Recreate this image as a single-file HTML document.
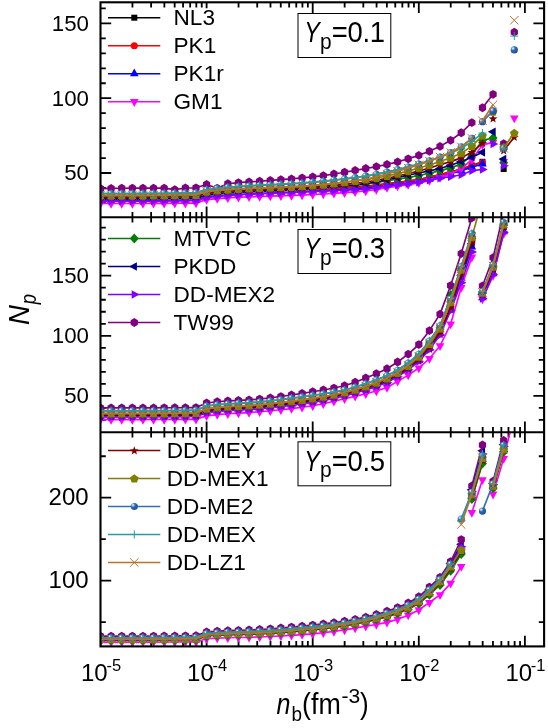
<!DOCTYPE html>
<html><head><meta charset="utf-8"><title>Np vs nb</title>
<style>html,body{margin:0;padding:0;background:#fff}body{width:548px;height:728px;position:relative;overflow:hidden;font-family:"Liberation Sans",sans-serif}svg text{font-family:"Liberation Sans",sans-serif;fill:#000}</style></head>
<body>
<svg width="548" height="728" viewBox="0 0 548 728" style="position:absolute;left:0;top:0;will-change:transform">
<defs><radialGradient id="sph" cx="0.32" cy="0.3" r="0.7"><stop offset="0" stop-color="#ffffff"/><stop offset="0.16" stop-color="#a9c6ea"/><stop offset="0.42" stop-color="#2f6bb8"/><stop offset="1" stop-color="#1d4f9a"/></radialGradient>
<clipPath id="c0"><rect x="100.5" y="2.3" width="443.6" height="215.0"/></clipPath>
<clipPath id="c1"><rect x="100.5" y="217.3" width="443.6" height="215.0"/></clipPath>
<clipPath id="c2"><rect x="100.5" y="432.3" width="443.6" height="214.09999999999997"/></clipPath>
</defs>
<rect width="548" height="728" fill="#fff"/>
<path d="M132.44 2.3L132.44 7.6M151.12 2.3L151.12 7.6M164.38 2.3L164.38 7.6M174.66 2.3L174.66 7.6M183.06 2.3L183.06 7.6M190.16 2.3L190.16 7.6M196.32 2.3L196.32 7.6M201.75 2.3L201.75 7.6M206.6 2.3L206.6 8.3M238.54 2.3L238.54 7.6M257.22 2.3L257.22 7.6M270.48 2.3L270.48 7.6M280.76 2.3L280.76 7.6M289.16 2.3L289.16 7.6M296.26 2.3L296.26 7.6M302.42 2.3L302.42 7.6M307.85 2.3L307.85 7.6M312.7 2.3L312.7 13M344.64 2.3L344.64 7.6M363.32 2.3L363.32 7.6M376.58 2.3L376.58 7.6M386.86 2.3L386.86 7.6M395.26 2.3L395.26 7.6M402.36 2.3L402.36 7.6M408.52 2.3L408.52 7.6M413.95 2.3L413.95 7.6M418.8 2.3L418.8 13M450.74 2.3L450.74 7.6M469.42 2.3L469.42 7.6M482.68 2.3L482.68 7.6M492.96 2.3L492.96 7.6M501.36 2.3L501.36 7.6M508.46 2.3L508.46 7.6M514.62 2.3L514.62 7.6M520.05 2.3L520.05 7.6M524.9 2.3L524.9 13M524.9 2.3L524.9 13M524.9 2.3L524.9 13M132.44 212L132.44 222.6M151.12 212L151.12 222.6M164.38 212L164.38 222.6M174.66 212L174.66 222.6M183.06 212L183.06 222.6M190.16 212L190.16 222.6M196.32 212L196.32 222.6M201.75 212L201.75 222.6M206.6 206.6L206.6 228M238.54 212L238.54 222.6M257.22 212L257.22 222.6M270.48 212L270.48 222.6M280.76 212L280.76 222.6M289.16 212L289.16 222.6M296.26 212L296.26 222.6M302.42 212L302.42 222.6M307.85 212L307.85 222.6M312.7 206.6L312.7 228M344.64 212L344.64 222.6M363.32 212L363.32 222.6M376.58 212L376.58 222.6M386.86 212L386.86 222.6M395.26 212L395.26 222.6M402.36 212L402.36 222.6M408.52 212L408.52 222.6M413.95 212L413.95 222.6M418.8 206.6L418.8 228M450.74 212L450.74 222.6M469.42 212L469.42 222.6M482.68 212L482.68 222.6M492.96 212L492.96 222.6M501.36 212L501.36 222.6M508.46 212L508.46 222.6M514.62 212L514.62 222.6M520.05 212L520.05 222.6M524.9 206.6L524.9 228M524.9 206.6L524.9 228M524.9 206.6L524.9 228M132.44 427L132.44 437.6M151.12 427L151.12 437.6M164.38 427L164.38 437.6M174.66 427L174.66 437.6M183.06 427L183.06 437.6M190.16 427L190.16 437.6M196.32 427L196.32 437.6M201.75 427L201.75 437.6M206.6 421.6L206.6 443M238.54 427L238.54 437.6M257.22 427L257.22 437.6M270.48 427L270.48 437.6M280.76 427L280.76 437.6M289.16 427L289.16 437.6M296.26 427L296.26 437.6M302.42 427L302.42 437.6M307.85 427L307.85 437.6M312.7 421.6L312.7 443M344.64 427L344.64 437.6M363.32 427L363.32 437.6M376.58 427L376.58 437.6M386.86 427L386.86 437.6M395.26 427L395.26 437.6M402.36 427L402.36 437.6M408.52 427L408.52 437.6M413.95 427L413.95 437.6M418.8 421.6L418.8 443M450.74 427L450.74 437.6M469.42 427L469.42 437.6M482.68 427L482.68 437.6M492.96 427L492.96 437.6M501.36 427L501.36 437.6M508.46 427L508.46 437.6M514.62 427L514.62 437.6M520.05 427L520.05 437.6M524.9 421.6L524.9 443M524.9 421.6L524.9 443M524.9 421.6L524.9 443M132.44 646.4L132.44 641.1M151.12 646.4L151.12 641.1M164.38 646.4L164.38 641.1M174.66 646.4L174.66 641.1M183.06 646.4L183.06 641.1M190.16 646.4L190.16 641.1M196.32 646.4L196.32 641.1M201.75 646.4L201.75 641.1M206.6 646.4L206.6 635.7M238.54 646.4L238.54 641.1M257.22 646.4L257.22 641.1M270.48 646.4L270.48 641.1M280.76 646.4L280.76 641.1M289.16 646.4L289.16 641.1M296.26 646.4L296.26 641.1M302.42 646.4L302.42 641.1M307.85 646.4L307.85 641.1M312.7 646.4L312.7 635.7M344.64 646.4L344.64 641.1M363.32 646.4L363.32 641.1M376.58 646.4L376.58 641.1M386.86 646.4L386.86 641.1M395.26 646.4L395.26 641.1M402.36 646.4L402.36 641.1M408.52 646.4L408.52 641.1M413.95 646.4L413.95 641.1M418.8 646.4L418.8 635.7M450.74 646.4L450.74 641.1M469.42 646.4L469.42 641.1M482.68 646.4L482.68 641.1M492.96 646.4L492.96 641.1M501.36 646.4L501.36 641.1M508.46 646.4L508.46 641.1M514.62 646.4L514.62 641.1M520.05 646.4L520.05 641.1M524.9 646.4L524.9 635.7M524.9 646.4L524.9 635.7M524.9 646.4L524.9 635.7M100.5 173L111.2 173M544.1 173L533.4 173M100.5 98.2L111.2 98.2M544.1 98.2L533.4 98.2M100.5 23.4L111.2 23.4M544.1 23.4L533.4 23.4M100.5 202.92L105.8 202.92M544.1 202.92L538.8 202.92M100.5 187.96L105.8 187.96M544.1 187.96L538.8 187.96M100.5 158.04L105.8 158.04M544.1 158.04L538.8 158.04M100.5 143.08L105.8 143.08M544.1 143.08L538.8 143.08M100.5 128.12L105.8 128.12M544.1 128.12L538.8 128.12M100.5 113.16L105.8 113.16M544.1 113.16L538.8 113.16M100.5 83.24L105.8 83.24M544.1 83.24L538.8 83.24M100.5 68.28L105.8 68.28M544.1 68.28L538.8 68.28M100.5 53.32L105.8 53.32M544.1 53.32L538.8 53.32M100.5 38.36L105.8 38.36M544.1 38.36L538.8 38.36M100.5 8.44L105.8 8.44M544.1 8.44L538.8 8.44M100.5 395.9L111.2 395.9M544.1 395.9L533.4 395.9M100.5 335.8L111.2 335.8M544.1 335.8L533.4 335.8M100.5 275.7L111.2 275.7M544.1 275.7L533.4 275.7M100.5 419.94L105.8 419.94M544.1 419.94L538.8 419.94M100.5 407.92L105.8 407.92M544.1 407.92L538.8 407.92M100.5 383.88L105.8 383.88M544.1 383.88L538.8 383.88M100.5 371.86L105.8 371.86M544.1 371.86L538.8 371.86M100.5 359.84L105.8 359.84M544.1 359.84L538.8 359.84M100.5 347.82L105.8 347.82M544.1 347.82L538.8 347.82M100.5 323.78L105.8 323.78M544.1 323.78L538.8 323.78M100.5 311.76L105.8 311.76M544.1 311.76L538.8 311.76M100.5 299.74L105.8 299.74M544.1 299.74L538.8 299.74M100.5 287.72L105.8 287.72M544.1 287.72L538.8 287.72M100.5 263.68L105.8 263.68M544.1 263.68L538.8 263.68M100.5 251.66L105.8 251.66M544.1 251.66L538.8 251.66M100.5 239.64L105.8 239.64M544.1 239.64L538.8 239.64M100.5 227.62L105.8 227.62M544.1 227.62L538.8 227.62M100.5 580.6L111.2 580.6M544.1 580.6L533.4 580.6M100.5 497.7L111.2 497.7M544.1 497.7L533.4 497.7M100.5 622.05L105.8 622.05M544.1 622.05L538.8 622.05M100.5 539.15L105.8 539.15M544.1 539.15L538.8 539.15M100.5 456.25L105.8 456.25M544.1 456.25L538.8 456.25" stroke="#000" stroke-width="1.8" fill="none"/>
<g clip-path="url(#c0)">
<polyline points="100.5,197.68 111.11,197.68 121.72,197.66 132.33,197.63 142.94,197.59 153.55,197.51 164.16,197.42 174.77,197.29 185.38,197.13 195.99,196.94 206.6,193.94 217.21,193.03 227.82,192.3 238.43,191.74 249.04,191.29 259.65,190.94 270.26,190.63 280.87,190.33 291.48,190.01 302.09,189.63 312.7,189.16 323.31,188.63 333.92,188.12 344.53,187.56 355.14,186.93 365.75,186.16 376.36,185.08 386.97,183.77 397.58,182.52 408.19,181.19 418.8,179.58 429.41,177.32 440.02,174.65 450.63,171.93 461.24,168.96 471.85,165.52 482.46,161.78" fill="none" stroke="#000000" stroke-width="1.65" stroke-linejoin="round"/>
<rect x="97.5" y="194.68" width="6.0" height="6.0" fill="#000000"/>
<rect x="108.11" y="194.68" width="6.0" height="6.0" fill="#000000"/>
<rect x="118.72" y="194.66" width="6.0" height="6.0" fill="#000000"/>
<rect x="129.33" y="194.63" width="6.0" height="6.0" fill="#000000"/>
<rect x="139.94" y="194.59" width="6.0" height="6.0" fill="#000000"/>
<rect x="150.55" y="194.51" width="6.0" height="6.0" fill="#000000"/>
<rect x="161.16" y="194.42" width="6.0" height="6.0" fill="#000000"/>
<rect x="171.77" y="194.29" width="6.0" height="6.0" fill="#000000"/>
<rect x="182.38" y="194.13" width="6.0" height="6.0" fill="#000000"/>
<rect x="192.99" y="193.94" width="6.0" height="6.0" fill="#000000"/>
<rect x="203.6" y="190.94" width="6.0" height="6.0" fill="#000000"/>
<rect x="214.21" y="190.03" width="6.0" height="6.0" fill="#000000"/>
<rect x="224.82" y="189.3" width="6.0" height="6.0" fill="#000000"/>
<rect x="235.43" y="188.74" width="6.0" height="6.0" fill="#000000"/>
<rect x="246.04" y="188.29" width="6.0" height="6.0" fill="#000000"/>
<rect x="256.65" y="187.94" width="6.0" height="6.0" fill="#000000"/>
<rect x="267.26" y="187.63" width="6.0" height="6.0" fill="#000000"/>
<rect x="277.87" y="187.33" width="6.0" height="6.0" fill="#000000"/>
<rect x="288.48" y="187.01" width="6.0" height="6.0" fill="#000000"/>
<rect x="299.09" y="186.63" width="6.0" height="6.0" fill="#000000"/>
<rect x="309.7" y="186.16" width="6.0" height="6.0" fill="#000000"/>
<rect x="320.31" y="185.63" width="6.0" height="6.0" fill="#000000"/>
<rect x="330.92" y="185.12" width="6.0" height="6.0" fill="#000000"/>
<rect x="341.53" y="184.56" width="6.0" height="6.0" fill="#000000"/>
<rect x="352.14" y="183.93" width="6.0" height="6.0" fill="#000000"/>
<rect x="362.75" y="183.16" width="6.0" height="6.0" fill="#000000"/>
<rect x="373.36" y="182.08" width="6.0" height="6.0" fill="#000000"/>
<rect x="383.97" y="180.77" width="6.0" height="6.0" fill="#000000"/>
<rect x="394.58" y="179.52" width="6.0" height="6.0" fill="#000000"/>
<rect x="405.19" y="178.19" width="6.0" height="6.0" fill="#000000"/>
<rect x="415.8" y="176.58" width="6.0" height="6.0" fill="#000000"/>
<rect x="426.41" y="174.32" width="6.0" height="6.0" fill="#000000"/>
<rect x="437.02" y="171.65" width="6.0" height="6.0" fill="#000000"/>
<rect x="447.63" y="168.93" width="6.0" height="6.0" fill="#000000"/>
<rect x="458.24" y="165.96" width="6.0" height="6.0" fill="#000000"/>
<rect x="468.85" y="162.52" width="6.0" height="6.0" fill="#000000"/>
<rect x="479.46" y="158.78" width="6.0" height="6.0" fill="#000000"/>
<rect x="500.68" y="165.96" width="6.0" height="6.0" fill="#000000"/>
<polyline points="100.5,198.43 111.11,198.43 121.72,198.41 132.33,198.38 142.94,198.33 153.55,198.26 164.16,198.17 174.77,198.04 185.38,197.88 195.99,197.68 206.6,194.69 217.21,193.7 227.82,192.92 238.43,192.3 249.04,191.8 259.65,191.4 270.26,191.05 280.87,190.72 291.48,190.37 302.09,189.96 312.7,189.46 323.31,188.92 333.92,188.42 344.53,187.88 355.14,187.25 365.75,186.46 376.36,185.24 386.97,183.77 397.58,182.48 408.19,181.17 418.8,179.58 429.41,177.32 440.02,174.65 450.63,171.93 461.24,168.96 471.85,165.52 482.46,162.53" fill="none" stroke="#ff0000" stroke-width="1.65" stroke-linejoin="round"/>
<circle cx="100.5" cy="198.43" r="3.5" fill="#ff0000"/>
<circle cx="111.11" cy="198.43" r="3.5" fill="#ff0000"/>
<circle cx="121.72" cy="198.41" r="3.5" fill="#ff0000"/>
<circle cx="132.33" cy="198.38" r="3.5" fill="#ff0000"/>
<circle cx="142.94" cy="198.33" r="3.5" fill="#ff0000"/>
<circle cx="153.55" cy="198.26" r="3.5" fill="#ff0000"/>
<circle cx="164.16" cy="198.17" r="3.5" fill="#ff0000"/>
<circle cx="174.77" cy="198.04" r="3.5" fill="#ff0000"/>
<circle cx="185.38" cy="197.88" r="3.5" fill="#ff0000"/>
<circle cx="195.99" cy="197.68" r="3.5" fill="#ff0000"/>
<circle cx="206.6" cy="194.69" r="3.5" fill="#ff0000"/>
<circle cx="217.21" cy="193.7" r="3.5" fill="#ff0000"/>
<circle cx="227.82" cy="192.92" r="3.5" fill="#ff0000"/>
<circle cx="238.43" cy="192.3" r="3.5" fill="#ff0000"/>
<circle cx="249.04" cy="191.8" r="3.5" fill="#ff0000"/>
<circle cx="259.65" cy="191.4" r="3.5" fill="#ff0000"/>
<circle cx="270.26" cy="191.05" r="3.5" fill="#ff0000"/>
<circle cx="280.87" cy="190.72" r="3.5" fill="#ff0000"/>
<circle cx="291.48" cy="190.37" r="3.5" fill="#ff0000"/>
<circle cx="302.09" cy="189.96" r="3.5" fill="#ff0000"/>
<circle cx="312.7" cy="189.46" r="3.5" fill="#ff0000"/>
<circle cx="323.31" cy="188.92" r="3.5" fill="#ff0000"/>
<circle cx="333.92" cy="188.42" r="3.5" fill="#ff0000"/>
<circle cx="344.53" cy="187.88" r="3.5" fill="#ff0000"/>
<circle cx="355.14" cy="187.25" r="3.5" fill="#ff0000"/>
<circle cx="365.75" cy="186.46" r="3.5" fill="#ff0000"/>
<circle cx="376.36" cy="185.24" r="3.5" fill="#ff0000"/>
<circle cx="386.97" cy="183.77" r="3.5" fill="#ff0000"/>
<circle cx="397.58" cy="182.48" r="3.5" fill="#ff0000"/>
<circle cx="408.19" cy="181.17" r="3.5" fill="#ff0000"/>
<circle cx="418.8" cy="179.58" r="3.5" fill="#ff0000"/>
<circle cx="429.41" cy="177.32" r="3.5" fill="#ff0000"/>
<circle cx="440.02" cy="174.65" r="3.5" fill="#ff0000"/>
<circle cx="450.63" cy="171.93" r="3.5" fill="#ff0000"/>
<circle cx="461.24" cy="168.96" r="3.5" fill="#ff0000"/>
<circle cx="471.85" cy="165.52" r="3.5" fill="#ff0000"/>
<circle cx="482.46" cy="162.53" r="3.5" fill="#ff0000"/>
<polyline points="100.5,200.98 111.11,200.97 121.72,200.96 132.33,200.93 142.94,200.88 153.55,200.81 164.16,200.71 174.77,200.58 185.38,200.42 195.99,200.23 206.6,197.24 217.21,196.14 227.82,195.25 238.43,194.55 249.04,193.98 259.65,193.51 270.26,193.09 280.87,192.7 291.48,192.29 302.09,191.82 312.7,191.25 323.31,190.65 333.92,190.08 344.53,189.47 355.14,188.78 365.75,187.96 376.36,186.79 386.97,185.42 397.58,184.13 408.19,182.81 418.8,181.23 429.41,179.12 440.02,176.59 450.63,173.75 461.24,170.61 471.85,167.17 482.46,164.02" fill="none" stroke="#0000ff" stroke-width="1.65" stroke-linejoin="round"/>
<polygon points="100.5,195.78 104.8,203.58 96.2,203.58" fill="#0000ff"/>
<polygon points="111.11,195.77 115.41,203.57 106.81,203.57" fill="#0000ff"/>
<polygon points="121.72,195.76 126.02,203.56 117.42,203.56" fill="#0000ff"/>
<polygon points="132.33,195.73 136.63,203.53 128.03,203.53" fill="#0000ff"/>
<polygon points="142.94,195.68 147.24,203.48 138.64,203.48" fill="#0000ff"/>
<polygon points="153.55,195.61 157.85,203.41 149.25,203.41" fill="#0000ff"/>
<polygon points="164.16,195.51 168.46,203.31 159.86,203.31" fill="#0000ff"/>
<polygon points="174.77,195.38 179.07,203.18 170.47,203.18" fill="#0000ff"/>
<polygon points="185.38,195.22 189.68,203.02 181.08,203.02" fill="#0000ff"/>
<polygon points="195.99,195.03 200.29,202.83 191.69,202.83" fill="#0000ff"/>
<polygon points="206.6,192.04 210.9,199.84 202.3,199.84" fill="#0000ff"/>
<polygon points="217.21,190.94 221.51,198.74 212.91,198.74" fill="#0000ff"/>
<polygon points="227.82,190.05 232.12,197.85 223.52,197.85" fill="#0000ff"/>
<polygon points="238.43,189.35 242.73,197.15 234.13,197.15" fill="#0000ff"/>
<polygon points="249.04,188.78 253.34,196.58 244.74,196.58" fill="#0000ff"/>
<polygon points="259.65,188.31 263.95,196.11 255.35,196.11" fill="#0000ff"/>
<polygon points="270.26,187.89 274.56,195.69 265.96,195.69" fill="#0000ff"/>
<polygon points="280.87,187.5 285.17,195.3 276.57,195.3" fill="#0000ff"/>
<polygon points="291.48,187.09 295.78,194.89 287.18,194.89" fill="#0000ff"/>
<polygon points="302.09,186.62 306.39,194.42 297.79,194.42" fill="#0000ff"/>
<polygon points="312.7,186.05 317,193.85 308.4,193.85" fill="#0000ff"/>
<polygon points="323.31,185.45 327.61,193.25 319.01,193.25" fill="#0000ff"/>
<polygon points="333.92,184.88 338.22,192.68 329.62,192.68" fill="#0000ff"/>
<polygon points="344.53,184.27 348.83,192.07 340.23,192.07" fill="#0000ff"/>
<polygon points="355.14,183.58 359.44,191.38 350.84,191.38" fill="#0000ff"/>
<polygon points="365.75,182.76 370.05,190.56 361.45,190.56" fill="#0000ff"/>
<polygon points="376.36,181.59 380.66,189.39 372.06,189.39" fill="#0000ff"/>
<polygon points="386.97,180.22 391.27,188.02 382.67,188.02" fill="#0000ff"/>
<polygon points="397.58,178.93 401.88,186.73 393.28,186.73" fill="#0000ff"/>
<polygon points="408.19,177.61 412.49,185.41 403.89,185.41" fill="#0000ff"/>
<polygon points="418.8,176.03 423.1,183.83 414.5,183.83" fill="#0000ff"/>
<polygon points="429.41,173.92 433.71,181.72 425.11,181.72" fill="#0000ff"/>
<polygon points="440.02,171.39 444.32,179.19 435.72,179.19" fill="#0000ff"/>
<polygon points="450.63,168.55 454.93,176.35 446.33,176.35" fill="#0000ff"/>
<polygon points="461.24,165.41 465.54,173.21 456.94,173.21" fill="#0000ff"/>
<polygon points="471.85,161.97 476.15,169.77 467.55,169.77" fill="#0000ff"/>
<polygon points="482.46,158.82 486.76,166.62 478.16,166.62" fill="#0000ff"/>
<polyline points="100.5,203.52 111.11,203.52 121.72,203.51 132.33,203.49 142.94,203.46 153.55,203.42 164.16,203.36 174.77,203.29 185.38,203.19 195.99,203.07 206.6,199.63 217.21,198.64 227.82,197.87 238.43,197.28 249.04,196.82 259.65,196.46 270.26,196.14 280.87,195.83 291.48,195.49 302.09,195.08 312.7,194.54 323.31,193.95 333.92,193.35 344.53,192.69 355.14,191.91 365.75,190.95 376.36,189.45 386.97,187.66 397.58,186.15 408.19,184.65 418.8,182.87 429.41,180.58 440.02,177.64 450.63,173.88 461.24,168.66 471.85,159.69 482.46,144.88 493.07,142.33" fill="none" stroke="#ff00ff" stroke-width="1.65" stroke-linejoin="round"/>
<polygon points="100.5,208.72 104.8,200.92 96.2,200.92" fill="#ff00ff"/>
<polygon points="111.11,208.72 115.41,200.92 106.81,200.92" fill="#ff00ff"/>
<polygon points="121.72,208.71 126.02,200.91 117.42,200.91" fill="#ff00ff"/>
<polygon points="132.33,208.69 136.63,200.89 128.03,200.89" fill="#ff00ff"/>
<polygon points="142.94,208.66 147.24,200.86 138.64,200.86" fill="#ff00ff"/>
<polygon points="153.55,208.62 157.85,200.82 149.25,200.82" fill="#ff00ff"/>
<polygon points="164.16,208.56 168.46,200.76 159.86,200.76" fill="#ff00ff"/>
<polygon points="174.77,208.49 179.07,200.69 170.47,200.69" fill="#ff00ff"/>
<polygon points="185.38,208.39 189.68,200.59 181.08,200.59" fill="#ff00ff"/>
<polygon points="195.99,208.27 200.29,200.47 191.69,200.47" fill="#ff00ff"/>
<polygon points="206.6,204.83 210.9,197.03 202.3,197.03" fill="#ff00ff"/>
<polygon points="217.21,203.84 221.51,196.04 212.91,196.04" fill="#ff00ff"/>
<polygon points="227.82,203.07 232.12,195.27 223.52,195.27" fill="#ff00ff"/>
<polygon points="238.43,202.48 242.73,194.68 234.13,194.68" fill="#ff00ff"/>
<polygon points="249.04,202.02 253.34,194.22 244.74,194.22" fill="#ff00ff"/>
<polygon points="259.65,201.66 263.95,193.86 255.35,193.86" fill="#ff00ff"/>
<polygon points="270.26,201.34 274.56,193.54 265.96,193.54" fill="#ff00ff"/>
<polygon points="280.87,201.03 285.17,193.23 276.57,193.23" fill="#ff00ff"/>
<polygon points="291.48,200.69 295.78,192.89 287.18,192.89" fill="#ff00ff"/>
<polygon points="302.09,200.28 306.39,192.48 297.79,192.48" fill="#ff00ff"/>
<polygon points="312.7,199.74 317,191.94 308.4,191.94" fill="#ff00ff"/>
<polygon points="323.31,199.15 327.61,191.35 319.01,191.35" fill="#ff00ff"/>
<polygon points="333.92,198.55 338.22,190.75 329.62,190.75" fill="#ff00ff"/>
<polygon points="344.53,197.89 348.83,190.09 340.23,190.09" fill="#ff00ff"/>
<polygon points="355.14,197.11 359.44,189.31 350.84,189.31" fill="#ff00ff"/>
<polygon points="365.75,196.15 370.05,188.35 361.45,188.35" fill="#ff00ff"/>
<polygon points="376.36,194.65 380.66,186.85 372.06,186.85" fill="#ff00ff"/>
<polygon points="386.97,192.86 391.27,185.06 382.67,185.06" fill="#ff00ff"/>
<polygon points="397.58,191.35 401.88,183.55 393.28,183.55" fill="#ff00ff"/>
<polygon points="408.19,189.85 412.49,182.05 403.89,182.05" fill="#ff00ff"/>
<polygon points="418.8,188.07 423.1,180.27 414.5,180.27" fill="#ff00ff"/>
<polygon points="429.41,185.78 433.71,177.98 425.11,177.98" fill="#ff00ff"/>
<polygon points="440.02,182.84 444.32,175.04 435.72,175.04" fill="#ff00ff"/>
<polygon points="450.63,179.08 454.93,171.28 446.33,171.28" fill="#ff00ff"/>
<polygon points="461.24,173.86 465.54,166.06 456.94,166.06" fill="#ff00ff"/>
<polygon points="471.85,164.89 476.15,157.09 467.55,157.09" fill="#ff00ff"/>
<polygon points="482.46,150.08 486.76,142.28 478.16,142.28" fill="#ff00ff"/>
<polygon points="493.07,147.53 497.37,139.73 488.77,139.73" fill="#ff00ff"/>
<polygon points="503.68,166.68 507.98,158.88 499.38,158.88" fill="#ff00ff"/>
<polygon points="514.29,123.3 518.59,115.5 509.99,115.5" fill="#ff00ff"/>
<polyline points="100.5,198.43 111.11,198.43 121.72,198.41 132.33,198.38 142.94,198.33 153.55,198.26 164.16,198.17 174.77,198.04 185.38,197.88 195.99,197.68 206.6,194.69 217.21,193.54 227.82,192.62 238.43,191.89 249.04,191.31 259.65,190.82 270.26,190.39 280.87,189.96 291.48,189.49 302.09,188.94 312.7,188.26 323.31,187.49 333.92,186.69 344.53,185.82 355.14,184.86 365.75,183.77 376.36,182.39 386.97,180.78 397.58,179.17 408.19,177.46 418.8,175.54 429.41,173.26 440.02,170.61 450.63,167.88 461.24,164.02 471.85,155.05 482.46,140.39 493.07,137.99" fill="none" stroke="#008000" stroke-width="1.65" stroke-linejoin="round"/>
<polygon points="100.5,193.43 105,198.43 100.5,203.43 96,198.43" fill="#008000"/>
<polygon points="111.11,193.43 115.61,198.43 111.11,203.43 106.61,198.43" fill="#008000"/>
<polygon points="121.72,193.41 126.22,198.41 121.72,203.41 117.22,198.41" fill="#008000"/>
<polygon points="132.33,193.38 136.83,198.38 132.33,203.38 127.83,198.38" fill="#008000"/>
<polygon points="142.94,193.33 147.44,198.33 142.94,203.33 138.44,198.33" fill="#008000"/>
<polygon points="153.55,193.26 158.05,198.26 153.55,203.26 149.05,198.26" fill="#008000"/>
<polygon points="164.16,193.17 168.66,198.17 164.16,203.17 159.66,198.17" fill="#008000"/>
<polygon points="174.77,193.04 179.27,198.04 174.77,203.04 170.27,198.04" fill="#008000"/>
<polygon points="185.38,192.88 189.88,197.88 185.38,202.88 180.88,197.88" fill="#008000"/>
<polygon points="195.99,192.68 200.49,197.68 195.99,202.68 191.49,197.68" fill="#008000"/>
<polygon points="206.6,189.69 211.1,194.69 206.6,199.69 202.1,194.69" fill="#008000"/>
<polygon points="217.21,188.54 221.71,193.54 217.21,198.54 212.71,193.54" fill="#008000"/>
<polygon points="227.82,187.62 232.32,192.62 227.82,197.62 223.32,192.62" fill="#008000"/>
<polygon points="238.43,186.89 242.93,191.89 238.43,196.89 233.93,191.89" fill="#008000"/>
<polygon points="249.04,186.31 253.54,191.31 249.04,196.31 244.54,191.31" fill="#008000"/>
<polygon points="259.65,185.82 264.15,190.82 259.65,195.82 255.15,190.82" fill="#008000"/>
<polygon points="270.26,185.39 274.76,190.39 270.26,195.39 265.76,190.39" fill="#008000"/>
<polygon points="280.87,184.96 285.37,189.96 280.87,194.96 276.37,189.96" fill="#008000"/>
<polygon points="291.48,184.49 295.98,189.49 291.48,194.49 286.98,189.49" fill="#008000"/>
<polygon points="302.09,183.94 306.59,188.94 302.09,193.94 297.59,188.94" fill="#008000"/>
<polygon points="312.7,183.26 317.2,188.26 312.7,193.26 308.2,188.26" fill="#008000"/>
<polygon points="323.31,182.49 327.81,187.49 323.31,192.49 318.81,187.49" fill="#008000"/>
<polygon points="333.92,181.69 338.42,186.69 333.92,191.69 329.42,186.69" fill="#008000"/>
<polygon points="344.53,180.82 349.03,185.82 344.53,190.82 340.03,185.82" fill="#008000"/>
<polygon points="355.14,179.86 359.64,184.86 355.14,189.86 350.64,184.86" fill="#008000"/>
<polygon points="365.75,178.77 370.25,183.77 365.75,188.77 361.25,183.77" fill="#008000"/>
<polygon points="376.36,177.39 380.86,182.39 376.36,187.39 371.86,182.39" fill="#008000"/>
<polygon points="386.97,175.78 391.47,180.78 386.97,185.78 382.47,180.78" fill="#008000"/>
<polygon points="397.58,174.17 402.08,179.17 397.58,184.17 393.08,179.17" fill="#008000"/>
<polygon points="408.19,172.46 412.69,177.46 408.19,182.46 403.69,177.46" fill="#008000"/>
<polygon points="418.8,170.54 423.3,175.54 418.8,180.54 414.3,175.54" fill="#008000"/>
<polygon points="429.41,168.26 433.91,173.26 429.41,178.26 424.91,173.26" fill="#008000"/>
<polygon points="440.02,165.61 444.52,170.61 440.02,175.61 435.52,170.61" fill="#008000"/>
<polygon points="450.63,162.88 455.13,167.88 450.63,172.88 446.13,167.88" fill="#008000"/>
<polygon points="461.24,159.02 465.74,164.02 461.24,169.02 456.74,164.02" fill="#008000"/>
<polygon points="471.85,150.05 476.35,155.05 471.85,160.05 467.35,155.05" fill="#008000"/>
<polygon points="482.46,135.39 486.96,140.39 482.46,145.39 477.96,140.39" fill="#008000"/>
<polygon points="493.07,132.99 497.57,137.99 493.07,142.99 488.57,137.99" fill="#008000"/>
<polygon points="503.68,157.68 508.18,162.68 503.68,167.68 499.18,162.68" fill="#008000"/>
<polyline points="100.5,199.18 111.11,199.18 121.72,199.16 132.33,199.13 142.94,199.08 153.55,199.01 164.16,198.91 174.77,198.79 185.38,198.63 195.99,198.43 206.6,195.44 217.21,194.23 227.82,193.26 238.43,192.48 249.04,191.86 259.65,191.33 270.26,190.86 280.87,190.39 291.48,189.89 302.09,189.29 312.7,188.56 323.31,187.76 333.92,186.94 344.53,186.05 355.14,185.01 365.75,183.77 376.36,181.94 386.97,179.73 397.58,177.54 408.19,175.27 418.8,173 429.41,170.88 440.02,168.51 450.63,165.28 461.24,161.48 471.85,157.29 482.46,152.36" fill="none" stroke="#000080" stroke-width="1.65" stroke-linejoin="round"/>
<polygon points="95.3,199.18 103.1,194.88 103.1,203.48" fill="#000080"/>
<polygon points="105.91,199.18 113.71,194.88 113.71,203.48" fill="#000080"/>
<polygon points="116.52,199.16 124.32,194.86 124.32,203.46" fill="#000080"/>
<polygon points="127.13,199.13 134.93,194.83 134.93,203.43" fill="#000080"/>
<polygon points="137.74,199.08 145.54,194.78 145.54,203.38" fill="#000080"/>
<polygon points="148.35,199.01 156.15,194.71 156.15,203.31" fill="#000080"/>
<polygon points="158.96,198.91 166.76,194.61 166.76,203.21" fill="#000080"/>
<polygon points="169.57,198.79 177.37,194.49 177.37,203.09" fill="#000080"/>
<polygon points="180.18,198.63 187.98,194.33 187.98,202.93" fill="#000080"/>
<polygon points="190.79,198.43 198.59,194.13 198.59,202.73" fill="#000080"/>
<polygon points="201.4,195.44 209.2,191.14 209.2,199.74" fill="#000080"/>
<polygon points="212.01,194.23 219.81,189.93 219.81,198.53" fill="#000080"/>
<polygon points="222.62,193.26 230.42,188.96 230.42,197.56" fill="#000080"/>
<polygon points="233.23,192.48 241.03,188.18 241.03,196.78" fill="#000080"/>
<polygon points="243.84,191.86 251.64,187.56 251.64,196.16" fill="#000080"/>
<polygon points="254.45,191.33 262.25,187.03 262.25,195.63" fill="#000080"/>
<polygon points="265.06,190.86 272.86,186.56 272.86,195.16" fill="#000080"/>
<polygon points="275.67,190.39 283.47,186.09 283.47,194.69" fill="#000080"/>
<polygon points="286.28,189.89 294.08,185.59 294.08,194.19" fill="#000080"/>
<polygon points="296.89,189.29 304.69,184.99 304.69,193.59" fill="#000080"/>
<polygon points="307.5,188.56 315.3,184.26 315.3,192.86" fill="#000080"/>
<polygon points="318.11,187.76 325.91,183.46 325.91,192.06" fill="#000080"/>
<polygon points="328.72,186.94 336.52,182.64 336.52,191.24" fill="#000080"/>
<polygon points="339.33,186.05 347.13,181.75 347.13,190.35" fill="#000080"/>
<polygon points="349.94,185.01 357.74,180.71 357.74,189.31" fill="#000080"/>
<polygon points="360.55,183.77 368.35,179.47 368.35,188.07" fill="#000080"/>
<polygon points="371.16,181.94 378.96,177.64 378.96,186.24" fill="#000080"/>
<polygon points="381.77,179.73 389.57,175.43 389.57,184.03" fill="#000080"/>
<polygon points="392.38,177.54 400.18,173.24 400.18,181.84" fill="#000080"/>
<polygon points="402.99,175.27 410.79,170.97 410.79,179.57" fill="#000080"/>
<polygon points="413.6,173 421.4,168.7 421.4,177.3" fill="#000080"/>
<polygon points="424.21,170.88 432.01,166.58 432.01,175.18" fill="#000080"/>
<polygon points="434.82,168.51 442.62,164.21 442.62,172.81" fill="#000080"/>
<polygon points="445.43,165.28 453.23,160.98 453.23,169.58" fill="#000080"/>
<polygon points="456.04,161.48 463.84,157.18 463.84,165.78" fill="#000080"/>
<polygon points="466.65,157.29 474.45,152.99 474.45,161.59" fill="#000080"/>
<polygon points="477.26,152.36 485.06,148.06 485.06,156.66" fill="#000080"/>
<polygon points="487.87,131.86 495.67,127.56 495.67,136.16" fill="#000080"/>
<polygon points="498.48,159.09 506.28,154.79 506.28,163.39" fill="#000080"/>
<polyline points="100.5,201.12 111.11,201.12 121.72,201.11 132.33,201.08 142.94,201.03 153.55,200.96 164.16,200.86 174.77,200.73 185.38,200.57 195.99,200.38 206.6,197.38 217.21,196.3 227.82,195.42 238.43,194.71 249.04,194.13 259.65,193.65 270.26,193.23 280.87,192.85 291.48,192.46 302.09,192.04 312.7,191.55 323.31,191.07 333.92,190.65 344.53,190.22 355.14,189.7 365.75,189.01 376.36,187.73 386.97,186.16 397.58,184.86 408.19,183.58 418.8,182.13 429.41,180.23 440.02,178.24 450.63,176.69 461.24,174.8 471.85,170.76 482.46,169.41" fill="none" stroke="#8000ff" stroke-width="1.65" stroke-linejoin="round"/>
<polygon points="105.7,201.12 97.9,196.82 97.9,205.42" fill="#8000ff"/>
<polygon points="116.31,201.12 108.51,196.82 108.51,205.42" fill="#8000ff"/>
<polygon points="126.92,201.11 119.12,196.81 119.12,205.41" fill="#8000ff"/>
<polygon points="137.53,201.08 129.73,196.78 129.73,205.38" fill="#8000ff"/>
<polygon points="148.14,201.03 140.34,196.73 140.34,205.33" fill="#8000ff"/>
<polygon points="158.75,200.96 150.95,196.66 150.95,205.26" fill="#8000ff"/>
<polygon points="169.36,200.86 161.56,196.56 161.56,205.16" fill="#8000ff"/>
<polygon points="179.97,200.73 172.17,196.43 172.17,205.03" fill="#8000ff"/>
<polygon points="190.58,200.57 182.78,196.27 182.78,204.87" fill="#8000ff"/>
<polygon points="201.19,200.38 193.39,196.08 193.39,204.68" fill="#8000ff"/>
<polygon points="211.8,197.38 204,193.08 204,201.68" fill="#8000ff"/>
<polygon points="222.41,196.3 214.61,192 214.61,200.6" fill="#8000ff"/>
<polygon points="233.02,195.42 225.22,191.12 225.22,199.72" fill="#8000ff"/>
<polygon points="243.63,194.71 235.83,190.41 235.83,199.01" fill="#8000ff"/>
<polygon points="254.24,194.13 246.44,189.83 246.44,198.43" fill="#8000ff"/>
<polygon points="264.85,193.65 257.05,189.35 257.05,197.95" fill="#8000ff"/>
<polygon points="275.46,193.23 267.66,188.93 267.66,197.53" fill="#8000ff"/>
<polygon points="286.07,192.85 278.27,188.55 278.27,197.15" fill="#8000ff"/>
<polygon points="296.68,192.46 288.88,188.16 288.88,196.76" fill="#8000ff"/>
<polygon points="307.29,192.04 299.49,187.74 299.49,196.34" fill="#8000ff"/>
<polygon points="317.9,191.55 310.1,187.25 310.1,195.85" fill="#8000ff"/>
<polygon points="328.51,191.07 320.71,186.77 320.71,195.37" fill="#8000ff"/>
<polygon points="339.12,190.65 331.32,186.35 331.32,194.95" fill="#8000ff"/>
<polygon points="349.73,190.22 341.93,185.92 341.93,194.52" fill="#8000ff"/>
<polygon points="360.34,189.7 352.54,185.4 352.54,194" fill="#8000ff"/>
<polygon points="370.95,189.01 363.15,184.71 363.15,193.31" fill="#8000ff"/>
<polygon points="381.56,187.73 373.76,183.43 373.76,192.03" fill="#8000ff"/>
<polygon points="392.17,186.16 384.37,181.86 384.37,190.46" fill="#8000ff"/>
<polygon points="402.78,184.86 394.98,180.56 394.98,189.16" fill="#8000ff"/>
<polygon points="413.39,183.58 405.59,179.28 405.59,187.88" fill="#8000ff"/>
<polygon points="424,182.13 416.2,177.83 416.2,186.43" fill="#8000ff"/>
<polygon points="434.61,180.23 426.81,175.93 426.81,184.53" fill="#8000ff"/>
<polygon points="445.22,178.24 437.42,173.94 437.42,182.54" fill="#8000ff"/>
<polygon points="455.83,176.69 448.03,172.39 448.03,180.99" fill="#8000ff"/>
<polygon points="466.44,174.8 458.64,170.5 458.64,179.1" fill="#8000ff"/>
<polygon points="477.05,170.76 469.25,166.46 469.25,175.06" fill="#8000ff"/>
<polygon points="487.66,169.41 479.86,165.11 479.86,173.71" fill="#8000ff"/>
<polygon points="498.27,143.98 490.47,139.68 490.47,148.28" fill="#8000ff"/>
<polygon points="508.88,165.82 501.08,161.52 501.08,170.12" fill="#8000ff"/>
<polyline points="100.5,188.56 111.11,188.37 121.72,188.24 132.33,188.17 142.94,188.13 153.55,188.11 164.16,188.11 174.77,189.61 185.38,187.96 195.99,187.81 206.6,184.52 217.21,188.26 227.82,183.77 238.43,182.59 249.04,181.91 259.65,181.23 270.26,180.41 280.87,179.63 291.48,178.83 302.09,177.94 312.7,176.89 323.31,175.58 333.92,174.01 344.53,172.25 355.14,170.39 365.75,168.51 376.36,166.63 386.97,164.47 397.58,161.86 408.19,158.81 418.8,155.35 429.41,151.29 440.02,146.37 450.63,140.3 461.24,132.76 471.85,122.58" fill="none" stroke="#800080" stroke-width="1.65" stroke-linejoin="round"/>
<polygon points="100.5,184.16 104.12,186.36 104.12,190.76 100.5,192.96 96.88,190.76 96.88,186.36" fill="#800080"/>
<polygon points="111.11,183.97 114.73,186.17 114.73,190.57 111.11,192.77 107.49,190.57 107.49,186.17" fill="#800080"/>
<polygon points="121.72,183.84 125.34,186.04 125.34,190.44 121.72,192.64 118.1,190.44 118.1,186.04" fill="#800080"/>
<polygon points="132.33,183.77 135.95,185.97 135.95,190.37 132.33,192.57 128.71,190.37 128.71,185.97" fill="#800080"/>
<polygon points="142.94,183.73 146.56,185.93 146.56,190.33 142.94,192.53 139.32,190.33 139.32,185.93" fill="#800080"/>
<polygon points="153.55,183.71 157.17,185.91 157.17,190.31 153.55,192.51 149.93,190.31 149.93,185.91" fill="#800080"/>
<polygon points="164.16,183.71 167.78,185.91 167.78,190.31 164.16,192.51 160.54,190.31 160.54,185.91" fill="#800080"/>
<polygon points="174.77,185.21 178.39,187.41 178.39,191.81 174.77,194.01 171.15,191.81 171.15,187.41" fill="#800080"/>
<polygon points="185.38,183.56 189,185.76 189,190.16 185.38,192.36 181.76,190.16 181.76,185.76" fill="#800080"/>
<polygon points="195.99,183.41 199.61,185.61 199.61,190.01 195.99,192.21 192.37,190.01 192.37,185.61" fill="#800080"/>
<polygon points="206.6,180.12 210.22,182.32 210.22,186.72 206.6,188.92 202.98,186.72 202.98,182.32" fill="#800080"/>
<polygon points="217.21,183.86 220.83,186.06 220.83,190.46 217.21,192.66 213.59,190.46 213.59,186.06" fill="#800080"/>
<polygon points="227.82,179.37 231.44,181.57 231.44,185.97 227.82,188.17 224.2,185.97 224.2,181.57" fill="#800080"/>
<polygon points="238.43,178.19 242.05,180.39 242.05,184.79 238.43,186.99 234.81,184.79 234.81,180.39" fill="#800080"/>
<polygon points="249.04,177.51 252.66,179.71 252.66,184.11 249.04,186.31 245.42,184.11 245.42,179.71" fill="#800080"/>
<polygon points="259.65,176.83 263.27,179.03 263.27,183.43 259.65,185.63 256.03,183.43 256.03,179.03" fill="#800080"/>
<polygon points="270.26,176.01 273.88,178.21 273.88,182.61 270.26,184.81 266.64,182.61 266.64,178.21" fill="#800080"/>
<polygon points="280.87,175.23 284.49,177.43 284.49,181.83 280.87,184.03 277.25,181.83 277.25,177.43" fill="#800080"/>
<polygon points="291.48,174.43 295.1,176.63 295.1,181.03 291.48,183.23 287.86,181.03 287.86,176.63" fill="#800080"/>
<polygon points="302.09,173.54 305.71,175.74 305.71,180.14 302.09,182.34 298.47,180.14 298.47,175.74" fill="#800080"/>
<polygon points="312.7,172.49 316.32,174.69 316.32,179.09 312.7,181.29 309.08,179.09 309.08,174.69" fill="#800080"/>
<polygon points="323.31,171.18 326.93,173.38 326.93,177.78 323.31,179.98 319.69,177.78 319.69,173.38" fill="#800080"/>
<polygon points="333.92,169.61 337.54,171.81 337.54,176.21 333.92,178.41 330.3,176.21 330.3,171.81" fill="#800080"/>
<polygon points="344.53,167.85 348.15,170.05 348.15,174.45 344.53,176.65 340.91,174.45 340.91,170.05" fill="#800080"/>
<polygon points="355.14,165.99 358.76,168.19 358.76,172.59 355.14,174.79 351.52,172.59 351.52,168.19" fill="#800080"/>
<polygon points="365.75,164.11 369.37,166.31 369.37,170.71 365.75,172.91 362.13,170.71 362.13,166.31" fill="#800080"/>
<polygon points="376.36,162.23 379.98,164.43 379.98,168.83 376.36,171.03 372.74,168.83 372.74,164.43" fill="#800080"/>
<polygon points="386.97,160.07 390.59,162.27 390.59,166.67 386.97,168.87 383.35,166.67 383.35,162.27" fill="#800080"/>
<polygon points="397.58,157.46 401.2,159.66 401.2,164.06 397.58,166.26 393.96,164.06 393.96,159.66" fill="#800080"/>
<polygon points="408.19,154.41 411.81,156.61 411.81,161.01 408.19,163.21 404.57,161.01 404.57,156.61" fill="#800080"/>
<polygon points="418.8,150.95 422.42,153.15 422.42,157.55 418.8,159.75 415.18,157.55 415.18,153.15" fill="#800080"/>
<polygon points="429.41,146.89 433.03,149.09 433.03,153.49 429.41,155.69 425.79,153.49 425.79,149.09" fill="#800080"/>
<polygon points="440.02,141.97 443.64,144.17 443.64,148.57 440.02,150.77 436.4,148.57 436.4,144.17" fill="#800080"/>
<polygon points="450.63,135.9 454.25,138.1 454.25,142.5 450.63,144.7 447.01,142.5 447.01,138.1" fill="#800080"/>
<polygon points="461.24,128.36 464.86,130.56 464.86,134.96 461.24,137.16 457.62,134.96 457.62,130.56" fill="#800080"/>
<polygon points="471.85,118.18 475.47,120.38 475.47,124.78 471.85,126.98 468.23,124.78 468.23,120.38" fill="#800080"/>
<polyline points="482.46,107.77 493.07,94.31" fill="none" stroke="#800080" stroke-width="1.65" stroke-linejoin="round"/>
<polygon points="482.46,103.37 486.08,105.57 486.08,109.97 482.46,112.17 478.84,109.97 478.84,105.57" fill="#800080"/>
<polygon points="493.07,89.91 496.69,92.11 496.69,96.51 493.07,98.71 489.45,96.51 489.45,92.11" fill="#800080"/>
<polygon points="503.68,139.28 507.3,141.48 507.3,145.88 503.68,148.08 500.06,145.88 500.06,141.48" fill="#800080"/>
<polygon points="514.29,27.68 517.91,29.88 517.91,34.28 514.29,36.48 510.67,34.28 510.67,29.88" fill="#800080"/>
<polyline points="100.5,196.94 111.11,196.93 121.72,196.92 132.33,196.89 142.94,196.84 153.55,196.77 164.16,196.67 174.77,196.54 185.38,196.38 195.99,196.19 206.6,193.2 217.21,192.09 227.82,191.22 238.43,190.54 249.04,190 259.65,189.56 270.26,189.16 280.87,188.76 291.48,188.31 302.09,187.76 312.7,187.06 323.31,186.25 333.92,185.37 344.53,184.38 355.14,183.26 365.75,181.98 376.36,180.28 386.97,178.24 397.58,176.06 408.19,173.67 418.8,171.06 429.41,168.05 440.02,164.77 450.63,161.62 461.24,157.89 471.85,152.06 482.46,143.08" fill="none" stroke="#800000" stroke-width="1.65" stroke-linejoin="round"/>
<polygon points="100.5,192.64 101.62,195.7 104.87,195.81 102.31,197.82 103.2,200.96 100.5,199.14 97.8,200.96 98.69,197.82 96.13,195.81 99.38,195.7" fill="#800000"/>
<polygon points="111.11,192.63 112.23,195.69 115.48,195.81 112.92,197.82 113.81,200.95 111.11,199.13 108.41,200.95 109.3,197.82 106.74,195.81 109.99,195.69" fill="#800000"/>
<polygon points="121.72,192.62 122.84,195.68 126.09,195.79 123.53,197.8 124.42,200.94 121.72,199.12 119.02,200.94 119.91,197.8 117.35,195.79 120.6,195.68" fill="#800000"/>
<polygon points="132.33,192.59 133.45,195.65 136.7,195.76 134.14,197.77 135.03,200.91 132.33,199.09 129.63,200.91 130.52,197.77 127.96,195.76 131.21,195.65" fill="#800000"/>
<polygon points="142.94,192.54 144.06,195.6 147.31,195.72 144.75,197.72 145.64,200.86 142.94,199.04 140.24,200.86 141.13,197.72 138.57,195.72 141.82,195.6" fill="#800000"/>
<polygon points="153.55,192.47 154.67,195.53 157.92,195.65 155.36,197.65 156.25,200.79 153.55,198.97 150.85,200.79 151.74,197.65 149.18,195.65 152.43,195.53" fill="#800000"/>
<polygon points="164.16,192.37 165.28,195.43 168.53,195.55 165.97,197.56 166.86,200.69 164.16,198.87 161.46,200.69 162.35,197.56 159.79,195.55 163.04,195.43" fill="#800000"/>
<polygon points="174.77,192.24 175.89,195.31 179.14,195.42 176.58,197.43 177.47,200.57 174.77,198.74 172.07,200.57 172.96,197.43 170.4,195.42 173.65,195.31" fill="#800000"/>
<polygon points="185.38,192.08 186.5,195.15 189.75,195.26 187.19,197.27 188.08,200.41 185.38,198.58 182.68,200.41 183.57,197.27 181.01,195.26 184.26,195.15" fill="#800000"/>
<polygon points="195.99,191.89 197.11,194.95 200.36,195.07 197.8,197.08 198.69,200.21 195.99,198.39 193.29,200.21 194.18,197.08 191.62,195.07 194.87,194.95" fill="#800000"/>
<polygon points="206.6,188.9 207.72,191.96 210.97,192.07 208.41,194.08 209.3,197.22 206.6,195.4 203.9,197.22 204.79,194.08 202.23,192.07 205.48,191.96" fill="#800000"/>
<polygon points="217.21,187.79 218.33,190.85 221.58,190.97 219.02,192.98 219.91,196.11 217.21,194.29 214.51,196.11 215.4,192.98 212.84,190.97 216.09,190.85" fill="#800000"/>
<polygon points="227.82,186.92 228.94,189.98 232.19,190.1 229.63,192.11 230.52,195.24 227.82,193.42 225.12,195.24 226.01,192.11 223.45,190.1 226.7,189.98" fill="#800000"/>
<polygon points="238.43,186.24 239.55,189.3 242.8,189.42 240.24,191.43 241.13,194.56 238.43,192.74 235.73,194.56 236.62,191.43 234.06,189.42 237.31,189.3" fill="#800000"/>
<polygon points="249.04,185.7 250.16,188.77 253.41,188.88 250.85,190.89 251.74,194.03 249.04,192.2 246.34,194.03 247.23,190.89 244.67,188.88 247.92,188.77" fill="#800000"/>
<polygon points="259.65,185.26 260.77,188.32 264.02,188.44 261.46,190.45 262.35,193.58 259.65,191.76 256.95,193.58 257.84,190.45 255.28,188.44 258.53,188.32" fill="#800000"/>
<polygon points="270.26,184.86 271.38,187.93 274.63,188.04 272.07,190.05 272.96,193.18 270.26,191.36 267.56,193.18 268.45,190.05 265.89,188.04 269.14,187.93" fill="#800000"/>
<polygon points="280.87,184.46 281.99,187.52 285.24,187.64 282.68,189.65 283.57,192.78 280.87,190.96 278.17,192.78 279.06,189.65 276.5,187.64 279.75,187.52" fill="#800000"/>
<polygon points="291.48,184.01 292.6,187.07 295.85,187.19 293.29,189.2 294.18,192.33 291.48,190.51 288.78,192.33 289.67,189.2 287.11,187.19 290.36,187.07" fill="#800000"/>
<polygon points="302.09,183.46 303.21,186.52 306.46,186.64 303.9,188.65 304.79,191.78 302.09,189.96 299.39,191.78 300.28,188.65 297.72,186.64 300.97,186.52" fill="#800000"/>
<polygon points="312.7,182.76 313.82,185.83 317.07,185.94 314.51,187.95 315.4,191.08 312.7,189.26 310,191.08 310.89,187.95 308.33,185.94 311.58,185.83" fill="#800000"/>
<polygon points="323.31,181.95 324.43,185.01 327.68,185.13 325.12,187.14 326.01,190.27 323.31,188.45 320.61,190.27 321.5,187.14 318.94,185.13 322.19,185.01" fill="#800000"/>
<polygon points="333.92,181.07 335.04,184.13 338.29,184.24 335.73,186.25 336.62,189.39 333.92,187.57 331.22,189.39 332.11,186.25 329.55,184.24 332.8,184.13" fill="#800000"/>
<polygon points="344.53,180.08 345.65,183.14 348.9,183.26 346.34,185.27 347.23,188.4 344.53,186.58 341.83,188.4 342.72,185.27 340.16,183.26 343.41,183.14" fill="#800000"/>
<polygon points="355.14,178.96 356.26,182.02 359.51,182.14 356.95,184.15 357.84,187.28 355.14,185.46 352.44,187.28 353.33,184.15 350.77,182.14 354.02,182.02" fill="#800000"/>
<polygon points="365.75,177.68 366.87,180.74 370.12,180.85 367.56,182.86 368.45,186 365.75,184.18 363.05,186 363.94,182.86 361.38,180.85 364.63,180.74" fill="#800000"/>
<polygon points="376.36,175.98 377.48,179.05 380.73,179.16 378.17,181.17 379.06,184.3 376.36,182.48 373.66,184.3 374.55,181.17 371.99,179.16 375.24,179.05" fill="#800000"/>
<polygon points="386.97,173.94 388.09,177 391.34,177.11 388.78,179.12 389.67,182.26 386.97,180.44 384.27,182.26 385.16,179.12 382.6,177.11 385.85,177" fill="#800000"/>
<polygon points="397.58,171.76 398.7,174.82 401.95,174.94 399.39,176.95 400.28,180.08 397.58,178.26 394.88,180.08 395.77,176.95 393.21,174.94 396.46,174.82" fill="#800000"/>
<polygon points="408.19,169.37 409.31,172.44 412.56,172.55 410,174.56 410.89,177.69 408.19,175.87 405.49,177.69 406.38,174.56 403.82,172.55 407.07,172.44" fill="#800000"/>
<polygon points="418.8,166.76 419.92,169.82 423.17,169.93 420.61,171.94 421.5,175.08 418.8,173.26 416.1,175.08 416.99,171.94 414.43,169.93 417.68,169.82" fill="#800000"/>
<polygon points="429.41,163.75 430.53,166.81 433.78,166.93 431.22,168.94 432.11,172.07 429.41,170.25 426.71,172.07 427.6,168.94 425.04,166.93 428.29,166.81" fill="#800000"/>
<polygon points="440.02,160.47 441.14,163.53 444.39,163.65 441.83,165.66 442.72,168.79 440.02,166.97 437.32,168.79 438.21,165.66 435.65,163.65 438.9,163.53" fill="#800000"/>
<polygon points="450.63,157.32 451.75,160.39 455,160.5 452.44,162.51 453.33,165.65 450.63,163.82 447.93,165.65 448.82,162.51 446.26,160.5 449.51,160.39" fill="#800000"/>
<polygon points="461.24,153.59 462.36,156.65 465.61,156.77 463.05,158.78 463.94,161.91 461.24,160.09 458.54,161.91 459.43,158.78 456.87,156.77 460.12,156.65" fill="#800000"/>
<polygon points="471.85,147.76 472.97,150.82 476.22,150.93 473.66,152.94 474.55,156.08 471.85,154.26 469.15,156.08 470.04,152.94 467.48,150.93 470.73,150.82" fill="#800000"/>
<polygon points="482.46,138.78 483.58,141.84 486.83,141.96 484.27,143.97 485.16,147.1 482.46,145.28 479.76,147.1 480.65,143.97 478.09,141.96 481.34,141.84" fill="#800000"/>
<polygon points="493.07,114.25 494.19,117.31 497.44,117.42 494.88,119.43 495.77,122.57 493.07,120.75 490.37,122.57 491.26,119.43 488.7,117.42 491.95,117.31" fill="#800000"/>
<polyline points="503.68,150.56 514.29,137.1" fill="none" stroke="#800000" stroke-width="1.65" stroke-linejoin="round"/>
<polygon points="503.68,146.26 504.8,149.32 508.05,149.44 505.49,151.45 506.38,154.58 503.68,152.76 500.98,154.58 501.87,151.45 499.31,149.44 502.56,149.32" fill="#800000"/>
<polygon points="514.29,132.8 515.41,135.86 518.66,135.97 516.1,137.98 516.99,141.12 514.29,139.3 511.59,141.12 512.48,137.98 509.92,135.97 513.17,135.86" fill="#800000"/>
<polyline points="100.5,195.74 111.11,195.73 121.72,195.72 132.33,195.69 142.94,195.64 153.55,195.57 164.16,195.47 174.77,195.35 185.38,195.19 195.99,194.99 206.6,191.7 217.21,190.57 227.82,189.7 238.43,189.04 249.04,188.52 259.65,188.09 270.26,187.72 280.87,187.33 291.48,186.87 302.09,186.31 312.7,185.57 323.31,184.64 333.92,183.56 344.53,182.35 355.14,181.02 365.75,179.58 376.36,177.95 386.97,175.99 397.58,173.65 408.19,170.96 418.8,168.06 429.41,164.95 440.02,161.48 450.63,157.8 461.24,153.25 471.85,146.07 482.46,135.6" fill="none" stroke="#808000" stroke-width="1.65" stroke-linejoin="round"/>
<polygon points="100.5,191.44 104.87,194.62 103.2,199.76 97.8,199.76 96.13,194.62" fill="#808000"/>
<polygon points="111.11,191.43 115.48,194.61 113.81,199.76 108.41,199.76 106.74,194.61" fill="#808000"/>
<polygon points="121.72,191.42 126.09,194.6 124.42,199.74 119.02,199.74 117.35,194.6" fill="#808000"/>
<polygon points="132.33,191.39 136.7,194.57 135.03,199.71 129.63,199.71 127.96,194.57" fill="#808000"/>
<polygon points="142.94,191.34 147.31,194.52 145.64,199.66 140.24,199.66 138.57,194.52" fill="#808000"/>
<polygon points="153.55,191.27 157.92,194.45 156.25,199.59 150.85,199.59 149.18,194.45" fill="#808000"/>
<polygon points="164.16,191.17 168.53,194.35 166.86,199.5 161.46,199.5 159.79,194.35" fill="#808000"/>
<polygon points="174.77,191.05 179.14,194.23 177.47,199.37 172.07,199.37 170.4,194.23" fill="#808000"/>
<polygon points="185.38,190.89 189.75,194.07 188.08,199.21 182.68,199.21 181.01,194.07" fill="#808000"/>
<polygon points="195.99,190.69 200.36,193.87 198.69,199.01 193.29,199.01 191.62,193.87" fill="#808000"/>
<polygon points="206.6,187.4 210.97,190.58 209.3,195.72 203.9,195.72 202.23,190.58" fill="#808000"/>
<polygon points="217.21,186.27 221.58,189.45 219.91,194.6 214.51,194.6 212.84,189.45" fill="#808000"/>
<polygon points="227.82,185.4 232.19,188.58 230.52,193.72 225.12,193.72 223.45,188.58" fill="#808000"/>
<polygon points="238.43,184.74 242.8,187.91 241.13,193.06 235.73,193.06 234.06,187.91" fill="#808000"/>
<polygon points="249.04,184.22 253.41,187.4 251.74,192.54 246.34,192.54 244.67,187.4" fill="#808000"/>
<polygon points="259.65,183.79 264.02,186.97 262.35,192.12 256.95,192.12 255.28,186.97" fill="#808000"/>
<polygon points="270.26,183.42 274.63,186.59 272.96,191.74 267.56,191.74 265.89,186.59" fill="#808000"/>
<polygon points="280.87,183.03 285.24,186.21 283.57,191.35 278.17,191.35 276.5,186.21" fill="#808000"/>
<polygon points="291.48,182.57 295.85,185.75 294.18,190.9 288.78,190.9 287.11,185.75" fill="#808000"/>
<polygon points="302.09,182.01 306.46,185.18 304.79,190.33 299.39,190.33 297.72,185.18" fill="#808000"/>
<polygon points="312.7,181.27 317.07,184.44 315.4,189.59 310,189.59 308.33,184.44" fill="#808000"/>
<polygon points="323.31,180.34 327.68,183.52 326.01,188.66 320.61,188.66 318.94,183.52" fill="#808000"/>
<polygon points="333.92,179.26 338.29,182.44 336.62,187.59 331.22,187.59 329.55,182.44" fill="#808000"/>
<polygon points="344.53,178.05 348.9,181.23 347.23,186.37 341.83,186.37 340.16,181.23" fill="#808000"/>
<polygon points="355.14,176.72 359.51,179.89 357.84,185.04 352.44,185.04 350.77,179.89" fill="#808000"/>
<polygon points="365.75,175.28 370.12,178.46 368.45,183.6 363.05,183.6 361.38,178.46" fill="#808000"/>
<polygon points="376.36,173.65 380.73,176.82 379.06,181.97 373.66,181.97 371.99,176.82" fill="#808000"/>
<polygon points="386.97,171.69 391.34,174.87 389.67,180.01 384.27,180.01 382.6,174.87" fill="#808000"/>
<polygon points="397.58,169.35 401.95,172.53 400.28,177.68 394.88,177.68 393.21,172.53" fill="#808000"/>
<polygon points="408.19,166.66 412.56,169.84 410.89,174.98 405.49,174.98 403.82,169.84" fill="#808000"/>
<polygon points="418.8,163.76 423.17,166.94 421.5,172.08 416.1,172.08 414.43,166.94" fill="#808000"/>
<polygon points="429.41,160.65 433.78,163.83 432.11,168.97 426.71,168.97 425.04,163.83" fill="#808000"/>
<polygon points="440.02,157.18 444.39,160.36 442.72,165.5 437.32,165.5 435.65,160.36" fill="#808000"/>
<polygon points="450.63,153.5 455,156.68 453.33,161.82 447.93,161.82 446.26,156.68" fill="#808000"/>
<polygon points="461.24,148.95 465.61,152.13 463.94,157.27 458.54,157.27 456.87,152.13" fill="#808000"/>
<polygon points="471.85,141.77 476.22,144.95 474.55,150.09 469.15,150.09 467.48,144.95" fill="#808000"/>
<polygon points="482.46,131.3 486.83,134.48 485.16,139.62 479.76,139.62 478.09,134.48" fill="#808000"/>
<polygon points="493.07,107.36 497.44,110.54 495.77,115.69 490.37,115.69 488.7,110.54" fill="#808000"/>
<polyline points="503.68,147.57 514.29,133.06" fill="none" stroke="#808000" stroke-width="1.65" stroke-linejoin="round"/>
<polygon points="503.68,143.27 508.05,146.45 506.38,151.59 500.98,151.59 499.31,146.45" fill="#808000"/>
<polygon points="514.29,128.76 518.66,131.94 516.99,137.08 511.59,137.08 509.92,131.94" fill="#808000"/>
<polyline points="100.5,193.64 111.11,193.64 121.72,193.63 132.33,193.6 142.94,193.55 153.55,193.48 164.16,193.38 174.77,193.25 185.38,193.09 195.99,192.9 206.6,189.76 217.21,188.48 227.82,187.47 238.43,186.67 249.04,186.03 259.65,185.49 270.26,185 280.87,184.51 291.48,183.95 302.09,183.27 312.7,182.42 323.31,181.42 333.92,180.3 344.53,179.05 355.14,177.67 365.75,176.14 376.36,174.29 386.97,172.1 397.58,169.68 408.19,166.98 418.8,164.02 429.41,160.78 440.02,156.99 450.63,152.51 461.24,146.82 471.85,138.29" fill="none" stroke="#2f6fb8" stroke-width="1.65" stroke-linejoin="round"/>
<circle cx="100.5" cy="193.64" r="3.6" fill="url(#sph)"/>
<circle cx="111.11" cy="193.64" r="3.6" fill="url(#sph)"/>
<circle cx="121.72" cy="193.63" r="3.6" fill="url(#sph)"/>
<circle cx="132.33" cy="193.6" r="3.6" fill="url(#sph)"/>
<circle cx="142.94" cy="193.55" r="3.6" fill="url(#sph)"/>
<circle cx="153.55" cy="193.48" r="3.6" fill="url(#sph)"/>
<circle cx="164.16" cy="193.38" r="3.6" fill="url(#sph)"/>
<circle cx="174.77" cy="193.25" r="3.6" fill="url(#sph)"/>
<circle cx="185.38" cy="193.09" r="3.6" fill="url(#sph)"/>
<circle cx="195.99" cy="192.9" r="3.6" fill="url(#sph)"/>
<circle cx="206.6" cy="189.76" r="3.6" fill="url(#sph)"/>
<circle cx="217.21" cy="188.48" r="3.6" fill="url(#sph)"/>
<circle cx="227.82" cy="187.47" r="3.6" fill="url(#sph)"/>
<circle cx="238.43" cy="186.67" r="3.6" fill="url(#sph)"/>
<circle cx="249.04" cy="186.03" r="3.6" fill="url(#sph)"/>
<circle cx="259.65" cy="185.49" r="3.6" fill="url(#sph)"/>
<circle cx="270.26" cy="185" r="3.6" fill="url(#sph)"/>
<circle cx="280.87" cy="184.51" r="3.6" fill="url(#sph)"/>
<circle cx="291.48" cy="183.95" r="3.6" fill="url(#sph)"/>
<circle cx="302.09" cy="183.27" r="3.6" fill="url(#sph)"/>
<circle cx="312.7" cy="182.42" r="3.6" fill="url(#sph)"/>
<circle cx="323.31" cy="181.42" r="3.6" fill="url(#sph)"/>
<circle cx="333.92" cy="180.3" r="3.6" fill="url(#sph)"/>
<circle cx="344.53" cy="179.05" r="3.6" fill="url(#sph)"/>
<circle cx="355.14" cy="177.67" r="3.6" fill="url(#sph)"/>
<circle cx="365.75" cy="176.14" r="3.6" fill="url(#sph)"/>
<circle cx="376.36" cy="174.29" r="3.6" fill="url(#sph)"/>
<circle cx="386.97" cy="172.1" r="3.6" fill="url(#sph)"/>
<circle cx="397.58" cy="169.68" r="3.6" fill="url(#sph)"/>
<circle cx="408.19" cy="166.98" r="3.6" fill="url(#sph)"/>
<circle cx="418.8" cy="164.02" r="3.6" fill="url(#sph)"/>
<circle cx="429.41" cy="160.78" r="3.6" fill="url(#sph)"/>
<circle cx="440.02" cy="156.99" r="3.6" fill="url(#sph)"/>
<circle cx="450.63" cy="152.51" r="3.6" fill="url(#sph)"/>
<circle cx="461.24" cy="146.82" r="3.6" fill="url(#sph)"/>
<circle cx="471.85" cy="138.29" r="3.6" fill="url(#sph)"/>
<polyline points="482.46,121.69 493.07,110.92" fill="none" stroke="#2f6fb8" stroke-width="1.65" stroke-linejoin="round"/>
<circle cx="482.46" cy="121.69" r="3.6" fill="url(#sph)"/>
<circle cx="493.07" cy="110.92" r="3.6" fill="url(#sph)"/>
<circle cx="503.68" cy="148.32" r="3.6" fill="url(#sph)"/>
<circle cx="514.29" cy="49.88" r="3.6" fill="url(#sph)"/>
<polyline points="100.5,193.5 111.11,193.49 121.72,193.48 132.33,193.45 142.94,193.4 153.55,193.33 164.16,193.23 174.77,193.1 185.38,192.94 195.99,192.75 206.6,189.61 217.21,188.28 227.82,187.23 238.43,186.39 249.04,185.71 259.65,185.13 270.26,184.61 280.87,184.08 291.48,183.51 302.09,182.82 312.7,181.98 323.31,181.01 333.92,179.98 344.53,178.85 355.14,177.58 365.75,176.14 376.36,174.31 386.97,172.1 397.58,169.66 408.19,166.95 418.8,164.02 429.41,160.87 440.02,157.29 450.63,153.22 461.24,148.32 471.85,141.58 482.46,133.06" fill="none" stroke="#20a0a0" stroke-width="1.65" stroke-linejoin="round"/>
<path d="M96.5 193.5H104.5M100.5 189.5V197.5" stroke="#20a0a0" stroke-width="1" fill="none"/>
<path d="M107.11 193.49H115.11M111.11 189.49V197.49" stroke="#20a0a0" stroke-width="1" fill="none"/>
<path d="M117.72 193.48H125.72M121.72 189.48V197.48" stroke="#20a0a0" stroke-width="1" fill="none"/>
<path d="M128.33 193.45H136.33M132.33 189.45V197.45" stroke="#20a0a0" stroke-width="1" fill="none"/>
<path d="M138.94 193.4H146.94M142.94 189.4V197.4" stroke="#20a0a0" stroke-width="1" fill="none"/>
<path d="M149.55 193.33H157.55M153.55 189.33V197.33" stroke="#20a0a0" stroke-width="1" fill="none"/>
<path d="M160.16 193.23H168.16M164.16 189.23V197.23" stroke="#20a0a0" stroke-width="1" fill="none"/>
<path d="M170.77 193.1H178.77M174.77 189.1V197.1" stroke="#20a0a0" stroke-width="1" fill="none"/>
<path d="M181.38 192.94H189.38M185.38 188.94V196.94" stroke="#20a0a0" stroke-width="1" fill="none"/>
<path d="M191.99 192.75H199.99M195.99 188.75V196.75" stroke="#20a0a0" stroke-width="1" fill="none"/>
<path d="M202.6 189.61H210.6M206.6 185.61V193.61" stroke="#20a0a0" stroke-width="1" fill="none"/>
<path d="M213.21 188.28H221.21M217.21 184.28V192.28" stroke="#20a0a0" stroke-width="1" fill="none"/>
<path d="M223.82 187.23H231.82M227.82 183.23V191.23" stroke="#20a0a0" stroke-width="1" fill="none"/>
<path d="M234.43 186.39H242.43M238.43 182.39V190.39" stroke="#20a0a0" stroke-width="1" fill="none"/>
<path d="M245.04 185.71H253.04M249.04 181.71V189.71" stroke="#20a0a0" stroke-width="1" fill="none"/>
<path d="M255.65 185.13H263.65M259.65 181.13V189.13" stroke="#20a0a0" stroke-width="1" fill="none"/>
<path d="M266.26 184.61H274.26M270.26 180.61V188.61" stroke="#20a0a0" stroke-width="1" fill="none"/>
<path d="M276.87 184.08H284.87M280.87 180.08V188.08" stroke="#20a0a0" stroke-width="1" fill="none"/>
<path d="M287.48 183.51H295.48M291.48 179.51V187.51" stroke="#20a0a0" stroke-width="1" fill="none"/>
<path d="M298.09 182.82H306.09M302.09 178.82V186.82" stroke="#20a0a0" stroke-width="1" fill="none"/>
<path d="M308.7 181.98H316.7M312.7 177.98V185.98" stroke="#20a0a0" stroke-width="1" fill="none"/>
<path d="M319.31 181.01H327.31M323.31 177.01V185.01" stroke="#20a0a0" stroke-width="1" fill="none"/>
<path d="M329.92 179.98H337.92M333.92 175.98V183.98" stroke="#20a0a0" stroke-width="1" fill="none"/>
<path d="M340.53 178.85H348.53M344.53 174.85V182.85" stroke="#20a0a0" stroke-width="1" fill="none"/>
<path d="M351.14 177.58H359.14M355.14 173.58V181.58" stroke="#20a0a0" stroke-width="1" fill="none"/>
<path d="M361.75 176.14H369.75M365.75 172.14V180.14" stroke="#20a0a0" stroke-width="1" fill="none"/>
<path d="M372.36 174.31H380.36M376.36 170.31V178.31" stroke="#20a0a0" stroke-width="1" fill="none"/>
<path d="M382.97 172.1H390.97M386.97 168.1V176.1" stroke="#20a0a0" stroke-width="1" fill="none"/>
<path d="M393.58 169.66H401.58M397.58 165.66V173.66" stroke="#20a0a0" stroke-width="1" fill="none"/>
<path d="M404.19 166.95H412.19M408.19 162.95V170.95" stroke="#20a0a0" stroke-width="1" fill="none"/>
<path d="M414.8 164.02H422.8M418.8 160.02V168.02" stroke="#20a0a0" stroke-width="1" fill="none"/>
<path d="M425.41 160.87H433.41M429.41 156.87V164.87" stroke="#20a0a0" stroke-width="1" fill="none"/>
<path d="M436.02 157.29H444.02M440.02 153.29V161.29" stroke="#20a0a0" stroke-width="1" fill="none"/>
<path d="M446.63 153.22H454.63M450.63 149.22V157.22" stroke="#20a0a0" stroke-width="1" fill="none"/>
<path d="M457.24 148.32H465.24M461.24 144.32V152.32" stroke="#20a0a0" stroke-width="1" fill="none"/>
<path d="M467.85 141.58H475.85M471.85 137.58V145.58" stroke="#20a0a0" stroke-width="1" fill="none"/>
<path d="M478.46 133.06H486.46M482.46 129.06V137.06" stroke="#20a0a0" stroke-width="1" fill="none"/>
<path d="M499.68 148.76H507.68M503.68 144.76V152.76" stroke="#20a0a0" stroke-width="1" fill="none"/>
<path d="M510.29 36.12H518.29M514.29 32.12V40.12" stroke="#20a0a0" stroke-width="1" fill="none"/>
<polyline points="100.5,195.44 111.11,195.44 121.72,195.42 132.33,195.39 142.94,195.34 153.55,195.27 164.16,195.18 174.77,195.05 185.38,194.89 195.99,194.69 206.6,191.4 217.21,190.28 227.82,189.41 238.43,188.75 249.04,188.23 259.65,187.82 270.26,187.44 280.87,187.05 291.48,186.6 302.09,186.02 312.7,185.27 323.31,184.34 333.92,183.28 344.53,182.04 355.14,180.62 365.75,178.98 376.36,176.76 386.97,174.05 397.58,171.2 408.19,168.11 418.8,164.77 429.41,161.12 440.02,156.99 450.63,152.44 461.24,146.82 471.85,138.29" fill="none" stroke="#b8742c" stroke-width="1.65" stroke-linejoin="round"/>
<path d="M96.3 191.24L104.7 199.64M96.3 199.64L104.7 191.24" stroke="#b8742c" stroke-width="1" fill="none"/>
<path d="M106.91 191.24L115.31 199.64M106.91 199.64L115.31 191.24" stroke="#b8742c" stroke-width="1" fill="none"/>
<path d="M117.52 191.22L125.92 199.62M117.52 199.62L125.92 191.22" stroke="#b8742c" stroke-width="1" fill="none"/>
<path d="M128.13 191.19L136.53 199.59M128.13 199.59L136.53 191.19" stroke="#b8742c" stroke-width="1" fill="none"/>
<path d="M138.74 191.14L147.14 199.54M138.74 199.54L147.14 191.14" stroke="#b8742c" stroke-width="1" fill="none"/>
<path d="M149.35 191.07L157.75 199.47M149.35 199.47L157.75 191.07" stroke="#b8742c" stroke-width="1" fill="none"/>
<path d="M159.96 190.98L168.36 199.38M159.96 199.38L168.36 190.98" stroke="#b8742c" stroke-width="1" fill="none"/>
<path d="M170.57 190.85L178.97 199.25M170.57 199.25L178.97 190.85" stroke="#b8742c" stroke-width="1" fill="none"/>
<path d="M181.18 190.69L189.58 199.09M181.18 199.09L189.58 190.69" stroke="#b8742c" stroke-width="1" fill="none"/>
<path d="M191.79 190.49L200.19 198.89M191.79 198.89L200.19 190.49" stroke="#b8742c" stroke-width="1" fill="none"/>
<path d="M202.4 187.2L210.8 195.6M202.4 195.6L210.8 187.2" stroke="#b8742c" stroke-width="1" fill="none"/>
<path d="M213.01 186.08L221.41 194.48M213.01 194.48L221.41 186.08" stroke="#b8742c" stroke-width="1" fill="none"/>
<path d="M223.62 185.21L232.02 193.61M223.62 193.61L232.02 185.21" stroke="#b8742c" stroke-width="1" fill="none"/>
<path d="M234.23 184.55L242.63 192.95M234.23 192.95L242.63 184.55" stroke="#b8742c" stroke-width="1" fill="none"/>
<path d="M244.84 184.03L253.24 192.43M244.84 192.43L253.24 184.03" stroke="#b8742c" stroke-width="1" fill="none"/>
<path d="M255.45 183.62L263.85 192.02M255.45 192.02L263.85 183.62" stroke="#b8742c" stroke-width="1" fill="none"/>
<path d="M266.06 183.24L274.46 191.64M266.06 191.64L274.46 183.24" stroke="#b8742c" stroke-width="1" fill="none"/>
<path d="M276.67 182.85L285.07 191.25M276.67 191.25L285.07 182.85" stroke="#b8742c" stroke-width="1" fill="none"/>
<path d="M287.28 182.4L295.68 190.8M287.28 190.8L295.68 182.4" stroke="#b8742c" stroke-width="1" fill="none"/>
<path d="M297.89 181.82L306.29 190.22M297.89 190.22L306.29 181.82" stroke="#b8742c" stroke-width="1" fill="none"/>
<path d="M308.5 181.07L316.9 189.47M308.5 189.47L316.9 181.07" stroke="#b8742c" stroke-width="1" fill="none"/>
<path d="M319.11 180.14L327.51 188.54M319.11 188.54L327.51 180.14" stroke="#b8742c" stroke-width="1" fill="none"/>
<path d="M329.72 179.08L338.12 187.48M329.72 187.48L338.12 179.08" stroke="#b8742c" stroke-width="1" fill="none"/>
<path d="M340.33 177.84L348.73 186.24M340.33 186.24L348.73 177.84" stroke="#b8742c" stroke-width="1" fill="none"/>
<path d="M350.94 176.42L359.34 184.82M350.94 184.82L359.34 176.42" stroke="#b8742c" stroke-width="1" fill="none"/>
<path d="M361.55 174.78L369.95 183.18M361.55 183.18L369.95 174.78" stroke="#b8742c" stroke-width="1" fill="none"/>
<path d="M372.16 172.56L380.56 180.96M372.16 180.96L380.56 172.56" stroke="#b8742c" stroke-width="1" fill="none"/>
<path d="M382.77 169.85L391.17 178.25M382.77 178.25L391.17 169.85" stroke="#b8742c" stroke-width="1" fill="none"/>
<path d="M393.38 167L401.78 175.4M393.38 175.4L401.78 167" stroke="#b8742c" stroke-width="1" fill="none"/>
<path d="M403.99 163.91L412.39 172.31M403.99 172.31L412.39 163.91" stroke="#b8742c" stroke-width="1" fill="none"/>
<path d="M414.6 160.57L423 168.97M414.6 168.97L423 160.57" stroke="#b8742c" stroke-width="1" fill="none"/>
<path d="M425.21 156.92L433.61 165.32M425.21 165.32L433.61 156.92" stroke="#b8742c" stroke-width="1" fill="none"/>
<path d="M435.82 152.79L444.22 161.19M435.82 161.19L444.22 152.79" stroke="#b8742c" stroke-width="1" fill="none"/>
<path d="M446.43 148.24L454.83 156.64M446.43 156.64L454.83 148.24" stroke="#b8742c" stroke-width="1" fill="none"/>
<path d="M457.04 142.62L465.44 151.02M457.04 151.02L465.44 142.62" stroke="#b8742c" stroke-width="1" fill="none"/>
<path d="M467.65 134.09L476.05 142.49M467.65 142.49L476.05 134.09" stroke="#b8742c" stroke-width="1" fill="none"/>
<polyline points="482.46,120.79 493.07,104.78" fill="none" stroke="#b8742c" stroke-width="1.65" stroke-linejoin="round"/>
<path d="M478.26 116.59L486.66 124.99M478.26 124.99L486.66 116.59" stroke="#b8742c" stroke-width="1" fill="none"/>
<path d="M488.87 100.58L497.27 108.98M488.87 108.98L497.27 100.58" stroke="#b8742c" stroke-width="1" fill="none"/>
<path d="M499.48 144.12L507.88 152.52M499.48 152.52L507.88 144.12" stroke="#b8742c" stroke-width="1" fill="none"/>
<path d="M510.09 16.06L518.49 24.46M510.09 24.46L518.49 16.06" stroke="#b8742c" stroke-width="1" fill="none"/>
</g>
<g clip-path="url(#c1)">
<polyline points="100.5,415.37 111.11,415.37 121.72,415.36 132.33,415.34 142.94,415.31 153.55,415.26 164.16,415.2 174.77,415.12 185.38,415.01 195.99,414.88 206.6,410.89 217.21,409.63 227.82,408.83 238.43,408.25 249.04,407.68 259.65,406.89 270.26,405.85 280.87,404.71 291.48,403.46 302.09,402.07 312.7,400.54 323.31,398.76 333.92,396.66 344.53,394.33 355.14,391.64 365.75,388.52 376.36,385.01 386.97,380.84 397.58,375.21 408.19,368.31 418.8,359.77 429.41,347.66 440.02,332.9 450.63,307.87 461.24,274.22 471.85,242.38" fill="none" stroke="#000000" stroke-width="1.65" stroke-linejoin="round"/>
<rect x="97.5" y="412.37" width="6.0" height="6.0" fill="#000000"/>
<rect x="108.11" y="412.37" width="6.0" height="6.0" fill="#000000"/>
<rect x="118.72" y="412.36" width="6.0" height="6.0" fill="#000000"/>
<rect x="129.33" y="412.34" width="6.0" height="6.0" fill="#000000"/>
<rect x="139.94" y="412.31" width="6.0" height="6.0" fill="#000000"/>
<rect x="150.55" y="412.26" width="6.0" height="6.0" fill="#000000"/>
<rect x="161.16" y="412.2" width="6.0" height="6.0" fill="#000000"/>
<rect x="171.77" y="412.12" width="6.0" height="6.0" fill="#000000"/>
<rect x="182.38" y="412.01" width="6.0" height="6.0" fill="#000000"/>
<rect x="192.99" y="411.88" width="6.0" height="6.0" fill="#000000"/>
<rect x="203.6" y="407.89" width="6.0" height="6.0" fill="#000000"/>
<rect x="214.21" y="406.63" width="6.0" height="6.0" fill="#000000"/>
<rect x="224.82" y="405.83" width="6.0" height="6.0" fill="#000000"/>
<rect x="235.43" y="405.25" width="6.0" height="6.0" fill="#000000"/>
<rect x="246.04" y="404.68" width="6.0" height="6.0" fill="#000000"/>
<rect x="256.65" y="403.89" width="6.0" height="6.0" fill="#000000"/>
<rect x="267.26" y="402.85" width="6.0" height="6.0" fill="#000000"/>
<rect x="277.87" y="401.71" width="6.0" height="6.0" fill="#000000"/>
<rect x="288.48" y="400.46" width="6.0" height="6.0" fill="#000000"/>
<rect x="299.09" y="399.07" width="6.0" height="6.0" fill="#000000"/>
<rect x="309.7" y="397.54" width="6.0" height="6.0" fill="#000000"/>
<rect x="320.31" y="395.76" width="6.0" height="6.0" fill="#000000"/>
<rect x="330.92" y="393.66" width="6.0" height="6.0" fill="#000000"/>
<rect x="341.53" y="391.33" width="6.0" height="6.0" fill="#000000"/>
<rect x="352.14" y="388.64" width="6.0" height="6.0" fill="#000000"/>
<rect x="362.75" y="385.52" width="6.0" height="6.0" fill="#000000"/>
<rect x="373.36" y="382.01" width="6.0" height="6.0" fill="#000000"/>
<rect x="383.97" y="377.84" width="6.0" height="6.0" fill="#000000"/>
<rect x="394.58" y="372.21" width="6.0" height="6.0" fill="#000000"/>
<rect x="405.19" y="365.31" width="6.0" height="6.0" fill="#000000"/>
<rect x="415.8" y="356.77" width="6.0" height="6.0" fill="#000000"/>
<rect x="426.41" y="344.66" width="6.0" height="6.0" fill="#000000"/>
<rect x="437.02" y="329.9" width="6.0" height="6.0" fill="#000000"/>
<rect x="447.63" y="304.87" width="6.0" height="6.0" fill="#000000"/>
<rect x="458.24" y="271.22" width="6.0" height="6.0" fill="#000000"/>
<rect x="468.85" y="239.38" width="6.0" height="6.0" fill="#000000"/>
<polyline points="482.46,294.34 493.07,268.93 503.68,226.86" fill="none" stroke="#000000" stroke-width="1.65" stroke-linejoin="round"/>
<rect x="479.46" y="291.34" width="6.0" height="6.0" fill="#000000"/>
<rect x="490.07" y="265.93" width="6.0" height="6.0" fill="#000000"/>
<rect x="500.68" y="223.86" width="6.0" height="6.0" fill="#000000"/>
<polyline points="100.5,415.97 111.11,415.97 121.72,415.96 132.33,415.95 142.94,415.92 153.55,415.87 164.16,415.82 174.77,415.74 185.38,415.64 195.99,415.52 206.6,411.6 217.21,410.34 227.82,409.53 238.43,408.95 249.04,408.38 259.65,407.58 270.26,406.56 280.87,405.43 291.48,404.19 302.09,402.76 312.7,401.18 323.31,399.32 333.92,397.13 344.53,394.73 355.14,392.03 365.75,388.89 376.36,385.37 386.97,381.18 397.58,375.46 408.19,368.52 418.8,359.94 429.41,347.77 440.02,332.9 450.63,307.87 461.24,274.22 471.85,242.38" fill="none" stroke="#ff0000" stroke-width="1.65" stroke-linejoin="round"/>
<circle cx="100.5" cy="415.97" r="3.5" fill="#ff0000"/>
<circle cx="111.11" cy="415.97" r="3.5" fill="#ff0000"/>
<circle cx="121.72" cy="415.96" r="3.5" fill="#ff0000"/>
<circle cx="132.33" cy="415.95" r="3.5" fill="#ff0000"/>
<circle cx="142.94" cy="415.92" r="3.5" fill="#ff0000"/>
<circle cx="153.55" cy="415.87" r="3.5" fill="#ff0000"/>
<circle cx="164.16" cy="415.82" r="3.5" fill="#ff0000"/>
<circle cx="174.77" cy="415.74" r="3.5" fill="#ff0000"/>
<circle cx="185.38" cy="415.64" r="3.5" fill="#ff0000"/>
<circle cx="195.99" cy="415.52" r="3.5" fill="#ff0000"/>
<circle cx="206.6" cy="411.6" r="3.5" fill="#ff0000"/>
<circle cx="217.21" cy="410.34" r="3.5" fill="#ff0000"/>
<circle cx="227.82" cy="409.53" r="3.5" fill="#ff0000"/>
<circle cx="238.43" cy="408.95" r="3.5" fill="#ff0000"/>
<circle cx="249.04" cy="408.38" r="3.5" fill="#ff0000"/>
<circle cx="259.65" cy="407.58" r="3.5" fill="#ff0000"/>
<circle cx="270.26" cy="406.56" r="3.5" fill="#ff0000"/>
<circle cx="280.87" cy="405.43" r="3.5" fill="#ff0000"/>
<circle cx="291.48" cy="404.19" r="3.5" fill="#ff0000"/>
<circle cx="302.09" cy="402.76" r="3.5" fill="#ff0000"/>
<circle cx="312.7" cy="401.18" r="3.5" fill="#ff0000"/>
<circle cx="323.31" cy="399.32" r="3.5" fill="#ff0000"/>
<circle cx="333.92" cy="397.13" r="3.5" fill="#ff0000"/>
<circle cx="344.53" cy="394.73" r="3.5" fill="#ff0000"/>
<circle cx="355.14" cy="392.03" r="3.5" fill="#ff0000"/>
<circle cx="365.75" cy="388.89" r="3.5" fill="#ff0000"/>
<circle cx="376.36" cy="385.37" r="3.5" fill="#ff0000"/>
<circle cx="386.97" cy="381.18" r="3.5" fill="#ff0000"/>
<circle cx="397.58" cy="375.46" r="3.5" fill="#ff0000"/>
<circle cx="408.19" cy="368.52" r="3.5" fill="#ff0000"/>
<circle cx="418.8" cy="359.94" r="3.5" fill="#ff0000"/>
<circle cx="429.41" cy="347.77" r="3.5" fill="#ff0000"/>
<circle cx="440.02" cy="332.9" r="3.5" fill="#ff0000"/>
<circle cx="450.63" cy="307.87" r="3.5" fill="#ff0000"/>
<circle cx="461.24" cy="274.22" r="3.5" fill="#ff0000"/>
<circle cx="471.85" cy="242.38" r="3.5" fill="#ff0000"/>
<polyline points="482.46,294.34 493.07,268.93 503.68,226.86" fill="none" stroke="#ff0000" stroke-width="1.65" stroke-linejoin="round"/>
<circle cx="482.46" cy="294.34" r="3.5" fill="#ff0000"/>
<circle cx="493.07" cy="268.93" r="3.5" fill="#ff0000"/>
<circle cx="503.68" cy="226.86" r="3.5" fill="#ff0000"/>
<polyline points="100.5,416.57 111.11,416.57 121.72,416.56 132.33,416.55 142.94,416.52 153.55,416.48 164.16,416.43 174.77,416.36 185.38,416.27 195.99,416.15 206.6,412.31 217.21,411.05 227.82,410.24 238.43,409.66 249.04,409.08 259.65,408.28 270.26,407.26 280.87,406.15 291.48,404.92 302.09,403.46 312.7,401.85 323.31,399.93 333.92,397.67 344.53,395.21 355.14,392.5 365.75,389.38 376.36,385.89 386.97,381.7 397.58,375.9 408.19,368.96 418.8,360.41 429.41,348.32 440.02,333.45 450.63,308.56 461.24,278.24 471.85,246.82" fill="none" stroke="#0000ff" stroke-width="1.65" stroke-linejoin="round"/>
<polygon points="100.5,411.37 104.8,419.17 96.2,419.17" fill="#0000ff"/>
<polygon points="111.11,411.37 115.41,419.17 106.81,419.17" fill="#0000ff"/>
<polygon points="121.72,411.36 126.02,419.16 117.42,419.16" fill="#0000ff"/>
<polygon points="132.33,411.35 136.63,419.15 128.03,419.15" fill="#0000ff"/>
<polygon points="142.94,411.32 147.24,419.12 138.64,419.12" fill="#0000ff"/>
<polygon points="153.55,411.28 157.85,419.08 149.25,419.08" fill="#0000ff"/>
<polygon points="164.16,411.23 168.46,419.03 159.86,419.03" fill="#0000ff"/>
<polygon points="174.77,411.16 179.07,418.96 170.47,418.96" fill="#0000ff"/>
<polygon points="185.38,411.07 189.68,418.87 181.08,418.87" fill="#0000ff"/>
<polygon points="195.99,410.95 200.29,418.75 191.69,418.75" fill="#0000ff"/>
<polygon points="206.6,407.11 210.9,414.91 202.3,414.91" fill="#0000ff"/>
<polygon points="217.21,405.85 221.51,413.65 212.91,413.65" fill="#0000ff"/>
<polygon points="227.82,405.04 232.12,412.84 223.52,412.84" fill="#0000ff"/>
<polygon points="238.43,404.46 242.73,412.26 234.13,412.26" fill="#0000ff"/>
<polygon points="249.04,403.88 253.34,411.68 244.74,411.68" fill="#0000ff"/>
<polygon points="259.65,403.08 263.95,410.88 255.35,410.88" fill="#0000ff"/>
<polygon points="270.26,402.06 274.56,409.86 265.96,409.86" fill="#0000ff"/>
<polygon points="280.87,400.95 285.17,408.75 276.57,408.75" fill="#0000ff"/>
<polygon points="291.48,399.72 295.78,407.52 287.18,407.52" fill="#0000ff"/>
<polygon points="302.09,398.26 306.39,406.06 297.79,406.06" fill="#0000ff"/>
<polygon points="312.7,396.65 317,404.45 308.4,404.45" fill="#0000ff"/>
<polygon points="323.31,394.73 327.61,402.53 319.01,402.53" fill="#0000ff"/>
<polygon points="333.92,392.47 338.22,400.27 329.62,400.27" fill="#0000ff"/>
<polygon points="344.53,390.01 348.83,397.81 340.23,397.81" fill="#0000ff"/>
<polygon points="355.14,387.3 359.44,395.1 350.84,395.1" fill="#0000ff"/>
<polygon points="365.75,384.18 370.05,391.98 361.45,391.98" fill="#0000ff"/>
<polygon points="376.36,380.69 380.66,388.49 372.06,388.49" fill="#0000ff"/>
<polygon points="386.97,376.5 391.27,384.3 382.67,384.3" fill="#0000ff"/>
<polygon points="397.58,370.7 401.88,378.5 393.28,378.5" fill="#0000ff"/>
<polygon points="408.19,363.76 412.49,371.56 403.89,371.56" fill="#0000ff"/>
<polygon points="418.8,355.21 423.1,363.01 414.5,363.01" fill="#0000ff"/>
<polygon points="429.41,343.12 433.71,350.92 425.11,350.92" fill="#0000ff"/>
<polygon points="440.02,328.25 444.32,336.05 435.72,336.05" fill="#0000ff"/>
<polygon points="450.63,303.36 454.93,311.16 446.33,311.16" fill="#0000ff"/>
<polygon points="461.24,273.04 465.54,280.84 456.94,280.84" fill="#0000ff"/>
<polygon points="471.85,241.62 476.15,249.42 467.55,249.42" fill="#0000ff"/>
<polyline points="482.46,297.77 493.07,273.68 503.68,231.61" fill="none" stroke="#0000ff" stroke-width="1.65" stroke-linejoin="round"/>
<polygon points="482.46,292.57 486.76,300.37 478.16,300.37" fill="#0000ff"/>
<polygon points="493.07,268.48 497.37,276.28 488.77,276.28" fill="#0000ff"/>
<polygon points="503.68,226.41 507.98,234.21 499.38,234.21" fill="#0000ff"/>
<polyline points="100.5,419.58 111.11,419.58 121.72,419.57 132.33,419.57 142.94,419.55 153.55,419.53 164.16,419.5 174.77,419.46 185.38,419.4 195.99,419.34 206.6,415.85 217.21,414.6 227.82,413.78 238.43,413.17 249.04,412.57 259.65,411.77 270.26,410.78 280.87,409.73 291.48,408.58 302.09,407.27 312.7,405.76 323.31,403.76 333.92,401.31 344.53,398.78 355.14,396.35 365.75,393.74 376.36,390.99 386.97,387.49 397.58,381.36 408.19,375.09 418.8,368.01 429.41,358.52 440.02,345.78 450.63,324.02 461.24,287.6 471.85,257.19" fill="none" stroke="#ff00ff" stroke-width="1.65" stroke-linejoin="round"/>
<polygon points="100.5,424.78 104.8,416.98 96.2,416.98" fill="#ff00ff"/>
<polygon points="111.11,424.78 115.41,416.98 106.81,416.98" fill="#ff00ff"/>
<polygon points="121.72,424.77 126.02,416.97 117.42,416.97" fill="#ff00ff"/>
<polygon points="132.33,424.77 136.63,416.97 128.03,416.97" fill="#ff00ff"/>
<polygon points="142.94,424.75 147.24,416.95 138.64,416.95" fill="#ff00ff"/>
<polygon points="153.55,424.73 157.85,416.93 149.25,416.93" fill="#ff00ff"/>
<polygon points="164.16,424.7 168.46,416.9 159.86,416.9" fill="#ff00ff"/>
<polygon points="174.77,424.66 179.07,416.86 170.47,416.86" fill="#ff00ff"/>
<polygon points="185.38,424.6 189.68,416.8 181.08,416.8" fill="#ff00ff"/>
<polygon points="195.99,424.54 200.29,416.74 191.69,416.74" fill="#ff00ff"/>
<polygon points="206.6,421.05 210.9,413.25 202.3,413.25" fill="#ff00ff"/>
<polygon points="217.21,419.8 221.51,412 212.91,412" fill="#ff00ff"/>
<polygon points="227.82,418.98 232.12,411.18 223.52,411.18" fill="#ff00ff"/>
<polygon points="238.43,418.37 242.73,410.57 234.13,410.57" fill="#ff00ff"/>
<polygon points="249.04,417.77 253.34,409.97 244.74,409.97" fill="#ff00ff"/>
<polygon points="259.65,416.97 263.95,409.17 255.35,409.17" fill="#ff00ff"/>
<polygon points="270.26,415.98 274.56,408.18 265.96,408.18" fill="#ff00ff"/>
<polygon points="280.87,414.93 285.17,407.13 276.57,407.13" fill="#ff00ff"/>
<polygon points="291.48,413.78 295.78,405.98 287.18,405.98" fill="#ff00ff"/>
<polygon points="302.09,412.47 306.39,404.67 297.79,404.67" fill="#ff00ff"/>
<polygon points="312.7,410.96 317,403.16 308.4,403.16" fill="#ff00ff"/>
<polygon points="323.31,408.96 327.61,401.16 319.01,401.16" fill="#ff00ff"/>
<polygon points="333.92,406.51 338.22,398.71 329.62,398.71" fill="#ff00ff"/>
<polygon points="344.53,403.98 348.83,396.18 340.23,396.18" fill="#ff00ff"/>
<polygon points="355.14,401.55 359.44,393.75 350.84,393.75" fill="#ff00ff"/>
<polygon points="365.75,398.94 370.05,391.14 361.45,391.14" fill="#ff00ff"/>
<polygon points="376.36,396.19 380.66,388.39 372.06,388.39" fill="#ff00ff"/>
<polygon points="386.97,392.69 391.27,384.89 382.67,384.89" fill="#ff00ff"/>
<polygon points="397.58,386.56 401.88,378.76 393.28,378.76" fill="#ff00ff"/>
<polygon points="408.19,380.29 412.49,372.49 403.89,372.49" fill="#ff00ff"/>
<polygon points="418.8,373.21 423.1,365.41 414.5,365.41" fill="#ff00ff"/>
<polygon points="429.41,363.72 433.71,355.92 425.11,355.92" fill="#ff00ff"/>
<polygon points="440.02,350.98 444.32,343.18 435.72,343.18" fill="#ff00ff"/>
<polygon points="450.63,329.22 454.93,321.42 446.33,321.42" fill="#ff00ff"/>
<polygon points="461.24,292.8 465.54,285 456.94,285" fill="#ff00ff"/>
<polygon points="471.85,262.39 476.15,254.59 467.55,254.59" fill="#ff00ff"/>
<polyline points="482.46,299.14 493.07,275.58 503.68,233.51" fill="none" stroke="#ff00ff" stroke-width="1.65" stroke-linejoin="round"/>
<polygon points="482.46,304.34 486.76,296.54 478.16,296.54" fill="#ff00ff"/>
<polygon points="493.07,280.78 497.37,272.98 488.77,272.98" fill="#ff00ff"/>
<polygon points="503.68,238.71 507.98,230.91 499.38,230.91" fill="#ff00ff"/>
<polyline points="100.5,415.37 111.11,415.37 121.72,415.36 132.33,415.34 142.94,415.31 153.55,415.26 164.16,415.2 174.77,415.12 185.38,415.01 195.99,414.88 206.6,410.89 217.21,409.63 227.82,408.83 238.43,408.25 249.04,407.68 259.65,406.89 270.26,405.85 280.87,404.71 291.48,403.46 302.09,401.96 312.7,400.33 323.31,398.45 333.92,396.28 344.53,393.87 355.14,391.07 365.75,387.77 376.36,384.03 386.97,379.62 397.58,373.96 408.19,366.79 418.8,357.75 429.41,344.78 440.02,329.23 450.63,295.1 461.24,270.4 471.85,238.15" fill="none" stroke="#008000" stroke-width="1.65" stroke-linejoin="round"/>
<polygon points="100.5,410.37 105,415.37 100.5,420.37 96,415.37" fill="#008000"/>
<polygon points="111.11,410.37 115.61,415.37 111.11,420.37 106.61,415.37" fill="#008000"/>
<polygon points="121.72,410.36 126.22,415.36 121.72,420.36 117.22,415.36" fill="#008000"/>
<polygon points="132.33,410.34 136.83,415.34 132.33,420.34 127.83,415.34" fill="#008000"/>
<polygon points="142.94,410.31 147.44,415.31 142.94,420.31 138.44,415.31" fill="#008000"/>
<polygon points="153.55,410.26 158.05,415.26 153.55,420.26 149.05,415.26" fill="#008000"/>
<polygon points="164.16,410.2 168.66,415.2 164.16,420.2 159.66,415.2" fill="#008000"/>
<polygon points="174.77,410.12 179.27,415.12 174.77,420.12 170.27,415.12" fill="#008000"/>
<polygon points="185.38,410.01 189.88,415.01 185.38,420.01 180.88,415.01" fill="#008000"/>
<polygon points="195.99,409.88 200.49,414.88 195.99,419.88 191.49,414.88" fill="#008000"/>
<polygon points="206.6,405.89 211.1,410.89 206.6,415.89 202.1,410.89" fill="#008000"/>
<polygon points="217.21,404.63 221.71,409.63 217.21,414.63 212.71,409.63" fill="#008000"/>
<polygon points="227.82,403.83 232.32,408.83 227.82,413.83 223.32,408.83" fill="#008000"/>
<polygon points="238.43,403.25 242.93,408.25 238.43,413.25 233.93,408.25" fill="#008000"/>
<polygon points="249.04,402.68 253.54,407.68 249.04,412.68 244.54,407.68" fill="#008000"/>
<polygon points="259.65,401.89 264.15,406.89 259.65,411.89 255.15,406.89" fill="#008000"/>
<polygon points="270.26,400.85 274.76,405.85 270.26,410.85 265.76,405.85" fill="#008000"/>
<polygon points="280.87,399.71 285.37,404.71 280.87,409.71 276.37,404.71" fill="#008000"/>
<polygon points="291.48,398.46 295.98,403.46 291.48,408.46 286.98,403.46" fill="#008000"/>
<polygon points="302.09,396.96 306.59,401.96 302.09,406.96 297.59,401.96" fill="#008000"/>
<polygon points="312.7,395.33 317.2,400.33 312.7,405.33 308.2,400.33" fill="#008000"/>
<polygon points="323.31,393.45 327.81,398.45 323.31,403.45 318.81,398.45" fill="#008000"/>
<polygon points="333.92,391.28 338.42,396.28 333.92,401.28 329.42,396.28" fill="#008000"/>
<polygon points="344.53,388.87 349.03,393.87 344.53,398.87 340.03,393.87" fill="#008000"/>
<polygon points="355.14,386.07 359.64,391.07 355.14,396.07 350.64,391.07" fill="#008000"/>
<polygon points="365.75,382.77 370.25,387.77 365.75,392.77 361.25,387.77" fill="#008000"/>
<polygon points="376.36,379.03 380.86,384.03 376.36,389.03 371.86,384.03" fill="#008000"/>
<polygon points="386.97,374.62 391.47,379.62 386.97,384.62 382.47,379.62" fill="#008000"/>
<polygon points="397.58,368.96 402.08,373.96 397.58,378.96 393.08,373.96" fill="#008000"/>
<polygon points="408.19,361.79 412.69,366.79 408.19,371.79 403.69,366.79" fill="#008000"/>
<polygon points="418.8,352.75 423.3,357.75 418.8,362.75 414.3,357.75" fill="#008000"/>
<polygon points="429.41,339.78 433.91,344.78 429.41,349.78 424.91,344.78" fill="#008000"/>
<polygon points="440.02,324.23 444.52,329.23 440.02,334.23 435.52,329.23" fill="#008000"/>
<polygon points="450.63,290.1 455.13,295.1 450.63,300.1 446.13,295.1" fill="#008000"/>
<polygon points="461.24,265.4 465.74,270.4 461.24,275.4 456.74,270.4" fill="#008000"/>
<polygon points="471.85,233.15 476.35,238.15 471.85,243.15 467.35,238.15" fill="#008000"/>
<polyline points="482.46,292.97 493.07,267.03 503.68,224.96" fill="none" stroke="#008000" stroke-width="1.65" stroke-linejoin="round"/>
<polygon points="482.46,287.97 486.96,292.97 482.46,297.97 477.96,292.97" fill="#008000"/>
<polygon points="493.07,262.03 497.57,267.03 493.07,272.03 488.57,267.03" fill="#008000"/>
<polygon points="503.68,219.96 508.18,224.96 503.68,229.96 499.18,224.96" fill="#008000"/>
<polyline points="100.5,415.97 111.11,415.97 121.72,415.96 132.33,415.95 142.94,415.92 153.55,415.87 164.16,415.82 174.77,415.74 185.38,415.64 195.99,415.52 206.6,411.6 217.21,410.34 227.82,409.53 238.43,408.95 249.04,408.38 259.65,407.58 270.26,406.56 280.87,405.43 291.48,404.19 302.09,402.78 312.7,401.23 323.31,399.4 333.92,397.23 344.53,394.85 355.14,392.17 365.75,389.08 376.36,385.62 386.97,381.48 397.58,375.78 408.19,368.9 418.8,360.44 429.41,348.49 440.02,333.82 450.63,309.02 461.24,275.18 471.85,243.44" fill="none" stroke="#000080" stroke-width="1.65" stroke-linejoin="round"/>
<polygon points="95.3,415.97 103.1,411.67 103.1,420.27" fill="#000080"/>
<polygon points="105.91,415.97 113.71,411.67 113.71,420.27" fill="#000080"/>
<polygon points="116.52,415.96 124.32,411.66 124.32,420.26" fill="#000080"/>
<polygon points="127.13,415.95 134.93,411.65 134.93,420.25" fill="#000080"/>
<polygon points="137.74,415.92 145.54,411.62 145.54,420.22" fill="#000080"/>
<polygon points="148.35,415.87 156.15,411.57 156.15,420.17" fill="#000080"/>
<polygon points="158.96,415.82 166.76,411.52 166.76,420.12" fill="#000080"/>
<polygon points="169.57,415.74 177.37,411.44 177.37,420.04" fill="#000080"/>
<polygon points="180.18,415.64 187.98,411.34 187.98,419.94" fill="#000080"/>
<polygon points="190.79,415.52 198.59,411.22 198.59,419.82" fill="#000080"/>
<polygon points="201.4,411.6 209.2,407.3 209.2,415.9" fill="#000080"/>
<polygon points="212.01,410.34 219.81,406.04 219.81,414.64" fill="#000080"/>
<polygon points="222.62,409.53 230.42,405.23 230.42,413.83" fill="#000080"/>
<polygon points="233.23,408.95 241.03,404.65 241.03,413.25" fill="#000080"/>
<polygon points="243.84,408.38 251.64,404.08 251.64,412.68" fill="#000080"/>
<polygon points="254.45,407.58 262.25,403.28 262.25,411.88" fill="#000080"/>
<polygon points="265.06,406.56 272.86,402.26 272.86,410.86" fill="#000080"/>
<polygon points="275.67,405.43 283.47,401.13 283.47,409.73" fill="#000080"/>
<polygon points="286.28,404.19 294.08,399.89 294.08,408.49" fill="#000080"/>
<polygon points="296.89,402.78 304.69,398.48 304.69,407.08" fill="#000080"/>
<polygon points="307.5,401.23 315.3,396.93 315.3,405.53" fill="#000080"/>
<polygon points="318.11,399.4 325.91,395.1 325.91,403.7" fill="#000080"/>
<polygon points="328.72,397.23 336.52,392.93 336.52,401.53" fill="#000080"/>
<polygon points="339.33,394.85 347.13,390.55 347.13,399.15" fill="#000080"/>
<polygon points="349.94,392.17 357.74,387.87 357.74,396.47" fill="#000080"/>
<polygon points="360.55,389.08 368.35,384.78 368.35,393.38" fill="#000080"/>
<polygon points="371.16,385.62 378.96,381.32 378.96,389.92" fill="#000080"/>
<polygon points="381.77,381.48 389.57,377.18 389.57,385.78" fill="#000080"/>
<polygon points="392.38,375.78 400.18,371.48 400.18,380.08" fill="#000080"/>
<polygon points="402.99,368.9 410.79,364.6 410.79,373.2" fill="#000080"/>
<polygon points="413.6,360.44 421.4,356.14 421.4,364.74" fill="#000080"/>
<polygon points="424.21,348.49 432.01,344.19 432.01,352.79" fill="#000080"/>
<polygon points="434.82,333.82 442.62,329.52 442.62,338.12" fill="#000080"/>
<polygon points="445.43,309.02 453.23,304.72 453.23,313.32" fill="#000080"/>
<polygon points="456.04,275.18 463.84,270.88 463.84,279.48" fill="#000080"/>
<polygon points="466.65,243.44 474.45,239.14 474.45,247.74" fill="#000080"/>
<polyline points="482.46,294.69 493.07,269.41 503.68,227.34" fill="none" stroke="#000080" stroke-width="1.65" stroke-linejoin="round"/>
<polygon points="477.26,294.69 485.06,290.39 485.06,298.99" fill="#000080"/>
<polygon points="487.87,269.41 495.67,265.11 495.67,273.71" fill="#000080"/>
<polygon points="498.48,227.34 506.28,223.04 506.28,231.64" fill="#000080"/>
<polyline points="100.5,416.87 111.11,416.87 121.72,416.87 132.33,416.85 142.94,416.82 153.55,416.79 164.16,416.74 174.77,416.67 185.38,416.58 195.99,416.47 206.6,412.66 217.21,411.41 227.82,410.59 238.43,410.01 249.04,409.43 259.65,408.63 270.26,407.61 280.87,406.51 291.48,405.28 302.09,403.86 312.7,402.26 323.31,400.35 333.92,398.07 344.53,395.62 355.14,392.95 365.75,389.9 376.36,386.51 386.97,382.42 397.58,376.59 408.19,369.75 418.8,361.4 429.41,349.67 440.02,335.11 450.63,310.63 461.24,282.82 471.85,251.9" fill="none" stroke="#8000ff" stroke-width="1.65" stroke-linejoin="round"/>
<polygon points="105.7,416.87 97.9,412.57 97.9,421.17" fill="#8000ff"/>
<polygon points="116.31,416.87 108.51,412.57 108.51,421.17" fill="#8000ff"/>
<polygon points="126.92,416.87 119.12,412.57 119.12,421.17" fill="#8000ff"/>
<polygon points="137.53,416.85 129.73,412.55 129.73,421.15" fill="#8000ff"/>
<polygon points="148.14,416.82 140.34,412.52 140.34,421.12" fill="#8000ff"/>
<polygon points="158.75,416.79 150.95,412.49 150.95,421.09" fill="#8000ff"/>
<polygon points="169.36,416.74 161.56,412.44 161.56,421.04" fill="#8000ff"/>
<polygon points="179.97,416.67 172.17,412.37 172.17,420.97" fill="#8000ff"/>
<polygon points="190.58,416.58 182.78,412.28 182.78,420.88" fill="#8000ff"/>
<polygon points="201.19,416.47 193.39,412.17 193.39,420.77" fill="#8000ff"/>
<polygon points="211.8,412.66 204,408.36 204,416.96" fill="#8000ff"/>
<polygon points="222.41,411.41 214.61,407.11 214.61,415.71" fill="#8000ff"/>
<polygon points="233.02,410.59 225.22,406.29 225.22,414.89" fill="#8000ff"/>
<polygon points="243.63,410.01 235.83,405.71 235.83,414.31" fill="#8000ff"/>
<polygon points="254.24,409.43 246.44,405.13 246.44,413.73" fill="#8000ff"/>
<polygon points="264.85,408.63 257.05,404.33 257.05,412.93" fill="#8000ff"/>
<polygon points="275.46,407.61 267.66,403.31 267.66,411.91" fill="#8000ff"/>
<polygon points="286.07,406.51 278.27,402.21 278.27,410.81" fill="#8000ff"/>
<polygon points="296.68,405.28 288.88,400.98 288.88,409.58" fill="#8000ff"/>
<polygon points="307.29,403.86 299.49,399.56 299.49,408.16" fill="#8000ff"/>
<polygon points="317.9,402.26 310.1,397.96 310.1,406.56" fill="#8000ff"/>
<polygon points="328.51,400.35 320.71,396.05 320.71,404.65" fill="#8000ff"/>
<polygon points="339.12,398.07 331.32,393.77 331.32,402.37" fill="#8000ff"/>
<polygon points="349.73,395.62 341.93,391.32 341.93,399.92" fill="#8000ff"/>
<polygon points="360.34,392.95 352.54,388.65 352.54,397.25" fill="#8000ff"/>
<polygon points="370.95,389.9 363.15,385.6 363.15,394.2" fill="#8000ff"/>
<polygon points="381.56,386.51 373.76,382.21 373.76,390.81" fill="#8000ff"/>
<polygon points="392.17,382.42 384.37,378.12 384.37,386.72" fill="#8000ff"/>
<polygon points="402.78,376.59 394.98,372.29 394.98,380.89" fill="#8000ff"/>
<polygon points="413.39,369.75 405.59,365.45 405.59,374.05" fill="#8000ff"/>
<polygon points="424,361.4 416.2,357.1 416.2,365.7" fill="#8000ff"/>
<polygon points="434.61,349.67 426.81,345.37 426.81,353.97" fill="#8000ff"/>
<polygon points="445.22,335.11 437.42,330.81 437.42,339.41" fill="#8000ff"/>
<polygon points="455.83,310.63 448.03,306.33 448.03,314.93" fill="#8000ff"/>
<polygon points="466.44,282.82 458.64,278.52 458.64,287.12" fill="#8000ff"/>
<polygon points="477.05,251.9 469.25,247.6 469.25,256.2" fill="#8000ff"/>
<polyline points="482.46,298.45 493.07,274.63 503.68,232.56" fill="none" stroke="#8000ff" stroke-width="1.65" stroke-linejoin="round"/>
<polygon points="487.66,298.45 479.86,294.15 479.86,302.75" fill="#8000ff"/>
<polygon points="498.27,274.63 490.47,270.33 490.47,278.93" fill="#8000ff"/>
<polygon points="508.88,232.56 501.08,228.26 501.08,236.86" fill="#8000ff"/>
<polyline points="100.5,407.92 111.11,407.92 121.72,407.91 132.33,407.9 142.94,407.88 153.55,407.84 164.16,407.8 174.77,407.74 185.38,407.66 195.99,407.56 206.6,402.99 217.21,401.72 227.82,400.94 238.43,400.39 249.04,399.84 259.65,399.03 270.26,397.88 280.87,396.53 291.48,395.01 302.09,393.39 312.7,391.69 323.31,389.97 333.92,388.06 344.53,385.68 355.14,382.21 365.75,377.99 376.36,373.71 386.97,368.73 397.58,362 408.19,354.17 418.8,344.57 429.41,330.63 440.02,314.16 450.63,285.56 461.24,253.58 471.85,217.88" fill="none" stroke="#800080" stroke-width="1.65" stroke-linejoin="round"/>
<polygon points="100.5,403.52 104.12,405.72 104.12,410.12 100.5,412.32 96.88,410.12 96.88,405.72" fill="#800080"/>
<polygon points="111.11,403.52 114.73,405.72 114.73,410.12 111.11,412.32 107.49,410.12 107.49,405.72" fill="#800080"/>
<polygon points="121.72,403.51 125.34,405.71 125.34,410.11 121.72,412.31 118.1,410.11 118.1,405.71" fill="#800080"/>
<polygon points="132.33,403.5 135.95,405.7 135.95,410.1 132.33,412.3 128.71,410.1 128.71,405.7" fill="#800080"/>
<polygon points="142.94,403.48 146.56,405.68 146.56,410.08 142.94,412.28 139.32,410.08 139.32,405.68" fill="#800080"/>
<polygon points="153.55,403.44 157.17,405.64 157.17,410.04 153.55,412.24 149.93,410.04 149.93,405.64" fill="#800080"/>
<polygon points="164.16,403.4 167.78,405.6 167.78,410 164.16,412.2 160.54,410 160.54,405.6" fill="#800080"/>
<polygon points="174.77,403.34 178.39,405.54 178.39,409.94 174.77,412.14 171.15,409.94 171.15,405.54" fill="#800080"/>
<polygon points="185.38,403.26 189,405.46 189,409.86 185.38,412.06 181.76,409.86 181.76,405.46" fill="#800080"/>
<polygon points="195.99,403.16 199.61,405.36 199.61,409.76 195.99,411.96 192.37,409.76 192.37,405.36" fill="#800080"/>
<polygon points="206.6,398.59 210.22,400.79 210.22,405.19 206.6,407.39 202.98,405.19 202.98,400.79" fill="#800080"/>
<polygon points="217.21,397.32 220.83,399.52 220.83,403.92 217.21,406.12 213.59,403.92 213.59,399.52" fill="#800080"/>
<polygon points="227.82,396.54 231.44,398.74 231.44,403.14 227.82,405.34 224.2,403.14 224.2,398.74" fill="#800080"/>
<polygon points="238.43,395.99 242.05,398.19 242.05,402.59 238.43,404.79 234.81,402.59 234.81,398.19" fill="#800080"/>
<polygon points="249.04,395.44 252.66,397.64 252.66,402.04 249.04,404.24 245.42,402.04 245.42,397.64" fill="#800080"/>
<polygon points="259.65,394.63 263.27,396.83 263.27,401.23 259.65,403.43 256.03,401.23 256.03,396.83" fill="#800080"/>
<polygon points="270.26,393.48 273.88,395.68 273.88,400.08 270.26,402.28 266.64,400.08 266.64,395.68" fill="#800080"/>
<polygon points="280.87,392.13 284.49,394.33 284.49,398.73 280.87,400.93 277.25,398.73 277.25,394.33" fill="#800080"/>
<polygon points="291.48,390.61 295.1,392.81 295.1,397.21 291.48,399.41 287.86,397.21 287.86,392.81" fill="#800080"/>
<polygon points="302.09,388.99 305.71,391.19 305.71,395.59 302.09,397.79 298.47,395.59 298.47,391.19" fill="#800080"/>
<polygon points="312.7,387.29 316.32,389.49 316.32,393.89 312.7,396.09 309.08,393.89 309.08,389.49" fill="#800080"/>
<polygon points="323.31,385.57 326.93,387.77 326.93,392.17 323.31,394.37 319.69,392.17 319.69,387.77" fill="#800080"/>
<polygon points="333.92,383.66 337.54,385.86 337.54,390.26 333.92,392.46 330.3,390.26 330.3,385.86" fill="#800080"/>
<polygon points="344.53,381.28 348.15,383.48 348.15,387.88 344.53,390.08 340.91,387.88 340.91,383.48" fill="#800080"/>
<polygon points="355.14,377.81 358.76,380.01 358.76,384.41 355.14,386.61 351.52,384.41 351.52,380.01" fill="#800080"/>
<polygon points="365.75,373.59 369.37,375.79 369.37,380.19 365.75,382.39 362.13,380.19 362.13,375.79" fill="#800080"/>
<polygon points="376.36,369.31 379.98,371.51 379.98,375.91 376.36,378.11 372.74,375.91 372.74,371.51" fill="#800080"/>
<polygon points="386.97,364.33 390.59,366.53 390.59,370.93 386.97,373.13 383.35,370.93 383.35,366.53" fill="#800080"/>
<polygon points="397.58,357.6 401.2,359.8 401.2,364.2 397.58,366.4 393.96,364.2 393.96,359.8" fill="#800080"/>
<polygon points="408.19,349.77 411.81,351.97 411.81,356.37 408.19,358.57 404.57,356.37 404.57,351.97" fill="#800080"/>
<polygon points="418.8,340.17 422.42,342.37 422.42,346.77 418.8,348.97 415.18,346.77 415.18,342.37" fill="#800080"/>
<polygon points="429.41,326.23 433.03,328.43 433.03,332.83 429.41,335.03 425.79,332.83 425.79,328.43" fill="#800080"/>
<polygon points="440.02,309.76 443.64,311.96 443.64,316.36 440.02,318.56 436.4,316.36 436.4,311.96" fill="#800080"/>
<polygon points="450.63,281.16 454.25,283.36 454.25,287.76 450.63,289.96 447.01,287.76 447.01,283.36" fill="#800080"/>
<polygon points="461.24,249.18 464.86,251.38 464.86,255.78 461.24,257.98 457.62,255.78 457.62,251.38" fill="#800080"/>
<polygon points="471.85,213.48 475.47,215.68 475.47,220.08 471.85,222.28 468.23,220.08 468.23,215.68" fill="#800080"/>
<polyline points="482.46,285.92 493.07,257.67 503.68,211.99" fill="none" stroke="#800080" stroke-width="1.65" stroke-linejoin="round"/>
<polygon points="482.46,281.52 486.08,283.72 486.08,288.12 482.46,290.32 478.84,288.12 478.84,283.72" fill="#800080"/>
<polygon points="493.07,253.27 496.69,255.47 496.69,259.87 493.07,262.07 489.45,259.87 489.45,255.47" fill="#800080"/>
<polygon points="503.68,207.59 507.3,209.79 507.3,214.19 503.68,216.39 500.06,214.19 500.06,209.79" fill="#800080"/>
<polyline points="100.5,414.77 111.11,414.77 121.72,414.76 132.33,414.74 142.94,414.71 153.55,414.66 164.16,414.59 174.77,414.5 185.38,414.38 195.99,414.24 206.6,410.18 217.21,408.92 227.82,408.12 238.43,407.55 249.04,406.98 259.65,406.19 270.26,405.15 280.87,404 291.48,402.72 302.09,401.36 312.7,399.87 323.31,398.15 333.92,396.13 344.53,393.85 355.14,391.17 365.75,388.04 376.36,384.5 386.97,380.32 397.58,374.77 408.19,367.88 418.8,359.3 429.41,347.12 440.02,332.35 450.63,307.17 461.24,273.65 471.85,241.75" fill="none" stroke="#800000" stroke-width="1.65" stroke-linejoin="round"/>
<polygon points="100.5,410.47 101.62,413.53 104.87,413.65 102.31,415.66 103.2,418.79 100.5,416.97 97.8,418.79 98.69,415.66 96.13,413.65 99.38,413.53" fill="#800000"/>
<polygon points="111.11,410.47 112.23,413.53 115.48,413.65 112.92,415.66 113.81,418.79 111.11,416.97 108.41,418.79 109.3,415.66 106.74,413.65 109.99,413.53" fill="#800000"/>
<polygon points="121.72,410.46 122.84,413.52 126.09,413.64 123.53,415.65 124.42,418.78 121.72,416.96 119.02,418.78 119.91,415.65 117.35,413.64 120.6,413.52" fill="#800000"/>
<polygon points="132.33,410.44 133.45,413.5 136.7,413.62 134.14,415.63 135.03,418.76 132.33,416.94 129.63,418.76 130.52,415.63 127.96,413.62 131.21,413.5" fill="#800000"/>
<polygon points="142.94,410.41 144.06,413.47 147.31,413.58 144.75,415.59 145.64,418.73 142.94,416.91 140.24,418.73 141.13,415.59 138.57,413.58 141.82,413.47" fill="#800000"/>
<polygon points="153.55,410.36 154.67,413.42 157.92,413.53 155.36,415.54 156.25,418.68 153.55,416.86 150.85,418.68 151.74,415.54 149.18,413.53 152.43,413.42" fill="#800000"/>
<polygon points="164.16,410.29 165.28,413.35 168.53,413.47 165.97,415.48 166.86,418.61 164.16,416.79 161.46,418.61 162.35,415.48 159.79,413.47 163.04,413.35" fill="#800000"/>
<polygon points="174.77,410.2 175.89,413.26 179.14,413.38 176.58,415.39 177.47,418.52 174.77,416.7 172.07,418.52 172.96,415.39 170.4,413.38 173.65,413.26" fill="#800000"/>
<polygon points="185.38,410.08 186.5,413.15 189.75,413.26 187.19,415.27 188.08,418.41 185.38,416.58 182.68,418.41 183.57,415.27 181.01,413.26 184.26,413.15" fill="#800000"/>
<polygon points="195.99,409.94 197.11,413.01 200.36,413.12 197.8,415.13 198.69,418.26 195.99,416.44 193.29,418.26 194.18,415.13 191.62,413.12 194.87,413.01" fill="#800000"/>
<polygon points="206.6,405.88 207.72,408.94 210.97,409.06 208.41,411.07 209.3,414.2 206.6,412.38 203.9,414.2 204.79,411.07 202.23,409.06 205.48,408.94" fill="#800000"/>
<polygon points="217.21,404.62 218.33,407.68 221.58,407.8 219.02,409.81 219.91,412.94 217.21,411.12 214.51,412.94 215.4,409.81 212.84,407.8 216.09,407.68" fill="#800000"/>
<polygon points="227.82,403.82 228.94,406.88 232.19,407 229.63,409.01 230.52,412.14 227.82,410.32 225.12,412.14 226.01,409.01 223.45,407 226.7,406.88" fill="#800000"/>
<polygon points="238.43,403.25 239.55,406.31 242.8,406.43 240.24,408.44 241.13,411.57 238.43,409.75 235.73,411.57 236.62,408.44 234.06,406.43 237.31,406.31" fill="#800000"/>
<polygon points="249.04,402.68 250.16,405.75 253.41,405.86 250.85,407.87 251.74,411 249.04,409.18 246.34,411 247.23,407.87 244.67,405.86 247.92,405.75" fill="#800000"/>
<polygon points="259.65,401.89 260.77,404.95 264.02,405.07 261.46,407.08 262.35,410.21 259.65,408.39 256.95,410.21 257.84,407.08 255.28,405.07 258.53,404.95" fill="#800000"/>
<polygon points="270.26,400.85 271.38,403.91 274.63,404.03 272.07,406.04 272.96,409.17 270.26,407.35 267.56,409.17 268.45,406.04 265.89,404.03 269.14,403.91" fill="#800000"/>
<polygon points="280.87,399.7 281.99,402.76 285.24,402.88 282.68,404.88 283.57,408.02 280.87,406.2 278.17,408.02 279.06,404.88 276.5,402.88 279.75,402.76" fill="#800000"/>
<polygon points="291.48,398.42 292.6,401.49 295.85,401.6 293.29,403.61 294.18,406.75 291.48,404.92 288.78,406.75 289.67,403.61 287.11,401.6 290.36,401.49" fill="#800000"/>
<polygon points="302.09,397.06 303.21,400.12 306.46,400.24 303.9,402.25 304.79,405.38 302.09,403.56 299.39,405.38 300.28,402.25 297.72,400.24 300.97,400.12" fill="#800000"/>
<polygon points="312.7,395.57 313.82,398.63 317.07,398.75 314.51,400.76 315.4,403.89 312.7,402.07 310,403.89 310.89,400.76 308.33,398.75 311.58,398.63" fill="#800000"/>
<polygon points="323.31,393.85 324.43,396.91 327.68,397.03 325.12,399.04 326.01,402.17 323.31,400.35 320.61,402.17 321.5,399.04 318.94,397.03 322.19,396.91" fill="#800000"/>
<polygon points="333.92,391.83 335.04,394.89 338.29,395.01 335.73,397.02 336.62,400.15 333.92,398.33 331.22,400.15 332.11,397.02 329.55,395.01 332.8,394.89" fill="#800000"/>
<polygon points="344.53,389.55 345.65,392.61 348.9,392.73 346.34,394.73 347.23,397.87 344.53,396.05 341.83,397.87 342.72,394.73 340.16,392.73 343.41,392.61" fill="#800000"/>
<polygon points="355.14,386.87 356.26,389.93 359.51,390.05 356.95,392.06 357.84,395.19 355.14,393.37 352.44,395.19 353.33,392.06 350.77,390.05 354.02,389.93" fill="#800000"/>
<polygon points="365.75,383.74 366.87,386.8 370.12,386.91 367.56,388.92 368.45,392.06 365.75,390.24 363.05,392.06 363.94,388.92 361.38,386.91 364.63,386.8" fill="#800000"/>
<polygon points="376.36,380.2 377.48,383.26 380.73,383.38 378.17,385.38 379.06,388.52 376.36,386.7 373.66,388.52 374.55,385.38 371.99,383.38 375.24,383.26" fill="#800000"/>
<polygon points="386.97,376.02 388.09,379.08 391.34,379.2 388.78,381.2 389.67,384.34 386.97,382.52 384.27,384.34 385.16,381.2 382.6,379.2 385.85,379.08" fill="#800000"/>
<polygon points="397.58,370.47 398.7,373.54 401.95,373.65 399.39,375.66 400.28,378.8 397.58,376.97 394.88,378.8 395.77,375.66 393.21,373.65 396.46,373.54" fill="#800000"/>
<polygon points="408.19,363.58 409.31,366.64 412.56,366.76 410,368.77 410.89,371.9 408.19,370.08 405.49,371.9 406.38,368.77 403.82,366.76 407.07,366.64" fill="#800000"/>
<polygon points="418.8,355 419.92,358.06 423.17,358.18 420.61,360.18 421.5,363.32 418.8,361.5 416.1,363.32 416.99,360.18 414.43,358.18 417.68,358.06" fill="#800000"/>
<polygon points="429.41,342.82 430.53,345.88 433.78,346 431.22,348.01 432.11,351.14 429.41,349.32 426.71,351.14 427.6,348.01 425.04,346 428.29,345.88" fill="#800000"/>
<polygon points="440.02,328.05 441.14,331.11 444.39,331.23 441.83,333.24 442.72,336.37 440.02,334.55 437.32,336.37 438.21,333.24 435.65,331.23 438.9,331.11" fill="#800000"/>
<polygon points="450.63,302.87 451.75,305.94 455,306.05 452.44,308.06 453.33,311.19 450.63,309.37 447.93,311.19 448.82,308.06 446.26,306.05 449.51,305.94" fill="#800000"/>
<polygon points="461.24,269.35 462.36,272.41 465.61,272.53 463.05,274.54 463.94,277.67 461.24,275.85 458.54,277.67 459.43,274.54 456.87,272.53 460.12,272.41" fill="#800000"/>
<polygon points="471.85,237.45 472.97,240.51 476.22,240.62 473.66,242.63 474.55,245.77 471.85,243.95 469.15,245.77 470.04,242.63 467.48,240.62 470.73,240.51" fill="#800000"/>
<polyline points="482.46,294.14 493.07,268.65 503.68,226.58" fill="none" stroke="#800000" stroke-width="1.65" stroke-linejoin="round"/>
<polygon points="482.46,289.84 483.58,292.9 486.83,293.02 484.27,295.02 485.16,298.16 482.46,296.34 479.76,298.16 480.65,295.02 478.09,293.02 481.34,292.9" fill="#800000"/>
<polygon points="493.07,264.35 494.19,267.41 497.44,267.53 494.88,269.53 495.77,272.67 493.07,270.85 490.37,272.67 491.26,269.53 488.7,267.53 491.95,267.41" fill="#800000"/>
<polygon points="503.68,222.28 504.8,225.34 508.05,225.46 505.49,227.46 506.38,230.6 503.68,228.78 500.98,230.6 501.87,227.46 499.31,225.46 502.56,225.34" fill="#800000"/>
<polyline points="100.5,413.57 111.11,413.57 121.72,413.55 132.33,413.53 142.94,413.49 153.55,413.44 164.16,413.36 174.77,413.26 185.38,413.13 195.99,412.97 206.6,408.76 217.21,407.5 227.82,406.7 238.43,406.14 249.04,405.59 259.65,404.79 270.26,403.74 280.87,402.56 291.48,401.26 302.09,399.87 312.7,398.37 323.31,396.7 333.92,394.78 344.53,392.55 355.14,389.8 365.75,386.51 376.36,382.74 386.97,378.36 397.58,372.96 408.19,365.87 418.8,356.84 429.41,343.88 440.02,328.49 450.63,302.33 461.24,269.63 471.85,237.3 482.46,198.94" fill="none" stroke="#808000" stroke-width="1.65" stroke-linejoin="round"/>
<polygon points="100.5,409.27 104.87,412.45 103.2,417.59 97.8,417.59 96.13,412.45" fill="#808000"/>
<polygon points="111.11,409.27 115.48,412.44 113.81,417.59 108.41,417.59 106.74,412.44" fill="#808000"/>
<polygon points="121.72,409.25 126.09,412.43 124.42,417.58 119.02,417.58 117.35,412.43" fill="#808000"/>
<polygon points="132.33,409.23 136.7,412.41 135.03,417.55 129.63,417.55 127.96,412.41" fill="#808000"/>
<polygon points="142.94,409.19 147.31,412.37 145.64,417.52 140.24,417.52 138.57,412.37" fill="#808000"/>
<polygon points="153.55,409.14 157.92,412.32 156.25,417.46 150.85,417.46 149.18,412.32" fill="#808000"/>
<polygon points="164.16,409.06 168.53,412.24 166.86,417.38 161.46,417.38 159.79,412.24" fill="#808000"/>
<polygon points="174.77,408.96 179.14,412.14 177.47,417.28 172.07,417.28 170.4,412.14" fill="#808000"/>
<polygon points="185.38,408.83 189.75,412.01 188.08,417.15 182.68,417.15 181.01,412.01" fill="#808000"/>
<polygon points="195.99,408.67 200.36,411.85 198.69,416.99 193.29,416.99 191.62,411.85" fill="#808000"/>
<polygon points="206.6,404.46 210.97,407.64 209.3,412.78 203.9,412.78 202.23,407.64" fill="#808000"/>
<polygon points="217.21,403.2 221.58,406.38 219.91,411.52 214.51,411.52 212.84,406.38" fill="#808000"/>
<polygon points="227.82,402.4 232.19,405.58 230.52,410.73 225.12,410.73 223.45,405.58" fill="#808000"/>
<polygon points="238.43,401.84 242.8,405.02 241.13,410.17 235.73,410.17 234.06,405.02" fill="#808000"/>
<polygon points="249.04,401.29 253.41,404.46 251.74,409.61 246.34,409.61 244.67,404.46" fill="#808000"/>
<polygon points="259.65,400.49 264.02,403.67 262.35,408.82 256.95,408.82 255.28,403.67" fill="#808000"/>
<polygon points="270.26,399.44 274.63,402.62 272.96,407.77 267.56,407.77 265.89,402.62" fill="#808000"/>
<polygon points="280.87,398.26 285.24,401.44 283.57,406.59 278.17,406.59 276.5,401.44" fill="#808000"/>
<polygon points="291.48,396.96 295.85,400.14 294.18,405.28 288.78,405.28 287.11,400.14" fill="#808000"/>
<polygon points="302.09,395.57 306.46,398.75 304.79,403.89 299.39,403.89 297.72,398.75" fill="#808000"/>
<polygon points="312.7,394.07 317.07,397.25 315.4,402.39 310,402.39 308.33,397.25" fill="#808000"/>
<polygon points="323.31,392.4 327.68,395.58 326.01,400.72 320.61,400.72 318.94,395.58" fill="#808000"/>
<polygon points="333.92,390.48 338.29,393.66 336.62,398.8 331.22,398.8 329.55,393.66" fill="#808000"/>
<polygon points="344.53,388.25 348.9,391.43 347.23,396.57 341.83,396.57 340.16,391.43" fill="#808000"/>
<polygon points="355.14,385.5 359.51,388.67 357.84,393.82 352.44,393.82 350.77,388.67" fill="#808000"/>
<polygon points="365.75,382.21 370.12,385.39 368.45,390.53 363.05,390.53 361.38,385.39" fill="#808000"/>
<polygon points="376.36,378.44 380.73,381.62 379.06,386.76 373.66,386.76 371.99,381.62" fill="#808000"/>
<polygon points="386.97,374.06 391.34,377.23 389.67,382.38 384.27,382.38 382.6,377.23" fill="#808000"/>
<polygon points="397.58,368.66 401.95,371.84 400.28,376.98 394.88,376.98 393.21,371.84" fill="#808000"/>
<polygon points="408.19,361.57 412.56,364.74 410.89,369.89 405.49,369.89 403.82,364.74" fill="#808000"/>
<polygon points="418.8,352.54 423.17,355.72 421.5,360.86 416.1,360.86 414.43,355.72" fill="#808000"/>
<polygon points="429.41,339.58 433.78,342.75 432.11,347.9 426.71,347.9 425.04,342.75" fill="#808000"/>
<polygon points="440.02,324.19 444.39,327.37 442.72,332.51 437.32,332.51 435.65,327.37" fill="#808000"/>
<polygon points="450.63,298.03 455,301.21 453.33,306.35 447.93,306.35 446.26,301.21" fill="#808000"/>
<polygon points="461.24,265.33 465.61,268.51 463.94,273.66 458.54,273.66 456.87,268.51" fill="#808000"/>
<polygon points="471.85,233 476.22,236.18 474.55,241.32 469.15,241.32 467.48,236.18" fill="#808000"/>
<polygon points="482.46,194.64 486.83,197.82 485.16,202.96 479.76,202.96 478.09,197.82" fill="#808000"/>
<polyline points="482.46,292.7 493.07,266.65 503.68,224.58" fill="none" stroke="#808000" stroke-width="1.65" stroke-linejoin="round"/>
<polygon points="482.46,288.4 486.83,291.58 485.16,296.72 479.76,296.72 478.09,291.58" fill="#808000"/>
<polygon points="493.07,262.35 497.44,265.53 495.77,270.68 490.37,270.68 488.7,265.53" fill="#808000"/>
<polygon points="503.68,220.28 508.05,223.46 506.38,228.61 500.98,228.61 499.31,223.46" fill="#808000"/>
<polyline points="100.5,410.91 111.11,410.91 121.72,410.9 132.33,410.88 142.94,410.85 153.55,410.81 164.16,410.75 174.77,410.66 185.38,410.56 195.99,410.43 206.6,406.05 217.21,404.78 227.82,403.99 238.43,403.44 249.04,402.89 259.65,402.08 270.26,400.99 280.87,399.73 291.48,398.33 302.09,396.97 312.7,395.53 323.31,393.99 333.92,392.22 344.53,390.09 355.14,387.25 365.75,383.84 376.36,380.09 386.97,375.72 397.58,370.25 408.19,363.22 418.8,354.25 429.41,341.22 440.02,325.8 450.63,299.1 461.24,266.7 471.85,233.86" fill="none" stroke="#2f6fb8" stroke-width="1.65" stroke-linejoin="round"/>
<circle cx="100.5" cy="410.91" r="3.6" fill="url(#sph)"/>
<circle cx="111.11" cy="410.91" r="3.6" fill="url(#sph)"/>
<circle cx="121.72" cy="410.9" r="3.6" fill="url(#sph)"/>
<circle cx="132.33" cy="410.88" r="3.6" fill="url(#sph)"/>
<circle cx="142.94" cy="410.85" r="3.6" fill="url(#sph)"/>
<circle cx="153.55" cy="410.81" r="3.6" fill="url(#sph)"/>
<circle cx="164.16" cy="410.75" r="3.6" fill="url(#sph)"/>
<circle cx="174.77" cy="410.66" r="3.6" fill="url(#sph)"/>
<circle cx="185.38" cy="410.56" r="3.6" fill="url(#sph)"/>
<circle cx="195.99" cy="410.43" r="3.6" fill="url(#sph)"/>
<circle cx="206.6" cy="406.05" r="3.6" fill="url(#sph)"/>
<circle cx="217.21" cy="404.78" r="3.6" fill="url(#sph)"/>
<circle cx="227.82" cy="403.99" r="3.6" fill="url(#sph)"/>
<circle cx="238.43" cy="403.44" r="3.6" fill="url(#sph)"/>
<circle cx="249.04" cy="402.89" r="3.6" fill="url(#sph)"/>
<circle cx="259.65" cy="402.08" r="3.6" fill="url(#sph)"/>
<circle cx="270.26" cy="400.99" r="3.6" fill="url(#sph)"/>
<circle cx="280.87" cy="399.73" r="3.6" fill="url(#sph)"/>
<circle cx="291.48" cy="398.33" r="3.6" fill="url(#sph)"/>
<circle cx="302.09" cy="396.97" r="3.6" fill="url(#sph)"/>
<circle cx="312.7" cy="395.53" r="3.6" fill="url(#sph)"/>
<circle cx="323.31" cy="393.99" r="3.6" fill="url(#sph)"/>
<circle cx="333.92" cy="392.22" r="3.6" fill="url(#sph)"/>
<circle cx="344.53" cy="390.09" r="3.6" fill="url(#sph)"/>
<circle cx="355.14" cy="387.25" r="3.6" fill="url(#sph)"/>
<circle cx="365.75" cy="383.84" r="3.6" fill="url(#sph)"/>
<circle cx="376.36" cy="380.09" r="3.6" fill="url(#sph)"/>
<circle cx="386.97" cy="375.72" r="3.6" fill="url(#sph)"/>
<circle cx="397.58" cy="370.25" r="3.6" fill="url(#sph)"/>
<circle cx="408.19" cy="363.22" r="3.6" fill="url(#sph)"/>
<circle cx="418.8" cy="354.25" r="3.6" fill="url(#sph)"/>
<circle cx="429.41" cy="341.22" r="3.6" fill="url(#sph)"/>
<circle cx="440.02" cy="325.8" r="3.6" fill="url(#sph)"/>
<circle cx="450.63" cy="299.1" r="3.6" fill="url(#sph)"/>
<circle cx="461.24" cy="266.7" r="3.6" fill="url(#sph)"/>
<circle cx="471.85" cy="233.86" r="3.6" fill="url(#sph)"/>
<polyline points="482.46,291.52 493.07,265.07 503.68,222.57" fill="none" stroke="#2f6fb8" stroke-width="1.65" stroke-linejoin="round"/>
<circle cx="482.46" cy="291.52" r="3.6" fill="url(#sph)"/>
<circle cx="493.07" cy="265.07" r="3.6" fill="url(#sph)"/>
<circle cx="503.68" cy="222.57" r="3.6" fill="url(#sph)"/>
<polyline points="100.5,410.74 111.11,410.74 121.72,410.73 132.33,410.72 142.94,410.68 153.55,410.64 164.16,410.58 174.77,410.5 185.38,410.39 195.99,410.26 206.6,405.88 217.21,404.61 227.82,403.82 238.43,403.27 249.04,402.71 259.65,401.91 270.26,400.81 280.87,399.55 291.48,398.14 302.09,396.78 312.7,395.33 323.31,393.79 333.92,392.02 344.53,389.89 355.14,387.03 365.75,383.59 376.36,379.83 386.97,375.44 397.58,369.94 408.19,362.88 418.8,353.9 429.41,340.85 440.02,325.4 450.63,298.63 461.24,266.25 471.85,233.31" fill="none" stroke="#20a0a0" stroke-width="1.65" stroke-linejoin="round"/>
<path d="M96.5 410.74H104.5M100.5 406.74V414.74" stroke="#20a0a0" stroke-width="1" fill="none"/>
<path d="M107.11 410.74H115.11M111.11 406.74V414.74" stroke="#20a0a0" stroke-width="1" fill="none"/>
<path d="M117.72 410.73H125.72M121.72 406.73V414.73" stroke="#20a0a0" stroke-width="1" fill="none"/>
<path d="M128.33 410.72H136.33M132.33 406.72V414.72" stroke="#20a0a0" stroke-width="1" fill="none"/>
<path d="M138.94 410.68H146.94M142.94 406.68V414.68" stroke="#20a0a0" stroke-width="1" fill="none"/>
<path d="M149.55 410.64H157.55M153.55 406.64V414.64" stroke="#20a0a0" stroke-width="1" fill="none"/>
<path d="M160.16 410.58H168.16M164.16 406.58V414.58" stroke="#20a0a0" stroke-width="1" fill="none"/>
<path d="M170.77 410.5H178.77M174.77 406.5V414.5" stroke="#20a0a0" stroke-width="1" fill="none"/>
<path d="M181.38 410.39H189.38M185.38 406.39V414.39" stroke="#20a0a0" stroke-width="1" fill="none"/>
<path d="M191.99 410.26H199.99M195.99 406.26V414.26" stroke="#20a0a0" stroke-width="1" fill="none"/>
<path d="M202.6 405.88H210.6M206.6 401.88V409.88" stroke="#20a0a0" stroke-width="1" fill="none"/>
<path d="M213.21 404.61H221.21M217.21 400.61V408.61" stroke="#20a0a0" stroke-width="1" fill="none"/>
<path d="M223.82 403.82H231.82M227.82 399.82V407.82" stroke="#20a0a0" stroke-width="1" fill="none"/>
<path d="M234.43 403.27H242.43M238.43 399.27V407.27" stroke="#20a0a0" stroke-width="1" fill="none"/>
<path d="M245.04 402.71H253.04M249.04 398.71V406.71" stroke="#20a0a0" stroke-width="1" fill="none"/>
<path d="M255.65 401.91H263.65M259.65 397.91V405.91" stroke="#20a0a0" stroke-width="1" fill="none"/>
<path d="M266.26 400.81H274.26M270.26 396.81V404.81" stroke="#20a0a0" stroke-width="1" fill="none"/>
<path d="M276.87 399.55H284.87M280.87 395.55V403.55" stroke="#20a0a0" stroke-width="1" fill="none"/>
<path d="M287.48 398.14H295.48M291.48 394.14V402.14" stroke="#20a0a0" stroke-width="1" fill="none"/>
<path d="M298.09 396.78H306.09M302.09 392.78V400.78" stroke="#20a0a0" stroke-width="1" fill="none"/>
<path d="M308.7 395.33H316.7M312.7 391.33V399.33" stroke="#20a0a0" stroke-width="1" fill="none"/>
<path d="M319.31 393.79H327.31M323.31 389.79V397.79" stroke="#20a0a0" stroke-width="1" fill="none"/>
<path d="M329.92 392.02H337.92M333.92 388.02V396.02" stroke="#20a0a0" stroke-width="1" fill="none"/>
<path d="M340.53 389.89H348.53M344.53 385.89V393.89" stroke="#20a0a0" stroke-width="1" fill="none"/>
<path d="M351.14 387.03H359.14M355.14 383.03V391.03" stroke="#20a0a0" stroke-width="1" fill="none"/>
<path d="M361.75 383.59H369.75M365.75 379.59V387.59" stroke="#20a0a0" stroke-width="1" fill="none"/>
<path d="M372.36 379.83H380.36M376.36 375.83V383.83" stroke="#20a0a0" stroke-width="1" fill="none"/>
<path d="M382.97 375.44H390.97M386.97 371.44V379.44" stroke="#20a0a0" stroke-width="1" fill="none"/>
<path d="M393.58 369.94H401.58M397.58 365.94V373.94" stroke="#20a0a0" stroke-width="1" fill="none"/>
<path d="M404.19 362.88H412.19M408.19 358.88V366.88" stroke="#20a0a0" stroke-width="1" fill="none"/>
<path d="M414.8 353.9H422.8M418.8 349.9V357.9" stroke="#20a0a0" stroke-width="1" fill="none"/>
<path d="M425.41 340.85H433.41M429.41 336.85V344.85" stroke="#20a0a0" stroke-width="1" fill="none"/>
<path d="M436.02 325.4H444.02M440.02 321.4V329.4" stroke="#20a0a0" stroke-width="1" fill="none"/>
<path d="M446.63 298.63H454.63M450.63 294.63V302.63" stroke="#20a0a0" stroke-width="1" fill="none"/>
<path d="M457.24 266.25H465.24M461.24 262.25V270.25" stroke="#20a0a0" stroke-width="1" fill="none"/>
<path d="M467.85 233.31H475.85M471.85 229.31V237.31" stroke="#20a0a0" stroke-width="1" fill="none"/>
<polyline points="482.46,291.33 493.07,264.82 503.68,222.21" fill="none" stroke="#20a0a0" stroke-width="1.65" stroke-linejoin="round"/>
<path d="M478.46 291.33H486.46M482.46 287.33V295.33" stroke="#20a0a0" stroke-width="1" fill="none"/>
<path d="M489.07 264.82H497.07M493.07 260.82V268.82" stroke="#20a0a0" stroke-width="1" fill="none"/>
<path d="M499.68 222.21H507.68M503.68 218.21V226.21" stroke="#20a0a0" stroke-width="1" fill="none"/>
<polyline points="100.5,413.4 111.11,413.4 121.72,413.39 132.33,413.36 142.94,413.33 153.55,413.27 164.16,413.19 174.77,413.09 185.38,412.96 195.99,412.81 206.6,408.59 217.21,407.33 227.82,406.53 238.43,405.97 249.04,405.41 259.65,404.62 270.26,403.57 280.87,402.38 291.48,401.07 302.09,399.66 312.7,398.13 323.31,396.45 333.92,394.53 344.53,392.28 355.14,389.5 365.75,386.16 376.36,382.33 386.97,377.89 397.58,372.49 408.19,365.34 418.8,356.18 429.41,342.99 440.02,327.39 450.63,300.94 461.24,268.49 471.85,236.03" fill="none" stroke="#b8742c" stroke-width="1.65" stroke-linejoin="round"/>
<path d="M96.3 409.2L104.7 417.6M96.3 417.6L104.7 409.2" stroke="#b8742c" stroke-width="1" fill="none"/>
<path d="M106.91 409.2L115.31 417.6M106.91 417.6L115.31 409.2" stroke="#b8742c" stroke-width="1" fill="none"/>
<path d="M117.52 409.19L125.92 417.59M117.52 417.59L125.92 409.19" stroke="#b8742c" stroke-width="1" fill="none"/>
<path d="M128.13 409.16L136.53 417.56M128.13 417.56L136.53 409.16" stroke="#b8742c" stroke-width="1" fill="none"/>
<path d="M138.74 409.13L147.14 417.53M138.74 417.53L147.14 409.13" stroke="#b8742c" stroke-width="1" fill="none"/>
<path d="M149.35 409.07L157.75 417.47M149.35 417.47L157.75 409.07" stroke="#b8742c" stroke-width="1" fill="none"/>
<path d="M159.96 408.99L168.36 417.39M159.96 417.39L168.36 408.99" stroke="#b8742c" stroke-width="1" fill="none"/>
<path d="M170.57 408.89L178.97 417.29M170.57 417.29L178.97 408.89" stroke="#b8742c" stroke-width="1" fill="none"/>
<path d="M181.18 408.76L189.58 417.16M181.18 417.16L189.58 408.76" stroke="#b8742c" stroke-width="1" fill="none"/>
<path d="M191.79 408.61L200.19 417.01M191.79 417.01L200.19 408.61" stroke="#b8742c" stroke-width="1" fill="none"/>
<path d="M202.4 404.39L210.8 412.79M202.4 412.79L210.8 404.39" stroke="#b8742c" stroke-width="1" fill="none"/>
<path d="M213.01 403.13L221.41 411.53M213.01 411.53L221.41 403.13" stroke="#b8742c" stroke-width="1" fill="none"/>
<path d="M223.62 402.33L232.02 410.73M223.62 410.73L232.02 402.33" stroke="#b8742c" stroke-width="1" fill="none"/>
<path d="M234.23 401.77L242.63 410.17M234.23 410.17L242.63 401.77" stroke="#b8742c" stroke-width="1" fill="none"/>
<path d="M244.84 401.21L253.24 409.61M244.84 409.61L253.24 401.21" stroke="#b8742c" stroke-width="1" fill="none"/>
<path d="M255.45 400.42L263.85 408.82M255.45 408.82L263.85 400.42" stroke="#b8742c" stroke-width="1" fill="none"/>
<path d="M266.06 399.37L274.46 407.77M266.06 407.77L274.46 399.37" stroke="#b8742c" stroke-width="1" fill="none"/>
<path d="M276.67 398.18L285.07 406.58M276.67 406.58L285.07 398.18" stroke="#b8742c" stroke-width="1" fill="none"/>
<path d="M287.28 396.87L295.68 405.27M287.28 405.27L295.68 396.87" stroke="#b8742c" stroke-width="1" fill="none"/>
<path d="M297.89 395.46L306.29 403.86M297.89 403.86L306.29 395.46" stroke="#b8742c" stroke-width="1" fill="none"/>
<path d="M308.5 393.93L316.9 402.33M308.5 402.33L316.9 393.93" stroke="#b8742c" stroke-width="1" fill="none"/>
<path d="M319.11 392.25L327.51 400.65M319.11 400.65L327.51 392.25" stroke="#b8742c" stroke-width="1" fill="none"/>
<path d="M329.72 390.33L338.12 398.73M329.72 398.73L338.12 390.33" stroke="#b8742c" stroke-width="1" fill="none"/>
<path d="M340.33 388.08L348.73 396.48M340.33 396.48L348.73 388.08" stroke="#b8742c" stroke-width="1" fill="none"/>
<path d="M350.94 385.3L359.34 393.7M350.94 393.7L359.34 385.3" stroke="#b8742c" stroke-width="1" fill="none"/>
<path d="M361.55 381.96L369.95 390.36M361.55 390.36L369.95 381.96" stroke="#b8742c" stroke-width="1" fill="none"/>
<path d="M372.16 378.13L380.56 386.53M372.16 386.53L380.56 378.13" stroke="#b8742c" stroke-width="1" fill="none"/>
<path d="M382.77 373.69L391.17 382.09M382.77 382.09L391.17 373.69" stroke="#b8742c" stroke-width="1" fill="none"/>
<path d="M393.38 368.29L401.78 376.69M393.38 376.69L401.78 368.29" stroke="#b8742c" stroke-width="1" fill="none"/>
<path d="M403.99 361.14L412.39 369.54M403.99 369.54L412.39 361.14" stroke="#b8742c" stroke-width="1" fill="none"/>
<path d="M414.6 351.98L423 360.38M414.6 360.38L423 351.98" stroke="#b8742c" stroke-width="1" fill="none"/>
<path d="M425.21 338.79L433.61 347.19M425.21 347.19L433.61 338.79" stroke="#b8742c" stroke-width="1" fill="none"/>
<path d="M435.82 323.19L444.22 331.59M435.82 331.59L444.22 323.19" stroke="#b8742c" stroke-width="1" fill="none"/>
<path d="M446.43 296.74L454.83 305.14M446.43 305.14L454.83 296.74" stroke="#b8742c" stroke-width="1" fill="none"/>
<path d="M457.04 264.29L465.44 272.69M457.04 272.69L465.44 264.29" stroke="#b8742c" stroke-width="1" fill="none"/>
<path d="M467.65 231.83L476.05 240.23M467.65 240.23L476.05 231.83" stroke="#b8742c" stroke-width="1" fill="none"/>
<polyline points="482.46,292.29 493.07,266.08 503.68,224.01" fill="none" stroke="#b8742c" stroke-width="1.65" stroke-linejoin="round"/>
<path d="M478.26 288.09L486.66 296.49M478.26 296.49L486.66 288.09" stroke="#b8742c" stroke-width="1" fill="none"/>
<path d="M488.87 261.88L497.27 270.28M488.87 270.28L497.27 261.88" stroke="#b8742c" stroke-width="1" fill="none"/>
<path d="M499.48 219.81L507.88 228.21M499.48 228.21L507.88 219.81" stroke="#b8742c" stroke-width="1" fill="none"/>
</g>
<g clip-path="url(#c2)">
<polyline points="100.5,639.72 111.11,639.71 121.72,639.7 132.33,639.69 142.94,639.66 153.55,639.62 164.16,639.56 174.77,639.48 185.38,639.38 195.99,639.26 206.6,635.54 217.21,634.83 227.82,634.41 238.43,634.14 249.04,633.87 259.65,633.45 270.26,632.86 280.87,632.17 291.48,631.38 302.09,630.5 312.7,629.52 323.31,628.35 333.92,626.94 344.53,625.35 355.14,623.49 365.75,621.33 376.36,618.93 386.97,616.11 397.58,612.74 408.19,608.55 418.8,602.62 429.41,593.75 440.02,583.58 450.63,569.04 461.24,552.43" fill="none" stroke="#000000" stroke-width="1.65" stroke-linejoin="round"/>
<rect x="97.5" y="636.72" width="6.0" height="6.0" fill="#000000"/>
<rect x="108.11" y="636.71" width="6.0" height="6.0" fill="#000000"/>
<rect x="118.72" y="636.7" width="6.0" height="6.0" fill="#000000"/>
<rect x="129.33" y="636.69" width="6.0" height="6.0" fill="#000000"/>
<rect x="139.94" y="636.66" width="6.0" height="6.0" fill="#000000"/>
<rect x="150.55" y="636.62" width="6.0" height="6.0" fill="#000000"/>
<rect x="161.16" y="636.56" width="6.0" height="6.0" fill="#000000"/>
<rect x="171.77" y="636.48" width="6.0" height="6.0" fill="#000000"/>
<rect x="182.38" y="636.38" width="6.0" height="6.0" fill="#000000"/>
<rect x="192.99" y="636.26" width="6.0" height="6.0" fill="#000000"/>
<rect x="203.6" y="632.54" width="6.0" height="6.0" fill="#000000"/>
<rect x="214.21" y="631.83" width="6.0" height="6.0" fill="#000000"/>
<rect x="224.82" y="631.41" width="6.0" height="6.0" fill="#000000"/>
<rect x="235.43" y="631.14" width="6.0" height="6.0" fill="#000000"/>
<rect x="246.04" y="630.87" width="6.0" height="6.0" fill="#000000"/>
<rect x="256.65" y="630.45" width="6.0" height="6.0" fill="#000000"/>
<rect x="267.26" y="629.86" width="6.0" height="6.0" fill="#000000"/>
<rect x="277.87" y="629.17" width="6.0" height="6.0" fill="#000000"/>
<rect x="288.48" y="628.38" width="6.0" height="6.0" fill="#000000"/>
<rect x="299.09" y="627.5" width="6.0" height="6.0" fill="#000000"/>
<rect x="309.7" y="626.52" width="6.0" height="6.0" fill="#000000"/>
<rect x="320.31" y="625.35" width="6.0" height="6.0" fill="#000000"/>
<rect x="330.92" y="623.94" width="6.0" height="6.0" fill="#000000"/>
<rect x="341.53" y="622.35" width="6.0" height="6.0" fill="#000000"/>
<rect x="352.14" y="620.49" width="6.0" height="6.0" fill="#000000"/>
<rect x="362.75" y="618.33" width="6.0" height="6.0" fill="#000000"/>
<rect x="373.36" y="615.93" width="6.0" height="6.0" fill="#000000"/>
<rect x="383.97" y="613.11" width="6.0" height="6.0" fill="#000000"/>
<rect x="394.58" y="609.74" width="6.0" height="6.0" fill="#000000"/>
<rect x="405.19" y="605.55" width="6.0" height="6.0" fill="#000000"/>
<rect x="415.8" y="599.62" width="6.0" height="6.0" fill="#000000"/>
<rect x="426.41" y="590.75" width="6.0" height="6.0" fill="#000000"/>
<rect x="437.02" y="580.58" width="6.0" height="6.0" fill="#000000"/>
<rect x="447.63" y="566.04" width="6.0" height="6.0" fill="#000000"/>
<rect x="458.24" y="549.43" width="6.0" height="6.0" fill="#000000"/>
<polyline points="471.85,497.12 482.46,461.19" fill="none" stroke="#000000" stroke-width="1.65" stroke-linejoin="round"/>
<rect x="468.85" y="494.12" width="6.0" height="6.0" fill="#000000"/>
<rect x="479.46" y="458.19" width="6.0" height="6.0" fill="#000000"/>
<polyline points="493.07,487.17 503.68,450.6" fill="none" stroke="#000000" stroke-width="1.65" stroke-linejoin="round"/>
<rect x="490.07" y="484.17" width="6.0" height="6.0" fill="#000000"/>
<rect x="500.68" y="447.6" width="6.0" height="6.0" fill="#000000"/>
<polyline points="100.5,639.86 111.11,639.85 121.72,639.85 132.33,639.83 142.94,639.8 153.55,639.76 164.16,639.7 174.77,639.63 185.38,639.53 195.99,639.41 206.6,635.73 217.21,635.02 227.82,634.61 238.43,634.34 249.04,634.07 259.65,633.66 270.26,633.07 280.87,632.39 291.48,631.62 302.09,630.74 312.7,629.78 323.31,628.61 333.92,627.2 344.53,625.61 355.14,623.76 365.75,621.62 376.36,619.25 386.97,616.48 397.58,613.12 408.19,608.94 418.8,603.05 429.41,594.26 440.02,584.25 450.63,569.89 461.24,553.26" fill="none" stroke="#ff0000" stroke-width="1.65" stroke-linejoin="round"/>
<circle cx="100.5" cy="639.86" r="3.5" fill="#ff0000"/>
<circle cx="111.11" cy="639.85" r="3.5" fill="#ff0000"/>
<circle cx="121.72" cy="639.85" r="3.5" fill="#ff0000"/>
<circle cx="132.33" cy="639.83" r="3.5" fill="#ff0000"/>
<circle cx="142.94" cy="639.8" r="3.5" fill="#ff0000"/>
<circle cx="153.55" cy="639.76" r="3.5" fill="#ff0000"/>
<circle cx="164.16" cy="639.7" r="3.5" fill="#ff0000"/>
<circle cx="174.77" cy="639.63" r="3.5" fill="#ff0000"/>
<circle cx="185.38" cy="639.53" r="3.5" fill="#ff0000"/>
<circle cx="195.99" cy="639.41" r="3.5" fill="#ff0000"/>
<circle cx="206.6" cy="635.73" r="3.5" fill="#ff0000"/>
<circle cx="217.21" cy="635.02" r="3.5" fill="#ff0000"/>
<circle cx="227.82" cy="634.61" r="3.5" fill="#ff0000"/>
<circle cx="238.43" cy="634.34" r="3.5" fill="#ff0000"/>
<circle cx="249.04" cy="634.07" r="3.5" fill="#ff0000"/>
<circle cx="259.65" cy="633.66" r="3.5" fill="#ff0000"/>
<circle cx="270.26" cy="633.07" r="3.5" fill="#ff0000"/>
<circle cx="280.87" cy="632.39" r="3.5" fill="#ff0000"/>
<circle cx="291.48" cy="631.62" r="3.5" fill="#ff0000"/>
<circle cx="302.09" cy="630.74" r="3.5" fill="#ff0000"/>
<circle cx="312.7" cy="629.78" r="3.5" fill="#ff0000"/>
<circle cx="323.31" cy="628.61" r="3.5" fill="#ff0000"/>
<circle cx="333.92" cy="627.2" r="3.5" fill="#ff0000"/>
<circle cx="344.53" cy="625.61" r="3.5" fill="#ff0000"/>
<circle cx="355.14" cy="623.76" r="3.5" fill="#ff0000"/>
<circle cx="365.75" cy="621.62" r="3.5" fill="#ff0000"/>
<circle cx="376.36" cy="619.25" r="3.5" fill="#ff0000"/>
<circle cx="386.97" cy="616.48" r="3.5" fill="#ff0000"/>
<circle cx="397.58" cy="613.12" r="3.5" fill="#ff0000"/>
<circle cx="408.19" cy="608.94" r="3.5" fill="#ff0000"/>
<circle cx="418.8" cy="603.05" r="3.5" fill="#ff0000"/>
<circle cx="429.41" cy="594.26" r="3.5" fill="#ff0000"/>
<circle cx="440.02" cy="584.25" r="3.5" fill="#ff0000"/>
<circle cx="450.63" cy="569.89" r="3.5" fill="#ff0000"/>
<circle cx="461.24" cy="553.26" r="3.5" fill="#ff0000"/>
<polyline points="471.85,498.03 482.46,462.29" fill="none" stroke="#ff0000" stroke-width="1.65" stroke-linejoin="round"/>
<circle cx="471.85" cy="498.03" r="3.5" fill="#ff0000"/>
<circle cx="482.46" cy="462.29" r="3.5" fill="#ff0000"/>
<polyline points="493.07,487.59 503.68,451.06" fill="none" stroke="#ff0000" stroke-width="1.65" stroke-linejoin="round"/>
<circle cx="493.07" cy="487.59" r="3.5" fill="#ff0000"/>
<circle cx="503.68" cy="451.06" r="3.5" fill="#ff0000"/>
<polyline points="100.5,639.43 111.11,639.43 121.72,639.42 132.33,639.4 142.94,639.37 153.55,639.33 164.16,639.27 174.77,639.18 185.38,639.08 195.99,638.95 206.6,635.17 217.21,634.44 227.82,634.01 238.43,633.74 249.04,633.46 259.65,633.03 270.26,632.43 280.87,631.72 291.48,630.92 302.09,630.02 312.7,629.02 323.31,627.83 333.92,626.41 344.53,624.81 355.14,622.94 365.75,620.76 376.36,618.28 386.97,615.37 397.58,611.98 408.19,607.77 418.8,601.76 429.41,592.72 440.02,582.26 450.63,567.35 461.24,550.76" fill="none" stroke="#0000ff" stroke-width="1.65" stroke-linejoin="round"/>
<polygon points="100.5,634.23 104.8,642.03 96.2,642.03" fill="#0000ff"/>
<polygon points="111.11,634.23 115.41,642.03 106.81,642.03" fill="#0000ff"/>
<polygon points="121.72,634.22 126.02,642.02 117.42,642.02" fill="#0000ff"/>
<polygon points="132.33,634.2 136.63,642 128.03,642" fill="#0000ff"/>
<polygon points="142.94,634.17 147.24,641.97 138.64,641.97" fill="#0000ff"/>
<polygon points="153.55,634.13 157.85,641.93 149.25,641.93" fill="#0000ff"/>
<polygon points="164.16,634.07 168.46,641.87 159.86,641.87" fill="#0000ff"/>
<polygon points="174.77,633.98 179.07,641.78 170.47,641.78" fill="#0000ff"/>
<polygon points="185.38,633.88 189.68,641.68 181.08,641.68" fill="#0000ff"/>
<polygon points="195.99,633.75 200.29,641.55 191.69,641.55" fill="#0000ff"/>
<polygon points="206.6,629.97 210.9,637.77 202.3,637.77" fill="#0000ff"/>
<polygon points="217.21,629.24 221.51,637.04 212.91,637.04" fill="#0000ff"/>
<polygon points="227.82,628.81 232.12,636.61 223.52,636.61" fill="#0000ff"/>
<polygon points="238.43,628.54 242.73,636.34 234.13,636.34" fill="#0000ff"/>
<polygon points="249.04,628.26 253.34,636.06 244.74,636.06" fill="#0000ff"/>
<polygon points="259.65,627.83 263.95,635.63 255.35,635.63" fill="#0000ff"/>
<polygon points="270.26,627.23 274.56,635.03 265.96,635.03" fill="#0000ff"/>
<polygon points="280.87,626.52 285.17,634.32 276.57,634.32" fill="#0000ff"/>
<polygon points="291.48,625.72 295.78,633.52 287.18,633.52" fill="#0000ff"/>
<polygon points="302.09,624.82 306.39,632.62 297.79,632.62" fill="#0000ff"/>
<polygon points="312.7,623.82 317,631.62 308.4,631.62" fill="#0000ff"/>
<polygon points="323.31,622.63 327.61,630.43 319.01,630.43" fill="#0000ff"/>
<polygon points="333.92,621.21 338.22,629.01 329.62,629.01" fill="#0000ff"/>
<polygon points="344.53,619.61 348.83,627.41 340.23,627.41" fill="#0000ff"/>
<polygon points="355.14,617.74 359.44,625.54 350.84,625.54" fill="#0000ff"/>
<polygon points="365.75,615.56 370.05,623.36 361.45,623.36" fill="#0000ff"/>
<polygon points="376.36,613.08 380.66,620.88 372.06,620.88" fill="#0000ff"/>
<polygon points="386.97,610.17 391.27,617.97 382.67,617.97" fill="#0000ff"/>
<polygon points="397.58,606.78 401.88,614.58 393.28,614.58" fill="#0000ff"/>
<polygon points="408.19,602.57 412.49,610.37 403.89,610.37" fill="#0000ff"/>
<polygon points="418.8,596.56 423.1,604.36 414.5,604.36" fill="#0000ff"/>
<polygon points="429.41,587.52 433.71,595.32 425.11,595.32" fill="#0000ff"/>
<polygon points="440.02,577.06 444.32,584.86 435.72,584.86" fill="#0000ff"/>
<polygon points="450.63,562.15 454.93,569.95 446.33,569.95" fill="#0000ff"/>
<polygon points="461.24,545.56 465.54,553.36 456.94,553.36" fill="#0000ff"/>
<polyline points="471.85,495.3 482.46,459" fill="none" stroke="#0000ff" stroke-width="1.65" stroke-linejoin="round"/>
<polygon points="471.85,490.1 476.15,497.9 467.55,497.9" fill="#0000ff"/>
<polygon points="482.46,453.8 486.76,461.6 478.16,461.6" fill="#0000ff"/>
<polyline points="493.07,486.34 503.68,449.67" fill="none" stroke="#0000ff" stroke-width="1.65" stroke-linejoin="round"/>
<polygon points="493.07,481.14 497.37,488.94 488.77,488.94" fill="#0000ff"/>
<polygon points="503.68,444.47 507.98,452.27 499.38,452.27" fill="#0000ff"/>
<polyline points="100.5,642.11 111.11,642.11 121.72,642.11 132.33,642.1 142.94,642.08 153.55,642.06 164.16,642.03 174.77,641.98 185.38,641.93 195.99,641.86 206.6,638.71 217.21,638.12 227.82,637.77 238.43,637.54 249.04,637.32 259.65,636.97 270.26,636.5 280.87,635.96 291.48,635.34 302.09,634.64 312.7,633.82 323.31,632.77 333.92,631.43 344.53,629.93 355.14,628.14 365.75,626.2 376.36,624.44 386.97,622.38 397.58,619.24 408.19,615.17 418.8,609.95 429.41,602.49 440.02,594.86 450.63,583.42 461.24,566.59" fill="none" stroke="#ff00ff" stroke-width="1.65" stroke-linejoin="round"/>
<polygon points="100.5,647.31 104.8,639.51 96.2,639.51" fill="#ff00ff"/>
<polygon points="111.11,647.31 115.41,639.51 106.81,639.51" fill="#ff00ff"/>
<polygon points="121.72,647.31 126.02,639.51 117.42,639.51" fill="#ff00ff"/>
<polygon points="132.33,647.3 136.63,639.5 128.03,639.5" fill="#ff00ff"/>
<polygon points="142.94,647.28 147.24,639.48 138.64,639.48" fill="#ff00ff"/>
<polygon points="153.55,647.26 157.85,639.46 149.25,639.46" fill="#ff00ff"/>
<polygon points="164.16,647.23 168.46,639.43 159.86,639.43" fill="#ff00ff"/>
<polygon points="174.77,647.18 179.07,639.38 170.47,639.38" fill="#ff00ff"/>
<polygon points="185.38,647.13 189.68,639.33 181.08,639.33" fill="#ff00ff"/>
<polygon points="195.99,647.06 200.29,639.26 191.69,639.26" fill="#ff00ff"/>
<polygon points="206.6,643.91 210.9,636.11 202.3,636.11" fill="#ff00ff"/>
<polygon points="217.21,643.32 221.51,635.52 212.91,635.52" fill="#ff00ff"/>
<polygon points="227.82,642.97 232.12,635.17 223.52,635.17" fill="#ff00ff"/>
<polygon points="238.43,642.74 242.73,634.94 234.13,634.94" fill="#ff00ff"/>
<polygon points="249.04,642.52 253.34,634.72 244.74,634.72" fill="#ff00ff"/>
<polygon points="259.65,642.17 263.95,634.37 255.35,634.37" fill="#ff00ff"/>
<polygon points="270.26,641.7 274.56,633.9 265.96,633.9" fill="#ff00ff"/>
<polygon points="280.87,641.16 285.17,633.36 276.57,633.36" fill="#ff00ff"/>
<polygon points="291.48,640.54 295.78,632.74 287.18,632.74" fill="#ff00ff"/>
<polygon points="302.09,639.84 306.39,632.04 297.79,632.04" fill="#ff00ff"/>
<polygon points="312.7,639.02 317,631.22 308.4,631.22" fill="#ff00ff"/>
<polygon points="323.31,637.97 327.61,630.17 319.01,630.17" fill="#ff00ff"/>
<polygon points="333.92,636.63 338.22,628.83 329.62,628.83" fill="#ff00ff"/>
<polygon points="344.53,635.13 348.83,627.33 340.23,627.33" fill="#ff00ff"/>
<polygon points="355.14,633.34 359.44,625.54 350.84,625.54" fill="#ff00ff"/>
<polygon points="365.75,631.4 370.05,623.6 361.45,623.6" fill="#ff00ff"/>
<polygon points="376.36,629.64 380.66,621.84 372.06,621.84" fill="#ff00ff"/>
<polygon points="386.97,627.58 391.27,619.78 382.67,619.78" fill="#ff00ff"/>
<polygon points="397.58,624.44 401.88,616.64 393.28,616.64" fill="#ff00ff"/>
<polygon points="408.19,620.37 412.49,612.57 403.89,612.57" fill="#ff00ff"/>
<polygon points="418.8,615.15 423.1,607.35 414.5,607.35" fill="#ff00ff"/>
<polygon points="429.41,607.69 433.71,599.89 425.11,599.89" fill="#ff00ff"/>
<polygon points="440.02,600.06 444.32,592.26 435.72,592.26" fill="#ff00ff"/>
<polygon points="450.63,588.62 454.93,580.82 446.33,580.82" fill="#ff00ff"/>
<polygon points="461.24,571.79 465.54,563.99 456.94,563.99" fill="#ff00ff"/>
<polyline points="471.85,512.62 482.46,479.79" fill="none" stroke="#ff00ff" stroke-width="1.65" stroke-linejoin="round"/>
<polygon points="471.85,517.82 476.15,510.02 467.55,510.02" fill="#ff00ff"/>
<polygon points="482.46,484.99 486.76,477.19 478.16,477.19" fill="#ff00ff"/>
<polyline points="493.07,494.22 503.68,458.49 514.29,414.8" fill="none" stroke="#ff00ff" stroke-width="1.65" stroke-linejoin="round"/>
<polygon points="493.07,499.42 497.37,491.62 488.77,491.62" fill="#ff00ff"/>
<polygon points="503.68,463.69 507.98,455.89 499.38,455.89" fill="#ff00ff"/>
<polygon points="514.29,420 518.59,412.2 509.99,412.2" fill="#ff00ff"/>
<polyline points="100.5,640 111.11,640 121.72,639.99 132.33,639.97 142.94,639.94 153.55,639.9 164.16,639.85 174.77,639.77 185.38,639.68 195.99,639.56 206.6,635.92 217.21,635.21 227.82,634.8 238.43,634.54 249.04,634.28 259.65,633.86 270.26,633.28 280.87,632.61 291.48,631.85 302.09,630.99 312.7,630.03 323.31,628.87 333.92,627.47 344.53,625.88 355.14,624.04 365.75,621.9 376.36,619.57 386.97,616.85 397.58,613.51 408.19,609.32 418.8,603.48 429.41,594.78 440.02,584.91 450.63,570.73 461.24,554.09" fill="none" stroke="#008000" stroke-width="1.65" stroke-linejoin="round"/>
<polygon points="100.5,635 105,640 100.5,645 96,640" fill="#008000"/>
<polygon points="111.11,635 115.61,640 111.11,645 106.61,640" fill="#008000"/>
<polygon points="121.72,634.99 126.22,639.99 121.72,644.99 117.22,639.99" fill="#008000"/>
<polygon points="132.33,634.97 136.83,639.97 132.33,644.97 127.83,639.97" fill="#008000"/>
<polygon points="142.94,634.94 147.44,639.94 142.94,644.94 138.44,639.94" fill="#008000"/>
<polygon points="153.55,634.9 158.05,639.9 153.55,644.9 149.05,639.9" fill="#008000"/>
<polygon points="164.16,634.85 168.66,639.85 164.16,644.85 159.66,639.85" fill="#008000"/>
<polygon points="174.77,634.77 179.27,639.77 174.77,644.77 170.27,639.77" fill="#008000"/>
<polygon points="185.38,634.68 189.88,639.68 185.38,644.68 180.88,639.68" fill="#008000"/>
<polygon points="195.99,634.56 200.49,639.56 195.99,644.56 191.49,639.56" fill="#008000"/>
<polygon points="206.6,630.92 211.1,635.92 206.6,640.92 202.1,635.92" fill="#008000"/>
<polygon points="217.21,630.21 221.71,635.21 217.21,640.21 212.71,635.21" fill="#008000"/>
<polygon points="227.82,629.8 232.32,634.8 227.82,639.8 223.32,634.8" fill="#008000"/>
<polygon points="238.43,629.54 242.93,634.54 238.43,639.54 233.93,634.54" fill="#008000"/>
<polygon points="249.04,629.28 253.54,634.28 249.04,639.28 244.54,634.28" fill="#008000"/>
<polygon points="259.65,628.86 264.15,633.86 259.65,638.86 255.15,633.86" fill="#008000"/>
<polygon points="270.26,628.28 274.76,633.28 270.26,638.28 265.76,633.28" fill="#008000"/>
<polygon points="280.87,627.61 285.37,632.61 280.87,637.61 276.37,632.61" fill="#008000"/>
<polygon points="291.48,626.85 295.98,631.85 291.48,636.85 286.98,631.85" fill="#008000"/>
<polygon points="302.09,625.99 306.59,630.99 302.09,635.99 297.59,630.99" fill="#008000"/>
<polygon points="312.7,625.03 317.2,630.03 312.7,635.03 308.2,630.03" fill="#008000"/>
<polygon points="323.31,623.87 327.81,628.87 323.31,633.87 318.81,628.87" fill="#008000"/>
<polygon points="333.92,622.47 338.42,627.47 333.92,632.47 329.42,627.47" fill="#008000"/>
<polygon points="344.53,620.88 349.03,625.88 344.53,630.88 340.03,625.88" fill="#008000"/>
<polygon points="355.14,619.04 359.64,624.04 355.14,629.04 350.64,624.04" fill="#008000"/>
<polygon points="365.75,616.9 370.25,621.9 365.75,626.9 361.25,621.9" fill="#008000"/>
<polygon points="376.36,614.57 380.86,619.57 376.36,624.57 371.86,619.57" fill="#008000"/>
<polygon points="386.97,611.85 391.47,616.85 386.97,621.85 382.47,616.85" fill="#008000"/>
<polygon points="397.58,608.51 402.08,613.51 397.58,618.51 393.08,613.51" fill="#008000"/>
<polygon points="408.19,604.32 412.69,609.32 408.19,614.32 403.69,609.32" fill="#008000"/>
<polygon points="418.8,598.48 423.3,603.48 418.8,608.48 414.3,603.48" fill="#008000"/>
<polygon points="429.41,589.78 433.91,594.78 429.41,599.78 424.91,594.78" fill="#008000"/>
<polygon points="440.02,579.91 444.52,584.91 440.02,589.91 435.52,584.91" fill="#008000"/>
<polygon points="450.63,565.73 455.13,570.73 450.63,575.73 446.13,570.73" fill="#008000"/>
<polygon points="461.24,549.09 465.74,554.09 461.24,559.09 456.74,554.09" fill="#008000"/>
<polyline points="471.85,498.94 482.46,463.38" fill="none" stroke="#008000" stroke-width="1.65" stroke-linejoin="round"/>
<polygon points="471.85,493.94 476.35,498.94 471.85,503.94 467.35,498.94" fill="#008000"/>
<polygon points="482.46,458.38 486.96,463.38 482.46,468.38 477.96,463.38" fill="#008000"/>
<polyline points="493.07,488 503.68,451.52" fill="none" stroke="#008000" stroke-width="1.65" stroke-linejoin="round"/>
<polygon points="493.07,483 497.57,488 493.07,493 488.57,488" fill="#008000"/>
<polygon points="503.68,446.52 508.18,451.52 503.68,456.52 499.18,451.52" fill="#008000"/>
<polyline points="100.5,637.56 111.11,637.56 121.72,637.55 132.33,637.53 142.94,637.5 153.55,637.45 164.16,637.39 174.77,637.3 185.38,637.2 195.99,637.06 206.6,633.34 217.21,632.55 227.82,632.09 238.43,631.78 249.04,631.47 259.65,631 270.26,630.34 280.87,629.57 291.48,628.7 302.09,627.74 312.7,626.71 323.31,625.57 333.92,624.24 344.53,622.71 355.14,620.84 365.75,618.61 376.36,616.01 386.97,612.95 397.58,609.37 408.19,604.96 418.8,598.82 429.41,589.38 440.02,579.22 450.63,563.77 461.24,544.23" fill="none" stroke="#000080" stroke-width="1.65" stroke-linejoin="round"/>
<polygon points="95.3,637.56 103.1,633.26 103.1,641.86" fill="#000080"/>
<polygon points="105.91,637.56 113.71,633.26 113.71,641.86" fill="#000080"/>
<polygon points="116.52,637.55 124.32,633.25 124.32,641.85" fill="#000080"/>
<polygon points="127.13,637.53 134.93,633.23 134.93,641.83" fill="#000080"/>
<polygon points="137.74,637.5 145.54,633.2 145.54,641.8" fill="#000080"/>
<polygon points="148.35,637.45 156.15,633.15 156.15,641.75" fill="#000080"/>
<polygon points="158.96,637.39 166.76,633.09 166.76,641.69" fill="#000080"/>
<polygon points="169.57,637.3 177.37,633 177.37,641.6" fill="#000080"/>
<polygon points="180.18,637.2 187.98,632.9 187.98,641.5" fill="#000080"/>
<polygon points="190.79,637.06 198.59,632.76 198.59,641.36" fill="#000080"/>
<polygon points="201.4,633.34 209.2,629.04 209.2,637.64" fill="#000080"/>
<polygon points="212.01,632.55 219.81,628.25 219.81,636.85" fill="#000080"/>
<polygon points="222.62,632.09 230.42,627.79 230.42,636.39" fill="#000080"/>
<polygon points="233.23,631.78 241.03,627.48 241.03,636.08" fill="#000080"/>
<polygon points="243.84,631.47 251.64,627.17 251.64,635.77" fill="#000080"/>
<polygon points="254.45,631 262.25,626.7 262.25,635.3" fill="#000080"/>
<polygon points="265.06,630.34 272.86,626.04 272.86,634.64" fill="#000080"/>
<polygon points="275.67,629.57 283.47,625.27 283.47,633.87" fill="#000080"/>
<polygon points="286.28,628.7 294.08,624.4 294.08,633" fill="#000080"/>
<polygon points="296.89,627.74 304.69,623.44 304.69,632.04" fill="#000080"/>
<polygon points="307.5,626.71 315.3,622.41 315.3,631.01" fill="#000080"/>
<polygon points="318.11,625.57 325.91,621.27 325.91,629.87" fill="#000080"/>
<polygon points="328.72,624.24 336.52,619.94 336.52,628.54" fill="#000080"/>
<polygon points="339.33,622.71 347.13,618.41 347.13,627.01" fill="#000080"/>
<polygon points="349.94,620.84 357.74,616.54 357.74,625.14" fill="#000080"/>
<polygon points="360.55,618.61 368.35,614.31 368.35,622.91" fill="#000080"/>
<polygon points="371.16,616.01 378.96,611.71 378.96,620.31" fill="#000080"/>
<polygon points="381.77,612.95 389.57,608.65 389.57,617.25" fill="#000080"/>
<polygon points="392.38,609.37 400.18,605.07 400.18,613.67" fill="#000080"/>
<polygon points="402.99,604.96 410.79,600.66 410.79,609.26" fill="#000080"/>
<polygon points="413.6,598.82 421.4,594.52 421.4,603.12" fill="#000080"/>
<polygon points="424.21,589.38 432.01,585.08 432.01,593.68" fill="#000080"/>
<polygon points="434.82,579.22 442.62,574.92 442.62,583.52" fill="#000080"/>
<polygon points="445.43,563.77 453.23,559.47 453.23,568.07" fill="#000080"/>
<polygon points="456.04,544.23 463.84,539.93 463.84,548.53" fill="#000080"/>
<polyline points="471.85,489.73 482.46,450.8" fill="none" stroke="#000080" stroke-width="1.65" stroke-linejoin="round"/>
<polygon points="466.65,489.73 474.45,485.43 474.45,494.03" fill="#000080"/>
<polygon points="477.26,450.8 485.06,446.5 485.06,455.1" fill="#000080"/>
<polyline points="493.07,483.28 503.68,444.42" fill="none" stroke="#000080" stroke-width="1.65" stroke-linejoin="round"/>
<polygon points="487.87,483.28 495.67,478.98 495.67,487.58" fill="#000080"/>
<polygon points="498.48,444.42 506.28,440.12 506.28,448.72" fill="#000080"/>
<polyline points="100.5,638.35 111.11,638.35 121.72,638.34 132.33,638.32 142.94,638.29 153.55,638.24 164.16,638.18 174.77,638.09 185.38,637.98 195.99,637.85 206.6,634.09 217.21,633.32 227.82,632.87 238.43,632.58 249.04,632.29 259.65,631.83 270.26,631.19 280.87,630.44 291.48,629.6 302.09,628.66 312.7,627.65 323.31,626.48 333.92,625.11 344.53,623.54 355.14,621.67 365.75,619.46 376.36,616.89 386.97,613.88 397.58,610.38 408.19,606.06 418.8,599.96 429.41,590.66 440.02,580.3 450.63,565.01 461.24,546.82" fill="none" stroke="#8000ff" stroke-width="1.65" stroke-linejoin="round"/>
<polygon points="105.7,638.35 97.9,634.05 97.9,642.65" fill="#8000ff"/>
<polygon points="116.31,638.35 108.51,634.05 108.51,642.65" fill="#8000ff"/>
<polygon points="126.92,638.34 119.12,634.04 119.12,642.64" fill="#8000ff"/>
<polygon points="137.53,638.32 129.73,634.02 129.73,642.62" fill="#8000ff"/>
<polygon points="148.14,638.29 140.34,633.99 140.34,642.59" fill="#8000ff"/>
<polygon points="158.75,638.24 150.95,633.94 150.95,642.54" fill="#8000ff"/>
<polygon points="169.36,638.18 161.56,633.88 161.56,642.48" fill="#8000ff"/>
<polygon points="179.97,638.09 172.17,633.79 172.17,642.39" fill="#8000ff"/>
<polygon points="190.58,637.98 182.78,633.68 182.78,642.28" fill="#8000ff"/>
<polygon points="201.19,637.85 193.39,633.55 193.39,642.15" fill="#8000ff"/>
<polygon points="211.8,634.09 204,629.79 204,638.39" fill="#8000ff"/>
<polygon points="222.41,633.32 214.61,629.02 214.61,637.62" fill="#8000ff"/>
<polygon points="233.02,632.87 225.22,628.57 225.22,637.17" fill="#8000ff"/>
<polygon points="243.63,632.58 235.83,628.28 235.83,636.88" fill="#8000ff"/>
<polygon points="254.24,632.29 246.44,627.99 246.44,636.59" fill="#8000ff"/>
<polygon points="264.85,631.83 257.05,627.53 257.05,636.13" fill="#8000ff"/>
<polygon points="275.46,631.19 267.66,626.89 267.66,635.49" fill="#8000ff"/>
<polygon points="286.07,630.44 278.27,626.14 278.27,634.74" fill="#8000ff"/>
<polygon points="296.68,629.6 288.88,625.3 288.88,633.9" fill="#8000ff"/>
<polygon points="307.29,628.66 299.49,624.36 299.49,632.96" fill="#8000ff"/>
<polygon points="317.9,627.65 310.1,623.35 310.1,631.95" fill="#8000ff"/>
<polygon points="328.51,626.48 320.71,622.18 320.71,630.78" fill="#8000ff"/>
<polygon points="339.12,625.11 331.32,620.81 331.32,629.41" fill="#8000ff"/>
<polygon points="349.73,623.54 341.93,619.24 341.93,627.84" fill="#8000ff"/>
<polygon points="360.34,621.67 352.54,617.37 352.54,625.97" fill="#8000ff"/>
<polygon points="370.95,619.46 363.15,615.16 363.15,623.76" fill="#8000ff"/>
<polygon points="381.56,616.89 373.76,612.59 373.76,621.19" fill="#8000ff"/>
<polygon points="392.17,613.88 384.37,609.58 384.37,618.18" fill="#8000ff"/>
<polygon points="402.78,610.38 394.98,606.08 394.98,614.68" fill="#8000ff"/>
<polygon points="413.39,606.06 405.59,601.76 405.59,610.36" fill="#8000ff"/>
<polygon points="424,599.96 416.2,595.66 416.2,604.26" fill="#8000ff"/>
<polygon points="434.61,590.66 426.81,586.36 426.81,594.96" fill="#8000ff"/>
<polygon points="445.22,580.3 437.42,576 437.42,584.6" fill="#8000ff"/>
<polygon points="455.83,565.01 448.03,560.71 448.03,569.31" fill="#8000ff"/>
<polygon points="466.44,546.82 458.64,542.52 458.64,551.12" fill="#8000ff"/>
<polyline points="471.85,491.85 482.46,454.03" fill="none" stroke="#8000ff" stroke-width="1.65" stroke-linejoin="round"/>
<polygon points="477.05,491.85 469.25,487.55 469.25,496.15" fill="#8000ff"/>
<polygon points="487.66,454.03 479.86,449.73 479.86,458.33" fill="#8000ff"/>
<polyline points="493.07,484.49 503.68,446.59" fill="none" stroke="#8000ff" stroke-width="1.65" stroke-linejoin="round"/>
<polygon points="498.27,484.49 490.47,480.19 490.47,488.79" fill="#8000ff"/>
<polygon points="508.88,446.59 501.08,442.29 501.08,450.89" fill="#8000ff"/>
<polyline points="100.5,636.14 111.11,636.14 121.72,636.13 132.33,636.11 142.94,636.08 153.55,636.03 164.16,635.97 174.77,635.89 185.38,635.78 195.99,635.65 206.6,632 217.21,631.17 227.82,630.67 238.43,630.34 249.04,630.01 259.65,629.51 270.26,628.81 280.87,627.99 291.48,627.07 302.09,626.08 312.7,625.03 323.31,623.93 333.92,622.68 344.53,621.22 355.14,619.35 365.75,617.08 376.36,614.42 386.97,611.27 397.58,607.55 408.19,602.98 418.8,596.77 429.41,587.07 440.02,577.28 450.63,561.53 461.24,539.56" fill="none" stroke="#800080" stroke-width="1.65" stroke-linejoin="round"/>
<polygon points="100.5,631.74 104.12,633.94 104.12,638.34 100.5,640.54 96.88,638.34 96.88,633.94" fill="#800080"/>
<polygon points="111.11,631.74 114.73,633.94 114.73,638.34 111.11,640.54 107.49,638.34 107.49,633.94" fill="#800080"/>
<polygon points="121.72,631.73 125.34,633.93 125.34,638.33 121.72,640.53 118.1,638.33 118.1,633.93" fill="#800080"/>
<polygon points="132.33,631.71 135.95,633.91 135.95,638.31 132.33,640.51 128.71,638.31 128.71,633.91" fill="#800080"/>
<polygon points="142.94,631.68 146.56,633.88 146.56,638.28 142.94,640.48 139.32,638.28 139.32,633.88" fill="#800080"/>
<polygon points="153.55,631.63 157.17,633.83 157.17,638.23 153.55,640.43 149.93,638.23 149.93,633.83" fill="#800080"/>
<polygon points="164.16,631.57 167.78,633.77 167.78,638.17 164.16,640.37 160.54,638.17 160.54,633.77" fill="#800080"/>
<polygon points="174.77,631.49 178.39,633.69 178.39,638.09 174.77,640.29 171.15,638.09 171.15,633.69" fill="#800080"/>
<polygon points="185.38,631.38 189,633.58 189,637.98 185.38,640.18 181.76,637.98 181.76,633.58" fill="#800080"/>
<polygon points="195.99,631.25 199.61,633.45 199.61,637.85 195.99,640.05 192.37,637.85 192.37,633.45" fill="#800080"/>
<polygon points="206.6,627.6 210.22,629.8 210.22,634.2 206.6,636.4 202.98,634.2 202.98,629.8" fill="#800080"/>
<polygon points="217.21,626.77 220.83,628.97 220.83,633.37 217.21,635.57 213.59,633.37 213.59,628.97" fill="#800080"/>
<polygon points="227.82,626.27 231.44,628.47 231.44,632.87 227.82,635.07 224.2,632.87 224.2,628.47" fill="#800080"/>
<polygon points="238.43,625.94 242.05,628.14 242.05,632.54 238.43,634.74 234.81,632.54 234.81,628.14" fill="#800080"/>
<polygon points="249.04,625.61 252.66,627.81 252.66,632.21 249.04,634.41 245.42,632.21 245.42,627.81" fill="#800080"/>
<polygon points="259.65,625.11 263.27,627.31 263.27,631.71 259.65,633.91 256.03,631.71 256.03,627.31" fill="#800080"/>
<polygon points="270.26,624.41 273.88,626.61 273.88,631.01 270.26,633.21 266.64,631.01 266.64,626.61" fill="#800080"/>
<polygon points="280.87,623.59 284.49,625.79 284.49,630.19 280.87,632.39 277.25,630.19 277.25,625.79" fill="#800080"/>
<polygon points="291.48,622.67 295.1,624.87 295.1,629.27 291.48,631.47 287.86,629.27 287.86,624.87" fill="#800080"/>
<polygon points="302.09,621.68 305.71,623.88 305.71,628.28 302.09,630.48 298.47,628.28 298.47,623.88" fill="#800080"/>
<polygon points="312.7,620.63 316.32,622.83 316.32,627.23 312.7,629.43 309.08,627.23 309.08,622.83" fill="#800080"/>
<polygon points="323.31,619.53 326.93,621.73 326.93,626.13 323.31,628.33 319.69,626.13 319.69,621.73" fill="#800080"/>
<polygon points="333.92,618.28 337.54,620.48 337.54,624.88 333.92,627.08 330.3,624.88 330.3,620.48" fill="#800080"/>
<polygon points="344.53,616.82 348.15,619.02 348.15,623.42 344.53,625.62 340.91,623.42 340.91,619.02" fill="#800080"/>
<polygon points="355.14,614.95 358.76,617.15 358.76,621.55 355.14,623.75 351.52,621.55 351.52,617.15" fill="#800080"/>
<polygon points="365.75,612.68 369.37,614.88 369.37,619.28 365.75,621.48 362.13,619.28 362.13,614.88" fill="#800080"/>
<polygon points="376.36,610.02 379.98,612.22 379.98,616.62 376.36,618.82 372.74,616.62 372.74,612.22" fill="#800080"/>
<polygon points="386.97,606.87 390.59,609.07 390.59,613.47 386.97,615.67 383.35,613.47 383.35,609.07" fill="#800080"/>
<polygon points="397.58,603.15 401.2,605.35 401.2,609.75 397.58,611.95 393.96,609.75 393.96,605.35" fill="#800080"/>
<polygon points="408.19,598.58 411.81,600.78 411.81,605.18 408.19,607.38 404.57,605.18 404.57,600.78" fill="#800080"/>
<polygon points="418.8,592.37 422.42,594.57 422.42,598.97 418.8,601.17 415.18,598.97 415.18,594.57" fill="#800080"/>
<polygon points="429.41,582.67 433.03,584.87 433.03,589.27 429.41,591.47 425.79,589.27 425.79,584.87" fill="#800080"/>
<polygon points="440.02,572.88 443.64,575.08 443.64,579.48 440.02,581.68 436.4,579.48 436.4,575.08" fill="#800080"/>
<polygon points="450.63,557.13 454.25,559.33 454.25,563.73 450.63,565.93 447.01,563.73 447.01,559.33" fill="#800080"/>
<polygon points="461.24,535.16 464.86,537.36 464.86,541.76 461.24,543.96 457.62,541.76 457.62,537.36" fill="#800080"/>
<polyline points="471.85,485.93 482.46,444.98" fill="none" stroke="#800080" stroke-width="1.65" stroke-linejoin="round"/>
<polygon points="471.85,481.53 475.47,483.73 475.47,488.13 471.85,490.33 468.23,488.13 468.23,483.73" fill="#800080"/>
<polygon points="482.46,440.58 486.08,442.78 486.08,447.18 482.46,449.38 478.84,447.18 478.84,442.78" fill="#800080"/>
<polyline points="493.07,481.12 503.68,440.5" fill="none" stroke="#800080" stroke-width="1.65" stroke-linejoin="round"/>
<polygon points="493.07,476.72 496.69,478.92 496.69,483.32 493.07,485.52 489.45,483.32 489.45,478.92" fill="#800080"/>
<polygon points="503.68,436.1 507.3,438.3 507.3,442.7 503.68,444.9 500.06,442.7 500.06,438.3" fill="#800080"/>
<polyline points="100.5,639.58 111.11,639.57 121.72,639.56 132.33,639.55 142.94,639.52 153.55,639.47 164.16,639.41 174.77,639.33 185.38,639.23 195.99,639.1 206.6,635.36 217.21,634.63 227.82,634.21 238.43,633.94 249.04,633.67 259.65,633.24 270.26,632.64 280.87,631.94 291.48,631.15 302.09,630.26 312.7,629.27 323.31,628.09 333.92,626.68 344.53,625.08 355.14,623.22 365.75,621.05 376.36,618.6 386.97,615.74 397.58,612.36 408.19,608.16 418.8,602.19 429.41,593.23 440.02,582.92 450.63,568.2 461.24,551.59" fill="none" stroke="#800000" stroke-width="1.65" stroke-linejoin="round"/>
<polygon points="100.5,635.28 101.62,638.34 104.87,638.45 102.31,640.46 103.2,643.6 100.5,641.78 97.8,643.6 98.69,640.46 96.13,638.45 99.38,638.34" fill="#800000"/>
<polygon points="111.11,635.27 112.23,638.34 115.48,638.45 112.92,640.46 113.81,643.59 111.11,641.77 108.41,643.59 109.3,640.46 106.74,638.45 109.99,638.34" fill="#800000"/>
<polygon points="121.72,635.26 122.84,638.33 126.09,638.44 123.53,640.45 124.42,643.59 121.72,641.76 119.02,643.59 119.91,640.45 117.35,638.44 120.6,638.33" fill="#800000"/>
<polygon points="132.33,635.25 133.45,638.31 136.7,638.42 134.14,640.43 135.03,643.57 132.33,641.75 129.63,643.57 130.52,640.43 127.96,638.42 131.21,638.31" fill="#800000"/>
<polygon points="142.94,635.22 144.06,638.28 147.31,638.39 144.75,640.4 145.64,643.54 142.94,641.72 140.24,643.54 141.13,640.4 138.57,638.39 141.82,638.28" fill="#800000"/>
<polygon points="153.55,635.17 154.67,638.23 157.92,638.35 155.36,640.36 156.25,643.49 153.55,641.67 150.85,643.49 151.74,640.36 149.18,638.35 152.43,638.23" fill="#800000"/>
<polygon points="164.16,635.11 165.28,638.17 168.53,638.29 165.97,640.3 166.86,643.43 164.16,641.61 161.46,643.43 162.35,640.3 159.79,638.29 163.04,638.17" fill="#800000"/>
<polygon points="174.77,635.03 175.89,638.09 179.14,638.21 176.58,640.22 177.47,643.35 174.77,641.53 172.07,643.35 172.96,640.22 170.4,638.21 173.65,638.09" fill="#800000"/>
<polygon points="185.38,634.93 186.5,637.99 189.75,638.11 187.19,640.12 188.08,643.25 185.38,641.43 182.68,643.25 183.57,640.12 181.01,638.11 184.26,637.99" fill="#800000"/>
<polygon points="195.99,634.8 197.11,637.87 200.36,637.98 197.8,639.99 198.69,643.12 195.99,641.3 193.29,643.12 194.18,639.99 191.62,637.98 194.87,637.87" fill="#800000"/>
<polygon points="206.6,631.06 207.72,634.12 210.97,634.23 208.41,636.24 209.3,639.38 206.6,637.56 203.9,639.38 204.79,636.24 202.23,634.23 205.48,634.12" fill="#800000"/>
<polygon points="217.21,630.33 218.33,633.4 221.58,633.51 219.02,635.52 219.91,638.65 217.21,636.83 214.51,638.65 215.4,635.52 212.84,633.51 216.09,633.4" fill="#800000"/>
<polygon points="227.82,629.91 228.94,632.97 232.19,633.09 229.63,635.1 230.52,638.23 227.82,636.41 225.12,638.23 226.01,635.1 223.45,633.09 226.7,632.97" fill="#800000"/>
<polygon points="238.43,629.64 239.55,632.7 242.8,632.82 240.24,634.83 241.13,637.96 238.43,636.14 235.73,637.96 236.62,634.83 234.06,632.82 237.31,632.7" fill="#800000"/>
<polygon points="249.04,629.37 250.16,632.43 253.41,632.55 250.85,634.55 251.74,637.69 249.04,635.87 246.34,637.69 247.23,634.55 244.67,632.55 247.92,632.43" fill="#800000"/>
<polygon points="259.65,628.94 260.77,632 264.02,632.12 261.46,634.13 262.35,637.26 259.65,635.44 256.95,637.26 257.84,634.13 255.28,632.12 258.53,632" fill="#800000"/>
<polygon points="270.26,628.34 271.38,631.4 274.63,631.52 272.07,633.53 272.96,636.66 270.26,634.84 267.56,636.66 268.45,633.53 265.89,631.52 269.14,631.4" fill="#800000"/>
<polygon points="280.87,627.64 281.99,630.71 285.24,630.82 282.68,632.83 283.57,635.97 280.87,634.14 278.17,635.97 279.06,632.83 276.5,630.82 279.75,630.71" fill="#800000"/>
<polygon points="291.48,626.85 292.6,629.91 295.85,630.03 293.29,632.04 294.18,635.17 291.48,633.35 288.78,635.17 289.67,632.04 287.11,630.03 290.36,629.91" fill="#800000"/>
<polygon points="302.09,625.96 303.21,629.02 306.46,629.14 303.9,631.15 304.79,634.28 302.09,632.46 299.39,634.28 300.28,631.15 297.72,629.14 300.97,629.02" fill="#800000"/>
<polygon points="312.7,624.97 313.82,628.03 317.07,628.15 314.51,630.16 315.4,633.29 312.7,631.47 310,633.29 310.89,630.16 308.33,628.15 311.58,628.03" fill="#800000"/>
<polygon points="323.31,623.79 324.43,626.86 327.68,626.97 325.12,628.98 326.01,632.12 323.31,630.29 320.61,632.12 321.5,628.98 318.94,626.97 322.19,626.86" fill="#800000"/>
<polygon points="333.92,622.38 335.04,625.44 338.29,625.55 335.73,627.56 336.62,630.7 333.92,628.88 331.22,630.7 332.11,627.56 329.55,625.55 332.8,625.44" fill="#800000"/>
<polygon points="344.53,620.78 345.65,623.84 348.9,623.95 346.34,625.96 347.23,629.1 344.53,627.28 341.83,629.1 342.72,625.96 340.16,623.95 343.41,623.84" fill="#800000"/>
<polygon points="355.14,618.92 356.26,621.98 359.51,622.09 356.95,624.1 357.84,627.24 355.14,625.42 352.44,627.24 353.33,624.1 350.77,622.09 354.02,621.98" fill="#800000"/>
<polygon points="365.75,616.75 366.87,619.81 370.12,619.93 367.56,621.93 368.45,625.07 365.75,623.25 363.05,625.07 363.94,621.93 361.38,619.93 364.63,619.81" fill="#800000"/>
<polygon points="376.36,614.3 377.48,617.36 380.73,617.48 378.17,619.49 379.06,622.62 376.36,620.8 373.66,622.62 374.55,619.49 371.99,617.48 375.24,617.36" fill="#800000"/>
<polygon points="386.97,611.44 388.09,614.5 391.34,614.62 388.78,616.63 389.67,619.76 386.97,617.94 384.27,619.76 385.16,616.63 382.6,614.62 385.85,614.5" fill="#800000"/>
<polygon points="397.58,608.06 398.7,611.12 401.95,611.24 399.39,613.25 400.28,616.38 397.58,614.56 394.88,616.38 395.77,613.25 393.21,611.24 396.46,611.12" fill="#800000"/>
<polygon points="408.19,603.86 409.31,606.92 412.56,607.03 410,609.04 410.89,612.18 408.19,610.36 405.49,612.18 406.38,609.04 403.82,607.03 407.07,606.92" fill="#800000"/>
<polygon points="418.8,597.89 419.92,600.95 423.17,601.07 420.61,603.07 421.5,606.21 418.8,604.39 416.1,606.21 416.99,603.07 414.43,601.07 417.68,600.95" fill="#800000"/>
<polygon points="429.41,588.93 430.53,592 433.78,592.11 431.22,594.12 432.11,597.26 429.41,595.43 426.71,597.26 427.6,594.12 425.04,592.11 428.29,592" fill="#800000"/>
<polygon points="440.02,578.62 441.14,581.68 444.39,581.8 441.83,583.81 442.72,586.94 440.02,585.12 437.32,586.94 438.21,583.81 435.65,581.8 438.9,581.68" fill="#800000"/>
<polygon points="450.63,563.9 451.75,566.96 455,567.08 452.44,569.09 453.33,572.22 450.63,570.4 447.93,572.22 448.82,569.09 446.26,567.08 449.51,566.96" fill="#800000"/>
<polygon points="461.24,547.29 462.36,550.36 465.61,550.47 463.05,552.48 463.94,555.61 461.24,553.79 458.54,555.61 459.43,552.48 456.87,550.47 460.12,550.36" fill="#800000"/>
<polyline points="471.85,496.21 482.46,460.1" fill="none" stroke="#800000" stroke-width="1.65" stroke-linejoin="round"/>
<polygon points="471.85,491.91 472.97,494.97 476.22,495.09 473.66,497.09 474.55,500.23 471.85,498.41 469.15,500.23 470.04,497.09 467.48,495.09 470.73,494.97" fill="#800000"/>
<polygon points="482.46,455.8 483.58,458.86 486.83,458.98 484.27,460.98 485.16,464.12 482.46,462.3 479.76,464.12 480.65,460.98 478.09,458.98 481.34,458.86" fill="#800000"/>
<polyline points="493.07,486.76 503.68,450.13" fill="none" stroke="#800000" stroke-width="1.65" stroke-linejoin="round"/>
<polygon points="493.07,482.46 494.19,485.52 497.44,485.64 494.88,487.64 495.77,490.78 493.07,488.96 490.37,490.78 491.26,487.64 488.7,485.64 491.95,485.52" fill="#800000"/>
<polygon points="503.68,445.83 504.8,448.89 508.05,449.01 505.49,451.02 506.38,454.15 503.68,452.33 500.98,454.15 501.87,451.02 499.31,449.01 502.56,448.89" fill="#800000"/>
<polyline points="100.5,639.29 111.11,639.29 121.72,639.28 132.33,639.26 142.94,639.23 153.55,639.18 164.16,639.12 174.77,639.04 185.38,638.93 195.99,638.8 206.6,634.98 217.21,634.25 227.82,633.82 238.43,633.54 249.04,633.26 259.65,632.83 270.26,632.21 280.87,631.5 291.48,630.68 302.09,629.77 312.7,628.76 323.31,627.57 333.92,626.15 344.53,624.54 355.14,622.67 365.75,620.47 376.36,617.95 386.97,615 397.58,611.59 408.19,607.38 418.8,601.33 429.41,592.21 440.02,581.59 450.63,566.51 461.24,549.93" fill="none" stroke="#808000" stroke-width="1.65" stroke-linejoin="round"/>
<polygon points="100.5,634.99 104.87,638.17 103.2,643.31 97.8,643.31 96.13,638.17" fill="#808000"/>
<polygon points="111.11,634.99 115.48,638.17 113.81,643.31 108.41,643.31 106.74,638.17" fill="#808000"/>
<polygon points="121.72,634.98 126.09,638.16 124.42,643.3 119.02,643.3 117.35,638.16" fill="#808000"/>
<polygon points="132.33,634.96 136.7,638.14 135.03,643.28 129.63,643.28 127.96,638.14" fill="#808000"/>
<polygon points="142.94,634.93 147.31,638.11 145.64,643.25 140.24,643.25 138.57,638.11" fill="#808000"/>
<polygon points="153.55,634.88 157.92,638.06 156.25,643.21 150.85,643.21 149.18,638.06" fill="#808000"/>
<polygon points="164.16,634.82 168.53,638 166.86,643.14 161.46,643.14 159.79,638" fill="#808000"/>
<polygon points="174.77,634.74 179.14,637.92 177.47,643.06 172.07,643.06 170.4,637.92" fill="#808000"/>
<polygon points="185.38,634.63 189.75,637.81 188.08,642.95 182.68,642.95 181.01,637.81" fill="#808000"/>
<polygon points="195.99,634.5 200.36,637.67 198.69,642.82 193.29,642.82 191.62,637.67" fill="#808000"/>
<polygon points="206.6,630.68 210.97,633.86 209.3,639 203.9,639 202.23,633.86" fill="#808000"/>
<polygon points="217.21,629.95 221.58,633.12 219.91,638.27 214.51,638.27 212.84,633.12" fill="#808000"/>
<polygon points="227.82,629.52 232.19,632.69 230.52,637.84 225.12,637.84 223.45,632.69" fill="#808000"/>
<polygon points="238.43,629.24 242.8,632.42 241.13,637.56 235.73,637.56 234.06,632.42" fill="#808000"/>
<polygon points="249.04,628.96 253.41,632.14 251.74,637.28 246.34,637.28 244.67,632.14" fill="#808000"/>
<polygon points="259.65,628.53 264.02,631.71 262.35,636.85 256.95,636.85 255.28,631.71" fill="#808000"/>
<polygon points="270.26,627.91 274.63,631.09 272.96,636.23 267.56,636.23 265.89,631.09" fill="#808000"/>
<polygon points="280.87,627.2 285.24,630.38 283.57,635.52 278.17,635.52 276.5,630.38" fill="#808000"/>
<polygon points="291.48,626.38 295.85,629.56 294.18,634.7 288.78,634.7 287.11,629.56" fill="#808000"/>
<polygon points="302.09,625.47 306.46,628.65 304.79,633.79 299.39,633.79 297.72,628.65" fill="#808000"/>
<polygon points="312.7,624.46 317.07,627.64 315.4,632.79 310,632.79 308.33,627.64" fill="#808000"/>
<polygon points="323.31,623.27 327.68,626.45 326.01,631.6 320.61,631.6 318.94,626.45" fill="#808000"/>
<polygon points="333.92,621.85 338.29,625.03 336.62,630.17 331.22,630.17 329.55,625.03" fill="#808000"/>
<polygon points="344.53,620.24 348.9,623.42 347.23,628.56 341.83,628.56 340.16,623.42" fill="#808000"/>
<polygon points="355.14,618.37 359.51,621.55 357.84,626.69 352.44,626.69 350.77,621.55" fill="#808000"/>
<polygon points="365.75,616.17 370.12,619.35 368.45,624.5 363.05,624.5 361.38,619.35" fill="#808000"/>
<polygon points="376.36,613.65 380.73,616.83 379.06,621.97 373.66,621.97 371.99,616.83" fill="#808000"/>
<polygon points="386.97,610.7 391.34,613.88 389.67,619.02 384.27,619.02 382.6,613.88" fill="#808000"/>
<polygon points="397.58,607.29 401.95,610.47 400.28,615.62 394.88,615.62 393.21,610.47" fill="#808000"/>
<polygon points="408.19,603.08 412.56,606.26 410.89,611.4 405.49,611.4 403.82,606.26" fill="#808000"/>
<polygon points="418.8,597.03 423.17,600.2 421.5,605.35 416.1,605.35 414.43,600.2" fill="#808000"/>
<polygon points="429.41,587.91 433.78,591.08 432.11,596.23 426.71,596.23 425.04,591.08" fill="#808000"/>
<polygon points="440.02,577.29 444.39,580.47 442.72,585.62 437.32,585.62 435.65,580.47" fill="#808000"/>
<polygon points="450.63,562.21 455,565.39 453.33,570.53 447.93,570.53 446.26,565.39" fill="#808000"/>
<polygon points="461.24,545.63 465.61,548.81 463.94,553.95 458.54,553.95 456.87,548.81" fill="#808000"/>
<polyline points="471.85,494.38 482.46,457.91" fill="none" stroke="#808000" stroke-width="1.65" stroke-linejoin="round"/>
<polygon points="471.85,490.08 476.22,493.26 474.55,498.41 469.15,498.41 467.48,493.26" fill="#808000"/>
<polygon points="482.46,453.61 486.83,456.79 485.16,461.93 479.76,461.93 478.09,456.79" fill="#808000"/>
<polyline points="493.07,485.93 503.68,449.2" fill="none" stroke="#808000" stroke-width="1.65" stroke-linejoin="round"/>
<polygon points="493.07,481.63 497.44,484.81 495.77,489.95 490.37,489.95 488.7,484.81" fill="#808000"/>
<polygon points="503.68,444.9 508.05,448.08 506.38,453.22 500.98,453.22 499.31,448.08" fill="#808000"/>
<polyline points="100.5,637.88 111.11,637.87 121.72,637.86 132.33,637.84 142.94,637.81 153.55,637.77 164.16,637.7 174.77,637.62 185.38,637.51 195.99,637.38 206.6,633.64 217.21,632.86 227.82,632.4 238.43,632.1 249.04,631.8 259.65,631.33 270.26,630.68 280.87,629.92 291.48,629.06 302.09,628.11 312.7,627.09 323.31,625.93 333.92,624.59 344.53,623.04 355.14,621.18 365.75,618.95 376.36,616.36 386.97,613.32 397.58,609.77 408.19,605.4 418.8,599.27 429.41,589.89 440.02,579.65 450.63,564.27" fill="none" stroke="#2f6fb8" stroke-width="1.65" stroke-linejoin="round"/>
<circle cx="100.5" cy="637.88" r="3.6" fill="url(#sph)"/>
<circle cx="111.11" cy="637.87" r="3.6" fill="url(#sph)"/>
<circle cx="121.72" cy="637.86" r="3.6" fill="url(#sph)"/>
<circle cx="132.33" cy="637.84" r="3.6" fill="url(#sph)"/>
<circle cx="142.94" cy="637.81" r="3.6" fill="url(#sph)"/>
<circle cx="153.55" cy="637.77" r="3.6" fill="url(#sph)"/>
<circle cx="164.16" cy="637.7" r="3.6" fill="url(#sph)"/>
<circle cx="174.77" cy="637.62" r="3.6" fill="url(#sph)"/>
<circle cx="185.38" cy="637.51" r="3.6" fill="url(#sph)"/>
<circle cx="195.99" cy="637.38" r="3.6" fill="url(#sph)"/>
<circle cx="206.6" cy="633.64" r="3.6" fill="url(#sph)"/>
<circle cx="217.21" cy="632.86" r="3.6" fill="url(#sph)"/>
<circle cx="227.82" cy="632.4" r="3.6" fill="url(#sph)"/>
<circle cx="238.43" cy="632.1" r="3.6" fill="url(#sph)"/>
<circle cx="249.04" cy="631.8" r="3.6" fill="url(#sph)"/>
<circle cx="259.65" cy="631.33" r="3.6" fill="url(#sph)"/>
<circle cx="270.26" cy="630.68" r="3.6" fill="url(#sph)"/>
<circle cx="280.87" cy="629.92" r="3.6" fill="url(#sph)"/>
<circle cx="291.48" cy="629.06" r="3.6" fill="url(#sph)"/>
<circle cx="302.09" cy="628.11" r="3.6" fill="url(#sph)"/>
<circle cx="312.7" cy="627.09" r="3.6" fill="url(#sph)"/>
<circle cx="323.31" cy="625.93" r="3.6" fill="url(#sph)"/>
<circle cx="333.92" cy="624.59" r="3.6" fill="url(#sph)"/>
<circle cx="344.53" cy="623.04" r="3.6" fill="url(#sph)"/>
<circle cx="355.14" cy="621.18" r="3.6" fill="url(#sph)"/>
<circle cx="365.75" cy="618.95" r="3.6" fill="url(#sph)"/>
<circle cx="376.36" cy="616.36" r="3.6" fill="url(#sph)"/>
<circle cx="386.97" cy="613.32" r="3.6" fill="url(#sph)"/>
<circle cx="397.58" cy="609.77" r="3.6" fill="url(#sph)"/>
<circle cx="408.19" cy="605.4" r="3.6" fill="url(#sph)"/>
<circle cx="418.8" cy="599.27" r="3.6" fill="url(#sph)"/>
<circle cx="429.41" cy="589.89" r="3.6" fill="url(#sph)"/>
<circle cx="440.02" cy="579.65" r="3.6" fill="url(#sph)"/>
<circle cx="450.63" cy="564.27" r="3.6" fill="url(#sph)"/>
<polyline points="461.24,519.09 471.85,492.31 482.46,455.84" fill="none" stroke="#2f6fb8" stroke-width="1.65" stroke-linejoin="round"/>
<circle cx="461.24" cy="519.09" r="3.6" fill="url(#sph)"/>
<circle cx="471.85" cy="492.31" r="3.6" fill="url(#sph)"/>
<circle cx="482.46" cy="455.84" r="3.6" fill="url(#sph)"/>
<polyline points="482.46,511.05 493.07,483.76 503.68,445.29" fill="none" stroke="#2f6fb8" stroke-width="1.65" stroke-linejoin="round"/>
<circle cx="482.46" cy="511.05" r="3.6" fill="url(#sph)"/>
<circle cx="493.07" cy="483.76" r="3.6" fill="url(#sph)"/>
<circle cx="503.68" cy="445.29" r="3.6" fill="url(#sph)"/>
<polyline points="100.5,637.72 111.11,637.72 121.72,637.71 132.33,637.69 142.94,637.66 153.55,637.61 164.16,637.55 174.77,637.46 185.38,637.35 195.99,637.22 206.6,633.49 217.21,632.71 227.82,632.24 238.43,631.94 249.04,631.64 259.65,631.17 270.26,630.51 280.87,629.74 291.48,628.88 302.09,627.93 312.7,626.9 323.31,625.75 333.92,624.42 344.53,622.88 355.14,621.01 365.75,618.78 376.36,616.19 386.97,613.14 397.58,609.57 408.19,605.18 418.8,599.05 429.41,589.64 440.02,579.44 450.63,564.02" fill="none" stroke="#20a0a0" stroke-width="1.65" stroke-linejoin="round"/>
<path d="M96.5 637.72H104.5M100.5 633.72V641.72" stroke="#20a0a0" stroke-width="1" fill="none"/>
<path d="M107.11 637.72H115.11M111.11 633.72V641.72" stroke="#20a0a0" stroke-width="1" fill="none"/>
<path d="M117.72 637.71H125.72M121.72 633.71V641.71" stroke="#20a0a0" stroke-width="1" fill="none"/>
<path d="M128.33 637.69H136.33M132.33 633.69V641.69" stroke="#20a0a0" stroke-width="1" fill="none"/>
<path d="M138.94 637.66H146.94M142.94 633.66V641.66" stroke="#20a0a0" stroke-width="1" fill="none"/>
<path d="M149.55 637.61H157.55M153.55 633.61V641.61" stroke="#20a0a0" stroke-width="1" fill="none"/>
<path d="M160.16 637.55H168.16M164.16 633.55V641.55" stroke="#20a0a0" stroke-width="1" fill="none"/>
<path d="M170.77 637.46H178.77M174.77 633.46V641.46" stroke="#20a0a0" stroke-width="1" fill="none"/>
<path d="M181.38 637.35H189.38M185.38 633.35V641.35" stroke="#20a0a0" stroke-width="1" fill="none"/>
<path d="M191.99 637.22H199.99M195.99 633.22V641.22" stroke="#20a0a0" stroke-width="1" fill="none"/>
<path d="M202.6 633.49H210.6M206.6 629.49V637.49" stroke="#20a0a0" stroke-width="1" fill="none"/>
<path d="M213.21 632.71H221.21M217.21 628.71V636.71" stroke="#20a0a0" stroke-width="1" fill="none"/>
<path d="M223.82 632.24H231.82M227.82 628.24V636.24" stroke="#20a0a0" stroke-width="1" fill="none"/>
<path d="M234.43 631.94H242.43M238.43 627.94V635.94" stroke="#20a0a0" stroke-width="1" fill="none"/>
<path d="M245.04 631.64H253.04M249.04 627.64V635.64" stroke="#20a0a0" stroke-width="1" fill="none"/>
<path d="M255.65 631.17H263.65M259.65 627.17V635.17" stroke="#20a0a0" stroke-width="1" fill="none"/>
<path d="M266.26 630.51H274.26M270.26 626.51V634.51" stroke="#20a0a0" stroke-width="1" fill="none"/>
<path d="M276.87 629.74H284.87M280.87 625.74V633.74" stroke="#20a0a0" stroke-width="1" fill="none"/>
<path d="M287.48 628.88H295.48M291.48 624.88V632.88" stroke="#20a0a0" stroke-width="1" fill="none"/>
<path d="M298.09 627.93H306.09M302.09 623.93V631.93" stroke="#20a0a0" stroke-width="1" fill="none"/>
<path d="M308.7 626.9H316.7M312.7 622.9V630.9" stroke="#20a0a0" stroke-width="1" fill="none"/>
<path d="M319.31 625.75H327.31M323.31 621.75V629.75" stroke="#20a0a0" stroke-width="1" fill="none"/>
<path d="M329.92 624.42H337.92M333.92 620.42V628.42" stroke="#20a0a0" stroke-width="1" fill="none"/>
<path d="M340.53 622.88H348.53M344.53 618.88V626.88" stroke="#20a0a0" stroke-width="1" fill="none"/>
<path d="M351.14 621.01H359.14M355.14 617.01V625.01" stroke="#20a0a0" stroke-width="1" fill="none"/>
<path d="M361.75 618.78H369.75M365.75 614.78V622.78" stroke="#20a0a0" stroke-width="1" fill="none"/>
<path d="M372.36 616.19H380.36M376.36 612.19V620.19" stroke="#20a0a0" stroke-width="1" fill="none"/>
<path d="M382.97 613.14H390.97M386.97 609.14V617.14" stroke="#20a0a0" stroke-width="1" fill="none"/>
<path d="M393.58 609.57H401.58M397.58 605.57V613.57" stroke="#20a0a0" stroke-width="1" fill="none"/>
<path d="M404.19 605.18H412.19M408.19 601.18V609.18" stroke="#20a0a0" stroke-width="1" fill="none"/>
<path d="M414.8 599.05H422.8M418.8 595.05V603.05" stroke="#20a0a0" stroke-width="1" fill="none"/>
<path d="M425.41 589.64H433.41M429.41 585.64V593.64" stroke="#20a0a0" stroke-width="1" fill="none"/>
<path d="M436.02 579.44H444.02M440.02 575.44V583.44" stroke="#20a0a0" stroke-width="1" fill="none"/>
<path d="M446.63 564.02H454.63M450.63 560.02V568.02" stroke="#20a0a0" stroke-width="1" fill="none"/>
<polyline points="461.24,520.91 471.85,492.73 482.46,454.01" fill="none" stroke="#20a0a0" stroke-width="1.65" stroke-linejoin="round"/>
<path d="M457.24 520.91H465.24M461.24 516.91V524.91" stroke="#20a0a0" stroke-width="1" fill="none"/>
<path d="M467.85 492.73H475.85M471.85 488.73V496.73" stroke="#20a0a0" stroke-width="1" fill="none"/>
<path d="M478.46 454.01H486.46M482.46 450.01V458.01" stroke="#20a0a0" stroke-width="1" fill="none"/>
<polyline points="493.07,483.52 503.68,444.85" fill="none" stroke="#20a0a0" stroke-width="1.65" stroke-linejoin="round"/>
<path d="M489.07 483.52H497.07M493.07 479.52V487.52" stroke="#20a0a0" stroke-width="1" fill="none"/>
<path d="M499.68 444.85H507.68M503.68 440.85V448.85" stroke="#20a0a0" stroke-width="1" fill="none"/>
<polyline points="100.5,639.29 111.11,639.29 121.72,639.28 132.33,639.26 142.94,639.23 153.55,639.18 164.16,639.12 174.77,639.04 185.38,638.93 195.99,638.8 206.6,634.98 217.21,634.25 227.82,633.82 238.43,633.54 249.04,633.26 259.65,632.83 270.26,632.21 280.87,631.5 291.48,630.68 302.09,629.77 312.7,628.76 323.31,627.57 333.92,626.15 344.53,624.54 355.14,622.67 365.75,620.47 376.36,617.95 386.97,615 397.58,611.59 408.19,607.38 418.8,601.33 429.41,592.21 440.02,581.59 450.63,566.51" fill="none" stroke="#b8742c" stroke-width="1.65" stroke-linejoin="round"/>
<path d="M96.3 635.09L104.7 643.49M96.3 643.49L104.7 635.09" stroke="#b8742c" stroke-width="1" fill="none"/>
<path d="M106.91 635.09L115.31 643.49M106.91 643.49L115.31 635.09" stroke="#b8742c" stroke-width="1" fill="none"/>
<path d="M117.52 635.08L125.92 643.48M117.52 643.48L125.92 635.08" stroke="#b8742c" stroke-width="1" fill="none"/>
<path d="M128.13 635.06L136.53 643.46M128.13 643.46L136.53 635.06" stroke="#b8742c" stroke-width="1" fill="none"/>
<path d="M138.74 635.03L147.14 643.43M138.74 643.43L147.14 635.03" stroke="#b8742c" stroke-width="1" fill="none"/>
<path d="M149.35 634.98L157.75 643.38M149.35 643.38L157.75 634.98" stroke="#b8742c" stroke-width="1" fill="none"/>
<path d="M159.96 634.92L168.36 643.32M159.96 643.32L168.36 634.92" stroke="#b8742c" stroke-width="1" fill="none"/>
<path d="M170.57 634.84L178.97 643.24M170.57 643.24L178.97 634.84" stroke="#b8742c" stroke-width="1" fill="none"/>
<path d="M181.18 634.73L189.58 643.13M181.18 643.13L189.58 634.73" stroke="#b8742c" stroke-width="1" fill="none"/>
<path d="M191.79 634.6L200.19 643M191.79 643L200.19 634.6" stroke="#b8742c" stroke-width="1" fill="none"/>
<path d="M202.4 630.78L210.8 639.18M202.4 639.18L210.8 630.78" stroke="#b8742c" stroke-width="1" fill="none"/>
<path d="M213.01 630.05L221.41 638.45M213.01 638.45L221.41 630.05" stroke="#b8742c" stroke-width="1" fill="none"/>
<path d="M223.62 629.62L232.02 638.02M223.62 638.02L232.02 629.62" stroke="#b8742c" stroke-width="1" fill="none"/>
<path d="M234.23 629.34L242.63 637.74M234.23 637.74L242.63 629.34" stroke="#b8742c" stroke-width="1" fill="none"/>
<path d="M244.84 629.06L253.24 637.46M244.84 637.46L253.24 629.06" stroke="#b8742c" stroke-width="1" fill="none"/>
<path d="M255.45 628.63L263.85 637.03M255.45 637.03L263.85 628.63" stroke="#b8742c" stroke-width="1" fill="none"/>
<path d="M266.06 628.01L274.46 636.41M266.06 636.41L274.46 628.01" stroke="#b8742c" stroke-width="1" fill="none"/>
<path d="M276.67 627.3L285.07 635.7M276.67 635.7L285.07 627.3" stroke="#b8742c" stroke-width="1" fill="none"/>
<path d="M287.28 626.48L295.68 634.88M287.28 634.88L295.68 626.48" stroke="#b8742c" stroke-width="1" fill="none"/>
<path d="M297.89 625.57L306.29 633.97M297.89 633.97L306.29 625.57" stroke="#b8742c" stroke-width="1" fill="none"/>
<path d="M308.5 624.56L316.9 632.96M308.5 632.96L316.9 624.56" stroke="#b8742c" stroke-width="1" fill="none"/>
<path d="M319.11 623.37L327.51 631.77M319.11 631.77L327.51 623.37" stroke="#b8742c" stroke-width="1" fill="none"/>
<path d="M329.72 621.95L338.12 630.35M329.72 630.35L338.12 621.95" stroke="#b8742c" stroke-width="1" fill="none"/>
<path d="M340.33 620.34L348.73 628.74M340.33 628.74L348.73 620.34" stroke="#b8742c" stroke-width="1" fill="none"/>
<path d="M350.94 618.47L359.34 626.87M350.94 626.87L359.34 618.47" stroke="#b8742c" stroke-width="1" fill="none"/>
<path d="M361.55 616.27L369.95 624.67M361.55 624.67L369.95 616.27" stroke="#b8742c" stroke-width="1" fill="none"/>
<path d="M372.16 613.75L380.56 622.15M372.16 622.15L380.56 613.75" stroke="#b8742c" stroke-width="1" fill="none"/>
<path d="M382.77 610.8L391.17 619.2M382.77 619.2L391.17 610.8" stroke="#b8742c" stroke-width="1" fill="none"/>
<path d="M393.38 607.39L401.78 615.79M393.38 615.79L401.78 607.39" stroke="#b8742c" stroke-width="1" fill="none"/>
<path d="M403.99 603.18L412.39 611.58M403.99 611.58L412.39 603.18" stroke="#b8742c" stroke-width="1" fill="none"/>
<path d="M414.6 597.12L423 605.53M414.6 605.53L423 597.12" stroke="#b8742c" stroke-width="1" fill="none"/>
<path d="M425.21 588.01L433.61 596.41M425.21 596.41L433.61 588.01" stroke="#b8742c" stroke-width="1" fill="none"/>
<path d="M435.82 577.39L444.22 585.79M435.82 585.79L444.22 577.39" stroke="#b8742c" stroke-width="1" fill="none"/>
<path d="M446.43 562.31L454.83 570.71M446.43 570.71L454.83 562.31" stroke="#b8742c" stroke-width="1" fill="none"/>
<polyline points="461.24,524.56 471.85,494.38 482.46,457.91" fill="none" stroke="#b8742c" stroke-width="1.65" stroke-linejoin="round"/>
<path d="M457.04 520.36L465.44 528.76M457.04 528.76L465.44 520.36" stroke="#b8742c" stroke-width="1" fill="none"/>
<path d="M467.65 490.18L476.05 498.58M467.65 498.58L476.05 490.18" stroke="#b8742c" stroke-width="1" fill="none"/>
<path d="M478.26 453.71L486.66 462.11M478.26 462.11L486.66 453.71" stroke="#b8742c" stroke-width="1" fill="none"/>
<polyline points="493.07,485.93 503.68,449.2" fill="none" stroke="#b8742c" stroke-width="1.65" stroke-linejoin="round"/>
<path d="M488.87 481.73L497.27 490.13M488.87 490.13L497.27 481.73" stroke="#b8742c" stroke-width="1" fill="none"/>
<path d="M499.48 445L507.88 453.4M499.48 453.4L507.88 445" stroke="#b8742c" stroke-width="1" fill="none"/>
</g>
<rect x="100.5" y="2.3" width="443.6" height="644.1" fill="none" stroke="#000" stroke-width="2.1"/>
<line x1="100.5" y1="217.3" x2="544.1" y2="217.3" stroke="#000" stroke-width="2.1"/>
<line x1="100.5" y1="432.3" x2="544.1" y2="432.3" stroke="#000" stroke-width="2.1"/>
<line x1="108" y1="17.7" x2="160.3" y2="17.7" stroke="#000000" stroke-width="1.6"/>
<rect x="131.3" y="14.7" width="6.0" height="6.0" fill="#000000"/>
<text x="173.5" y="25.3" font-size="22.6" fill="#000">NL3</text>
<line x1="108" y1="45.7" x2="160.3" y2="45.7" stroke="#ff0000" stroke-width="1.6"/>
<circle cx="134.3" cy="45.7" r="3.5" fill="#ff0000"/>
<text x="173.5" y="53.3" font-size="22.6" fill="#000">PK1</text>
<line x1="108" y1="73.7" x2="160.3" y2="73.7" stroke="#0000ff" stroke-width="1.6"/>
<polygon points="134.3,68.5 138.6,76.3 130,76.3" fill="#0000ff"/>
<text x="173.5" y="81.3" font-size="22.6" fill="#000">PK1r</text>
<line x1="108" y1="101.7" x2="160.3" y2="101.7" stroke="#ff00ff" stroke-width="1.6"/>
<polygon points="134.3,106.9 138.6,99.1 130,99.1" fill="#ff00ff"/>
<text x="173.5" y="109.3" font-size="22.6" fill="#000">GM1</text>
<line x1="108" y1="238.5" x2="160.3" y2="238.5" stroke="#008000" stroke-width="1.6"/>
<polygon points="134.3,233.5 138.8,238.5 134.3,243.5 129.8,238.5" fill="#008000"/>
<text x="173.5" y="246.1" font-size="22.6" fill="#000">MTVTC</text>
<line x1="108" y1="266.5" x2="160.3" y2="266.5" stroke="#000080" stroke-width="1.6"/>
<polygon points="129.1,266.5 136.9,262.2 136.9,270.8" fill="#000080"/>
<text x="173.5" y="274.1" font-size="22.6" fill="#000">PKDD</text>
<line x1="108" y1="294.5" x2="160.3" y2="294.5" stroke="#8000ff" stroke-width="1.6"/>
<polygon points="139.5,294.5 131.7,290.2 131.7,298.8" fill="#8000ff"/>
<text x="173.5" y="302.1" font-size="22.6" fill="#000">DD-MEX2</text>
<line x1="108" y1="322.5" x2="160.3" y2="322.5" stroke="#800080" stroke-width="1.6"/>
<polygon points="134.3,318.1 137.92,320.3 137.92,324.7 134.3,326.9 130.68,324.7 130.68,320.3" fill="#800080"/>
<text x="173.5" y="330.1" font-size="22.6" fill="#000">TW99</text>
<line x1="108" y1="450.5" x2="160.3" y2="450.5" stroke="#800000" stroke-width="1.6"/>
<polygon points="134.3,446.2 135.42,449.26 138.67,449.38 136.11,451.39 137,454.52 134.3,452.7 131.6,454.52 132.49,451.39 129.93,449.38 133.18,449.26" fill="#800000"/>
<text x="166.8" y="458.1" font-size="22.6" fill="#000">DD-MEY</text>
<line x1="108" y1="478.5" x2="160.3" y2="478.5" stroke="#808000" stroke-width="1.6"/>
<polygon points="134.3,474.2 138.67,477.38 137,482.52 131.6,482.52 129.93,477.38" fill="#808000"/>
<text x="166.8" y="486.1" font-size="22.6" fill="#000">DD-MEX1</text>
<line x1="108" y1="506.5" x2="160.3" y2="506.5" stroke="#2f6fb8" stroke-width="1.6"/>
<circle cx="134.3" cy="506.5" r="3.6" fill="url(#sph)"/>
<text x="166.8" y="514.1" font-size="22.6" fill="#000">DD-ME2</text>
<line x1="108" y1="534.5" x2="160.3" y2="534.5" stroke="#20a0a0" stroke-width="1.6"/>
<path d="M130.3 534.5H138.3M134.3 530.5V538.5" stroke="#20a0a0" stroke-width="1" fill="none"/>
<text x="166.8" y="542.1" font-size="22.6" fill="#000">DD-MEX</text>
<line x1="108" y1="562.5" x2="160.3" y2="562.5" stroke="#b8742c" stroke-width="1.6"/>
<path d="M130.1 558.3L138.5 566.7M130.1 566.7L138.5 558.3" stroke="#b8742c" stroke-width="1" fill="none"/>
<text x="166.8" y="570.1" font-size="22.6" fill="#000">DD-LZ1</text>
<text transform="translate(89.0,180.3) scale(0.97,1)" font-size="23" text-anchor="end">50</text>
<text transform="translate(89.0,105.5) scale(0.97,1)" font-size="23" text-anchor="end">100</text>
<text transform="translate(89.0,30.7) scale(0.97,1)" font-size="23" text-anchor="end">150</text>
<text transform="translate(89.0,403.2) scale(0.97,1)" font-size="23" text-anchor="end">50</text>
<text transform="translate(89.0,343.1) scale(0.97,1)" font-size="23" text-anchor="end">100</text>
<text transform="translate(89.0,283) scale(0.97,1)" font-size="23" text-anchor="end">150</text>
<text x="88.6" y="588.2" font-size="24" text-anchor="end">100</text>
<text x="88.6" y="505.3" font-size="24" text-anchor="end">200</text>
<text x="81" y="681.0" font-size="24">10<tspan dx="-1.3" dy="-10.3" font-size="16.5">-5</tspan></text>
<text x="187.1" y="681.0" font-size="24">10<tspan dx="-1.3" dy="-10.3" font-size="16.5">-4</tspan></text>
<text x="293.2" y="681.0" font-size="24">10<tspan dx="-1.3" dy="-10.3" font-size="16.5">-3</tspan></text>
<text x="399.3" y="681.0" font-size="24">10<tspan dx="-1.3" dy="-10.3" font-size="16.5">-2</tspan></text>
<text x="505.4" y="681.0" font-size="24">10<tspan dx="-1.3" dy="-10.3" font-size="16.5">-1</tspan></text>
<rect x="298" y="13.5" width="92.8" height="44" fill="#fff" stroke="#000" stroke-width="1"/>
<text transform="translate(304.2,42.3) scale(0.79,1)" font-size="29.5" font-style="italic">Y</text>
<text transform="translate(319.9,49.1) scale(0.95,1)" font-size="22">p</text>
<text transform="translate(331.7,42.3) scale(0.93,1)" font-size="29.5" letter-spacing="-0.3">=0.1</text>
<rect x="298" y="229.5" width="92.8" height="44" fill="#fff" stroke="#000" stroke-width="1"/>
<text transform="translate(304.2,258.3) scale(0.79,1)" font-size="29.5" font-style="italic">Y</text>
<text transform="translate(319.9,265.1) scale(0.95,1)" font-size="22">p</text>
<text transform="translate(331.7,258.3) scale(0.93,1)" font-size="29.5" letter-spacing="-0.3">=0.3</text>
<rect x="298" y="441.8" width="92.8" height="44" fill="#fff" stroke="#000" stroke-width="1"/>
<text transform="translate(304.2,470.6) scale(0.79,1)" font-size="29.5" font-style="italic">Y</text>
<text transform="translate(319.9,477.40000000000003) scale(0.95,1)" font-size="22">p</text>
<text transform="translate(331.7,470.6) scale(0.93,1)" font-size="29.5" letter-spacing="-0.3">=0.5</text>
<text transform="translate(29.2,325) rotate(-90) scale(0.92,1)" font-size="30" font-style="italic">N</text>
<text transform="translate(36.4,304.2) rotate(-90) scale(0.82,1)" font-size="22.5" font-style="italic">p</text>
<text transform="translate(276.5,713.7) scale(0.85,1)" font-size="29.5" font-style="italic">n</text>
<text transform="translate(291.5,720.9) scale(0.9,1)" font-size="21">b</text>
<text transform="translate(302,713.7) scale(0.91,1)" font-size="29.5">(fm</text>
<text transform="translate(341.6,702.9) scale(1.08,1)" font-size="19.5">-3</text>
<text transform="translate(360,713.7) scale(0.88,1)" font-size="29.5">)</text>
</svg>
</body></html>
